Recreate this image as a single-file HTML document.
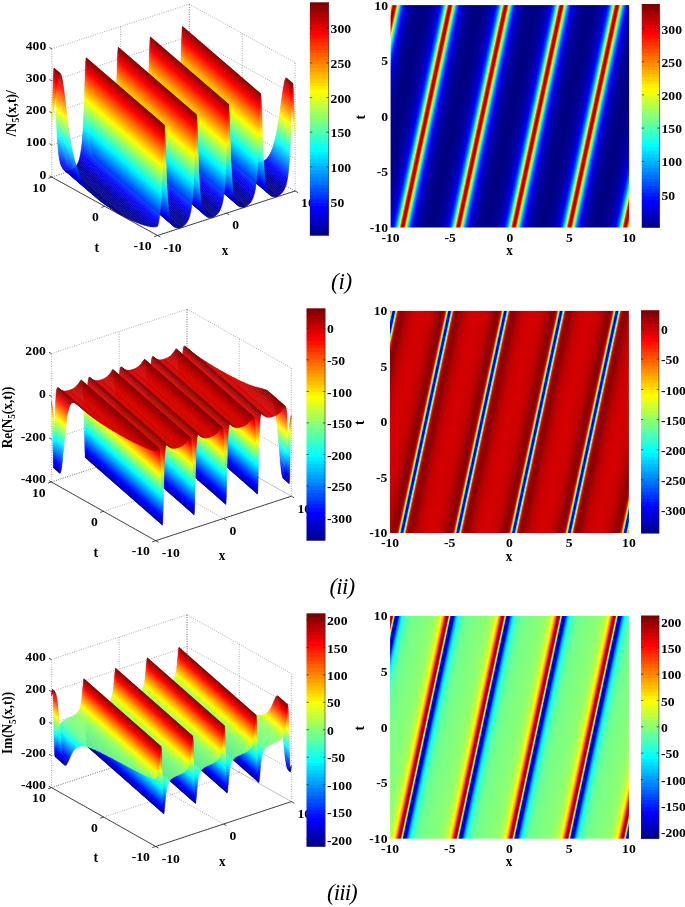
<!DOCTYPE html>
<html><head><meta charset="utf-8"><style>
html,body{margin:0;padding:0;background:#fff;overflow:hidden;width:685px;height:907px;}
svg{display:block;will-change:transform;}
.t{font-family:"Liberation Serif",serif;font-weight:bold;fill:#000;opacity:.999;}
.rn{font-family:"Liberation Serif",serif;font-style:italic;font-size:23px;fill:#000;opacity:.999;}
.sf path{fill:currentColor;stroke:currentColor;stroke-width:.45;stroke-linejoin:round;}
.sf .b{stroke-width:.3;}
.gd{fill:none;stroke:#555;stroke-width:.6;stroke-dasharray:.8 1.6;}
.ax{fill:none;stroke:#222;stroke-width:.8;}
.cbt{fill:none;stroke:#222;stroke-width:.7;}
.cbb{fill:none;stroke:#333;stroke-width:.6;}
</style></head><body>
<svg width="685" height="907" viewBox="0 0 685 907">
<defs><linearGradient id="jet" x1="0" y1="1" x2="0" y2="0"><stop offset="0.0000" stop-color="#00008f"/><stop offset="0.0156" stop-color="#00008f"/><stop offset="0.0156" stop-color="#00009f"/><stop offset="0.0312" stop-color="#00009f"/><stop offset="0.0312" stop-color="#0000af"/><stop offset="0.0469" stop-color="#0000af"/><stop offset="0.0469" stop-color="#0000bf"/><stop offset="0.0625" stop-color="#0000bf"/><stop offset="0.0625" stop-color="#0000cf"/><stop offset="0.0781" stop-color="#0000cf"/><stop offset="0.0781" stop-color="#0000df"/><stop offset="0.0938" stop-color="#0000df"/><stop offset="0.0938" stop-color="#0000ef"/><stop offset="0.1094" stop-color="#0000ef"/><stop offset="0.1094" stop-color="#0000ff"/><stop offset="0.1250" stop-color="#0000ff"/><stop offset="0.1250" stop-color="#0010ff"/><stop offset="0.1406" stop-color="#0010ff"/><stop offset="0.1406" stop-color="#0020ff"/><stop offset="0.1562" stop-color="#0020ff"/><stop offset="0.1562" stop-color="#0030ff"/><stop offset="0.1719" stop-color="#0030ff"/><stop offset="0.1719" stop-color="#0040ff"/><stop offset="0.1875" stop-color="#0040ff"/><stop offset="0.1875" stop-color="#0050ff"/><stop offset="0.2031" stop-color="#0050ff"/><stop offset="0.2031" stop-color="#0060ff"/><stop offset="0.2188" stop-color="#0060ff"/><stop offset="0.2188" stop-color="#0070ff"/><stop offset="0.2344" stop-color="#0070ff"/><stop offset="0.2344" stop-color="#0080ff"/><stop offset="0.2500" stop-color="#0080ff"/><stop offset="0.2500" stop-color="#008fff"/><stop offset="0.2656" stop-color="#008fff"/><stop offset="0.2656" stop-color="#009fff"/><stop offset="0.2812" stop-color="#009fff"/><stop offset="0.2812" stop-color="#00afff"/><stop offset="0.2969" stop-color="#00afff"/><stop offset="0.2969" stop-color="#00bfff"/><stop offset="0.3125" stop-color="#00bfff"/><stop offset="0.3125" stop-color="#00cfff"/><stop offset="0.3281" stop-color="#00cfff"/><stop offset="0.3281" stop-color="#00dfff"/><stop offset="0.3438" stop-color="#00dfff"/><stop offset="0.3438" stop-color="#00efff"/><stop offset="0.3594" stop-color="#00efff"/><stop offset="0.3594" stop-color="#00ffff"/><stop offset="0.3750" stop-color="#00ffff"/><stop offset="0.3750" stop-color="#10ffef"/><stop offset="0.3906" stop-color="#10ffef"/><stop offset="0.3906" stop-color="#20ffdf"/><stop offset="0.4062" stop-color="#20ffdf"/><stop offset="0.4062" stop-color="#30ffcf"/><stop offset="0.4219" stop-color="#30ffcf"/><stop offset="0.4219" stop-color="#40ffbf"/><stop offset="0.4375" stop-color="#40ffbf"/><stop offset="0.4375" stop-color="#50ffaf"/><stop offset="0.4531" stop-color="#50ffaf"/><stop offset="0.4531" stop-color="#60ff9f"/><stop offset="0.4688" stop-color="#60ff9f"/><stop offset="0.4688" stop-color="#70ff8f"/><stop offset="0.4844" stop-color="#70ff8f"/><stop offset="0.4844" stop-color="#80ff80"/><stop offset="0.5000" stop-color="#80ff80"/><stop offset="0.5000" stop-color="#8fff70"/><stop offset="0.5156" stop-color="#8fff70"/><stop offset="0.5156" stop-color="#9fff60"/><stop offset="0.5312" stop-color="#9fff60"/><stop offset="0.5312" stop-color="#afff50"/><stop offset="0.5469" stop-color="#afff50"/><stop offset="0.5469" stop-color="#bfff40"/><stop offset="0.5625" stop-color="#bfff40"/><stop offset="0.5625" stop-color="#cfff30"/><stop offset="0.5781" stop-color="#cfff30"/><stop offset="0.5781" stop-color="#dfff20"/><stop offset="0.5938" stop-color="#dfff20"/><stop offset="0.5938" stop-color="#efff10"/><stop offset="0.6094" stop-color="#efff10"/><stop offset="0.6094" stop-color="#ffff00"/><stop offset="0.6250" stop-color="#ffff00"/><stop offset="0.6250" stop-color="#ffef00"/><stop offset="0.6406" stop-color="#ffef00"/><stop offset="0.6406" stop-color="#ffdf00"/><stop offset="0.6562" stop-color="#ffdf00"/><stop offset="0.6562" stop-color="#ffcf00"/><stop offset="0.6719" stop-color="#ffcf00"/><stop offset="0.6719" stop-color="#ffbf00"/><stop offset="0.6875" stop-color="#ffbf00"/><stop offset="0.6875" stop-color="#ffaf00"/><stop offset="0.7031" stop-color="#ffaf00"/><stop offset="0.7031" stop-color="#ff9f00"/><stop offset="0.7188" stop-color="#ff9f00"/><stop offset="0.7188" stop-color="#ff8f00"/><stop offset="0.7344" stop-color="#ff8f00"/><stop offset="0.7344" stop-color="#ff8000"/><stop offset="0.7500" stop-color="#ff8000"/><stop offset="0.7500" stop-color="#ff7000"/><stop offset="0.7656" stop-color="#ff7000"/><stop offset="0.7656" stop-color="#ff6000"/><stop offset="0.7812" stop-color="#ff6000"/><stop offset="0.7812" stop-color="#ff5000"/><stop offset="0.7969" stop-color="#ff5000"/><stop offset="0.7969" stop-color="#ff4000"/><stop offset="0.8125" stop-color="#ff4000"/><stop offset="0.8125" stop-color="#ff3000"/><stop offset="0.8281" stop-color="#ff3000"/><stop offset="0.8281" stop-color="#ff2000"/><stop offset="0.8438" stop-color="#ff2000"/><stop offset="0.8438" stop-color="#ff1000"/><stop offset="0.8594" stop-color="#ff1000"/><stop offset="0.8594" stop-color="#ff0000"/><stop offset="0.8750" stop-color="#ff0000"/><stop offset="0.8750" stop-color="#ef0000"/><stop offset="0.8906" stop-color="#ef0000"/><stop offset="0.8906" stop-color="#df0000"/><stop offset="0.9062" stop-color="#df0000"/><stop offset="0.9062" stop-color="#cf0000"/><stop offset="0.9219" stop-color="#cf0000"/><stop offset="0.9219" stop-color="#bf0000"/><stop offset="0.9375" stop-color="#bf0000"/><stop offset="0.9375" stop-color="#af0000"/><stop offset="0.9531" stop-color="#af0000"/><stop offset="0.9531" stop-color="#9f0000"/><stop offset="0.9688" stop-color="#9f0000"/><stop offset="0.9688" stop-color="#8f0000"/><stop offset="0.9844" stop-color="#8f0000"/><stop offset="0.9844" stop-color="#800000"/><stop offset="1.0000" stop-color="#800000"/></linearGradient>
<linearGradient id="dg0" gradientUnits="userSpaceOnUse" spreadMethod="repeat" x1="533.70" y1="5.10" x2="586.94" y2="16.52"><stop offset="0.0000" stop-color="#000082"/><stop offset="0.0535" stop-color="#000084"/><stop offset="0.1071" stop-color="#00008b"/><stop offset="0.1606" stop-color="#000095"/><stop offset="0.2028" stop-color="#0000a2"/><stop offset="0.2323" stop-color="#0000ae"/><stop offset="0.2547" stop-color="#0000bb"/><stop offset="0.2726" stop-color="#0000c8"/><stop offset="0.2873" stop-color="#0000d5"/><stop offset="0.2997" stop-color="#0000e1"/><stop offset="0.3105" stop-color="#0000ee"/><stop offset="0.3199" stop-color="#0000fb"/><stop offset="0.3305" stop-color="#000dff"/><stop offset="0.3377" stop-color="#001aff"/><stop offset="0.3443" stop-color="#0026ff"/><stop offset="0.3502" stop-color="#0033ff"/><stop offset="0.3557" stop-color="#0040ff"/><stop offset="0.3608" stop-color="#004dff"/><stop offset="0.3655" stop-color="#0059ff"/><stop offset="0.3699" stop-color="#0066ff"/><stop offset="0.3740" stop-color="#0073ff"/><stop offset="0.3778" stop-color="#0080ff"/><stop offset="0.3815" stop-color="#008dff"/><stop offset="0.3850" stop-color="#009aff"/><stop offset="0.3882" stop-color="#00a7ff"/><stop offset="0.3913" stop-color="#00b3ff"/><stop offset="0.3942" stop-color="#00c0ff"/><stop offset="0.3971" stop-color="#00cdff"/><stop offset="0.3998" stop-color="#00daff"/><stop offset="0.4024" stop-color="#00e7ff"/><stop offset="0.4049" stop-color="#00f4ff"/><stop offset="0.4093" stop-color="#0dfff2"/><stop offset="0.4116" stop-color="#1affe5"/><stop offset="0.4138" stop-color="#27ffd8"/><stop offset="0.4159" stop-color="#33ffcc"/><stop offset="0.4179" stop-color="#40ffbf"/><stop offset="0.4199" stop-color="#4dffb2"/><stop offset="0.4219" stop-color="#5affa5"/><stop offset="0.4238" stop-color="#67ff98"/><stop offset="0.4256" stop-color="#74ff8b"/><stop offset="0.4274" stop-color="#81ff7e"/><stop offset="0.4292" stop-color="#8eff71"/><stop offset="0.4309" stop-color="#9bff64"/><stop offset="0.4326" stop-color="#a8ff57"/><stop offset="0.4343" stop-color="#b4ff4b"/><stop offset="0.4359" stop-color="#c1ff3e"/><stop offset="0.4376" stop-color="#ceff31"/><stop offset="0.4391" stop-color="#dbff24"/><stop offset="0.4407" stop-color="#e8ff17"/><stop offset="0.4422" stop-color="#f5ff0a"/><stop offset="0.4450" stop-color="#fff200"/><stop offset="0.4465" stop-color="#ffe500"/><stop offset="0.4480" stop-color="#ffd800"/><stop offset="0.4495" stop-color="#ffcb00"/><stop offset="0.4510" stop-color="#ffbe00"/><stop offset="0.4524" stop-color="#ffb100"/><stop offset="0.4539" stop-color="#ffa400"/><stop offset="0.4553" stop-color="#ff9700"/><stop offset="0.4568" stop-color="#ff8b00"/><stop offset="0.4582" stop-color="#ff7e00"/><stop offset="0.4597" stop-color="#ff7100"/><stop offset="0.4612" stop-color="#ff6400"/><stop offset="0.4627" stop-color="#ff5700"/><stop offset="0.4642" stop-color="#ff4a00"/><stop offset="0.4658" stop-color="#ff3d00"/><stop offset="0.4673" stop-color="#ff3000"/><stop offset="0.4689" stop-color="#ff2300"/><stop offset="0.4706" stop-color="#ff1600"/><stop offset="0.4723" stop-color="#ff0900"/><stop offset="0.4753" stop-color="#f20000"/><stop offset="0.4772" stop-color="#e50000"/><stop offset="0.4792" stop-color="#d80000"/><stop offset="0.4813" stop-color="#cb0000"/><stop offset="0.4837" stop-color="#be0000"/><stop offset="0.4864" stop-color="#b10000"/><stop offset="0.4897" stop-color="#a40000"/><stop offset="0.4945" stop-color="#980000"/><stop offset="0.5103" stop-color="#a40000"/><stop offset="0.5136" stop-color="#b10000"/><stop offset="0.5163" stop-color="#be0000"/><stop offset="0.5186" stop-color="#cb0000"/><stop offset="0.5208" stop-color="#d80000"/><stop offset="0.5228" stop-color="#e50000"/><stop offset="0.5247" stop-color="#f20000"/><stop offset="0.5265" stop-color="#ff0000"/><stop offset="0.5282" stop-color="#ff0d00"/><stop offset="0.5299" stop-color="#ff1a00"/><stop offset="0.5315" stop-color="#ff2700"/><stop offset="0.5331" stop-color="#ff3400"/><stop offset="0.5346" stop-color="#ff4100"/><stop offset="0.5362" stop-color="#ff4e00"/><stop offset="0.5377" stop-color="#ff5b00"/><stop offset="0.5392" stop-color="#ff6800"/><stop offset="0.5407" stop-color="#ff7500"/><stop offset="0.5422" stop-color="#ff8200"/><stop offset="0.5436" stop-color="#ff8f00"/><stop offset="0.5451" stop-color="#ff9b00"/><stop offset="0.5465" stop-color="#ffa800"/><stop offset="0.5480" stop-color="#ffb500"/><stop offset="0.5495" stop-color="#ffc200"/><stop offset="0.5510" stop-color="#ffcf00"/><stop offset="0.5525" stop-color="#ffdc00"/><stop offset="0.5540" stop-color="#ffe900"/><stop offset="0.5555" stop-color="#fff600"/><stop offset="0.5581" stop-color="#f2ff0d"/><stop offset="0.5596" stop-color="#e5ff1a"/><stop offset="0.5613" stop-color="#d8ff27"/><stop offset="0.5628" stop-color="#cbff34"/><stop offset="0.5645" stop-color="#beff41"/><stop offset="0.5661" stop-color="#b1ff4e"/><stop offset="0.5678" stop-color="#a4ff5b"/><stop offset="0.5695" stop-color="#97ff68"/><stop offset="0.5713" stop-color="#8aff75"/><stop offset="0.5730" stop-color="#7dff82"/><stop offset="0.5748" stop-color="#70ff8f"/><stop offset="0.5767" stop-color="#64ff9b"/><stop offset="0.5786" stop-color="#57ffa8"/><stop offset="0.5806" stop-color="#4affb5"/><stop offset="0.5826" stop-color="#3dffc2"/><stop offset="0.5846" stop-color="#30ffcf"/><stop offset="0.5867" stop-color="#23ffdc"/><stop offset="0.5889" stop-color="#16ffe9"/><stop offset="0.5912" stop-color="#09fff6"/><stop offset="0.5954" stop-color="#00f2ff"/><stop offset="0.5979" stop-color="#00e5ff"/><stop offset="0.6005" stop-color="#00d8ff"/><stop offset="0.6032" stop-color="#00ccff"/><stop offset="0.6060" stop-color="#00bfff"/><stop offset="0.6090" stop-color="#00b2ff"/><stop offset="0.6121" stop-color="#00a5ff"/><stop offset="0.6155" stop-color="#0098ff"/><stop offset="0.6189" stop-color="#008bff"/><stop offset="0.6225" stop-color="#007fff"/><stop offset="0.6264" stop-color="#0072ff"/><stop offset="0.6306" stop-color="#0065ff"/><stop offset="0.6350" stop-color="#0058ff"/><stop offset="0.6397" stop-color="#004bff"/><stop offset="0.6449" stop-color="#003eff"/><stop offset="0.6504" stop-color="#0032ff"/><stop offset="0.6564" stop-color="#0025ff"/><stop offset="0.6631" stop-color="#0018ff"/><stop offset="0.6704" stop-color="#000bff"/><stop offset="0.6865" stop-color="#0000f2"/><stop offset="0.6968" stop-color="#0000e5"/><stop offset="0.7087" stop-color="#0000d9"/><stop offset="0.7226" stop-color="#0000cc"/><stop offset="0.7393" stop-color="#0000bf"/><stop offset="0.7601" stop-color="#0000b2"/><stop offset="0.7869" stop-color="#0000a6"/><stop offset="0.8242" stop-color="#000099"/><stop offset="0.8777" stop-color="#00008d"/><stop offset="0.9313" stop-color="#000086"/><stop offset="0.9849" stop-color="#000082"/><stop offset="1.0000" stop-color="#000082"/></linearGradient>
<linearGradient id="dg1" gradientUnits="userSpaceOnUse" spreadMethod="repeat" x1="533.34" y1="310.90" x2="586.66" y2="322.37"><stop offset="0.0000" stop-color="#d40000"/><stop offset="0.0535" stop-color="#d20000"/><stop offset="0.1071" stop-color="#cf0000"/><stop offset="0.1606" stop-color="#c80000"/><stop offset="0.2142" stop-color="#bd0000"/><stop offset="0.2555" stop-color="#b00000"/><stop offset="0.2869" stop-color="#a40000"/><stop offset="0.3135" stop-color="#970000"/><stop offset="0.3394" stop-color="#8a0000"/><stop offset="0.3930" stop-color="#8f0000"/><stop offset="0.4008" stop-color="#9b0000"/><stop offset="0.4062" stop-color="#a80000"/><stop offset="0.4104" stop-color="#b50000"/><stop offset="0.4140" stop-color="#c20000"/><stop offset="0.4170" stop-color="#cf0000"/><stop offset="0.4197" stop-color="#dc0000"/><stop offset="0.4221" stop-color="#e90000"/><stop offset="0.4243" stop-color="#f60000"/><stop offset="0.4278" stop-color="#ff0d00"/><stop offset="0.4296" stop-color="#ff1a00"/><stop offset="0.4313" stop-color="#ff2700"/><stop offset="0.4329" stop-color="#ff3400"/><stop offset="0.4344" stop-color="#ff4100"/><stop offset="0.4358" stop-color="#ff4e00"/><stop offset="0.4372" stop-color="#ff5b00"/><stop offset="0.4386" stop-color="#ff6800"/><stop offset="0.4399" stop-color="#ff7500"/><stop offset="0.4411" stop-color="#ff8200"/><stop offset="0.4423" stop-color="#ff9000"/><stop offset="0.4435" stop-color="#ff9d00"/><stop offset="0.4446" stop-color="#ffa900"/><stop offset="0.4457" stop-color="#ffb600"/><stop offset="0.4467" stop-color="#ffc300"/><stop offset="0.4478" stop-color="#ffd100"/><stop offset="0.4488" stop-color="#ffdd00"/><stop offset="0.4498" stop-color="#ffeb00"/><stop offset="0.4507" stop-color="#fff700"/><stop offset="0.4522" stop-color="#f2ff0d"/><stop offset="0.4532" stop-color="#e4ff1b"/><stop offset="0.4541" stop-color="#d8ff27"/><stop offset="0.4550" stop-color="#caff35"/><stop offset="0.4559" stop-color="#bdff42"/><stop offset="0.4568" stop-color="#b0ff4f"/><stop offset="0.4577" stop-color="#a3ff5c"/><stop offset="0.4585" stop-color="#96ff69"/><stop offset="0.4593" stop-color="#89ff76"/><stop offset="0.4602" stop-color="#7bff84"/><stop offset="0.4610" stop-color="#6eff91"/><stop offset="0.4619" stop-color="#61ff9e"/><stop offset="0.4627" stop-color="#54ffab"/><stop offset="0.4635" stop-color="#47ffb8"/><stop offset="0.4643" stop-color="#3affc5"/><stop offset="0.4651" stop-color="#2dffd2"/><stop offset="0.4659" stop-color="#20ffdf"/><stop offset="0.4667" stop-color="#13ffec"/><stop offset="0.4675" stop-color="#06fff9"/><stop offset="0.4687" stop-color="#00f2ff"/><stop offset="0.4695" stop-color="#00e5ff"/><stop offset="0.4703" stop-color="#00d8ff"/><stop offset="0.4711" stop-color="#00cbff"/><stop offset="0.4719" stop-color="#00beff"/><stop offset="0.4728" stop-color="#00b0ff"/><stop offset="0.4736" stop-color="#00a3ff"/><stop offset="0.4745" stop-color="#0096ff"/><stop offset="0.4753" stop-color="#0089ff"/><stop offset="0.4762" stop-color="#007cff"/><stop offset="0.4771" stop-color="#006fff"/><stop offset="0.4780" stop-color="#0062ff"/><stop offset="0.4789" stop-color="#0055ff"/><stop offset="0.4799" stop-color="#0048ff"/><stop offset="0.4809" stop-color="#003aff"/><stop offset="0.4819" stop-color="#002dff"/><stop offset="0.4829" stop-color="#0020ff"/><stop offset="0.4840" stop-color="#0013ff"/><stop offset="0.4852" stop-color="#0006ff"/><stop offset="0.4870" stop-color="#0000f2"/><stop offset="0.4884" stop-color="#0000e5"/><stop offset="0.4900" stop-color="#0000d8"/><stop offset="0.4918" stop-color="#0000cb"/><stop offset="0.4940" stop-color="#0000be"/><stop offset="0.4980" stop-color="#0000b1"/><stop offset="0.5060" stop-color="#0000be"/><stop offset="0.5082" stop-color="#0000cb"/><stop offset="0.5100" stop-color="#0000d8"/><stop offset="0.5115" stop-color="#0000e5"/><stop offset="0.5130" stop-color="#0000f2"/><stop offset="0.5142" stop-color="#0000ff"/><stop offset="0.5154" stop-color="#000dff"/><stop offset="0.5165" stop-color="#001aff"/><stop offset="0.5176" stop-color="#0027ff"/><stop offset="0.5186" stop-color="#0034ff"/><stop offset="0.5196" stop-color="#0042ff"/><stop offset="0.5206" stop-color="#004eff"/><stop offset="0.5216" stop-color="#005cff"/><stop offset="0.5224" stop-color="#0069ff"/><stop offset="0.5233" stop-color="#0076ff"/><stop offset="0.5242" stop-color="#0083ff"/><stop offset="0.5251" stop-color="#0090ff"/><stop offset="0.5259" stop-color="#009dff"/><stop offset="0.5268" stop-color="#00aaff"/><stop offset="0.5276" stop-color="#00b8ff"/><stop offset="0.5285" stop-color="#00c5ff"/><stop offset="0.5293" stop-color="#00d3ff"/><stop offset="0.5301" stop-color="#00dfff"/><stop offset="0.5310" stop-color="#00ecff"/><stop offset="0.5318" stop-color="#00f9ff"/><stop offset="0.5329" stop-color="#0dfff2"/><stop offset="0.5337" stop-color="#1affe5"/><stop offset="0.5345" stop-color="#27ffd8"/><stop offset="0.5353" stop-color="#34ffcb"/><stop offset="0.5361" stop-color="#41ffbe"/><stop offset="0.5369" stop-color="#4dffb2"/><stop offset="0.5377" stop-color="#5affa5"/><stop offset="0.5385" stop-color="#68ff97"/><stop offset="0.5394" stop-color="#75ff8a"/><stop offset="0.5403" stop-color="#82ff7d"/><stop offset="0.5411" stop-color="#90ff6f"/><stop offset="0.5420" stop-color="#9dff62"/><stop offset="0.5428" stop-color="#aaff55"/><stop offset="0.5436" stop-color="#b6ff49"/><stop offset="0.5445" stop-color="#c4ff3b"/><stop offset="0.5454" stop-color="#d1ff2e"/><stop offset="0.5464" stop-color="#deff21"/><stop offset="0.5472" stop-color="#ebff14"/><stop offset="0.5482" stop-color="#f8ff07"/><stop offset="0.5496" stop-color="#fff200"/><stop offset="0.5506" stop-color="#ffe500"/><stop offset="0.5516" stop-color="#ffd800"/><stop offset="0.5526" stop-color="#ffcb00"/><stop offset="0.5537" stop-color="#ffbe00"/><stop offset="0.5547" stop-color="#ffb100"/><stop offset="0.5558" stop-color="#ffa400"/><stop offset="0.5570" stop-color="#ff9700"/><stop offset="0.5581" stop-color="#ff8a00"/><stop offset="0.5594" stop-color="#ff7d00"/><stop offset="0.5606" stop-color="#ff7000"/><stop offset="0.5619" stop-color="#ff6300"/><stop offset="0.5632" stop-color="#ff5600"/><stop offset="0.5646" stop-color="#ff4900"/><stop offset="0.5661" stop-color="#ff3c00"/><stop offset="0.5676" stop-color="#ff2f00"/><stop offset="0.5693" stop-color="#ff2200"/><stop offset="0.5710" stop-color="#ff1500"/><stop offset="0.5729" stop-color="#ff0800"/><stop offset="0.5762" stop-color="#f20000"/><stop offset="0.5785" stop-color="#e50000"/><stop offset="0.5809" stop-color="#d80000"/><stop offset="0.5837" stop-color="#cc0000"/><stop offset="0.5868" stop-color="#bf0000"/><stop offset="0.5905" stop-color="#b20000"/><stop offset="0.5949" stop-color="#a50000"/><stop offset="0.6008" stop-color="#980000"/><stop offset="0.6095" stop-color="#8c0000"/><stop offset="0.6631" stop-color="#8b0000"/><stop offset="0.6887" stop-color="#980000"/><stop offset="0.7156" stop-color="#a50000"/><stop offset="0.7476" stop-color="#b20000"/><stop offset="0.7903" stop-color="#be0000"/><stop offset="0.8439" stop-color="#c90000"/><stop offset="0.8974" stop-color="#cf0000"/><stop offset="0.9510" stop-color="#d30000"/><stop offset="1.0000" stop-color="#d40000"/></linearGradient>
<linearGradient id="dg2" gradientUnits="userSpaceOnUse" spreadMethod="repeat" x1="533.38" y1="616.00" x2="586.69" y2="627.43"><stop offset="0.0000" stop-color="#80ff7f"/><stop offset="0.0535" stop-color="#84ff7b"/><stop offset="0.1071" stop-color="#88ff77"/><stop offset="0.1606" stop-color="#8dff72"/><stop offset="0.2142" stop-color="#97ff68"/><stop offset="0.2546" stop-color="#a4ff5b"/><stop offset="0.2806" stop-color="#b1ff4e"/><stop offset="0.2993" stop-color="#bdff42"/><stop offset="0.3137" stop-color="#caff35"/><stop offset="0.3253" stop-color="#d7ff28"/><stop offset="0.3351" stop-color="#e4ff1b"/><stop offset="0.3434" stop-color="#f1ff0e"/><stop offset="0.3507" stop-color="#fdff02"/><stop offset="0.3580" stop-color="#fff200"/><stop offset="0.3637" stop-color="#ffe500"/><stop offset="0.3689" stop-color="#ffd900"/><stop offset="0.3737" stop-color="#ffcc00"/><stop offset="0.3781" stop-color="#ffbf00"/><stop offset="0.3822" stop-color="#ffb200"/><stop offset="0.3861" stop-color="#ffa500"/><stop offset="0.3897" stop-color="#ff9800"/><stop offset="0.3932" stop-color="#ff8c00"/><stop offset="0.3965" stop-color="#ff7f00"/><stop offset="0.3997" stop-color="#ff7200"/><stop offset="0.4027" stop-color="#ff6500"/><stop offset="0.4055" stop-color="#ff5800"/><stop offset="0.4083" stop-color="#ff4b00"/><stop offset="0.4111" stop-color="#ff3e00"/><stop offset="0.4138" stop-color="#ff3100"/><stop offset="0.4164" stop-color="#ff2400"/><stop offset="0.4190" stop-color="#ff1800"/><stop offset="0.4216" stop-color="#ff0b00"/><stop offset="0.4264" stop-color="#f20000"/><stop offset="0.4289" stop-color="#e50000"/><stop offset="0.4316" stop-color="#d90000"/><stop offset="0.4343" stop-color="#cc0000"/><stop offset="0.4373" stop-color="#bf0000"/><stop offset="0.4405" stop-color="#b20000"/><stop offset="0.4442" stop-color="#a50000"/><stop offset="0.4495" stop-color="#980000"/><stop offset="0.4639" stop-color="#a50000"/><stop offset="0.4666" stop-color="#b20000"/><stop offset="0.4688" stop-color="#bf0000"/><stop offset="0.4705" stop-color="#cc0000"/><stop offset="0.4721" stop-color="#d90000"/><stop offset="0.4736" stop-color="#e60000"/><stop offset="0.4750" stop-color="#f30000"/><stop offset="0.4773" stop-color="#ff0d00"/><stop offset="0.4784" stop-color="#ff1a00"/><stop offset="0.4794" stop-color="#ff2700"/><stop offset="0.4804" stop-color="#ff3300"/><stop offset="0.4814" stop-color="#ff4100"/><stop offset="0.4824" stop-color="#ff4e00"/><stop offset="0.4833" stop-color="#ff5b00"/><stop offset="0.4842" stop-color="#ff6800"/><stop offset="0.4851" stop-color="#ff7500"/><stop offset="0.4859" stop-color="#ff8200"/><stop offset="0.4868" stop-color="#ff9000"/><stop offset="0.4875" stop-color="#ff9d00"/><stop offset="0.4883" stop-color="#ffaa00"/><stop offset="0.4891" stop-color="#ffb700"/><stop offset="0.4899" stop-color="#ffc400"/><stop offset="0.4906" stop-color="#ffd100"/><stop offset="0.4914" stop-color="#ffde00"/><stop offset="0.4921" stop-color="#ffec00"/><stop offset="0.4929" stop-color="#fff900"/><stop offset="0.4940" stop-color="#f2ff0d"/><stop offset="0.4947" stop-color="#e5ff1a"/><stop offset="0.4954" stop-color="#d8ff27"/><stop offset="0.4960" stop-color="#cbff34"/><stop offset="0.4967" stop-color="#beff41"/><stop offset="0.4975" stop-color="#b1ff4e"/><stop offset="0.4981" stop-color="#a3ff5c"/><stop offset="0.4988" stop-color="#96ff69"/><stop offset="0.4995" stop-color="#89ff76"/><stop offset="0.5002" stop-color="#7cff83"/><stop offset="0.5009" stop-color="#6eff91"/><stop offset="0.5016" stop-color="#61ff9e"/><stop offset="0.5023" stop-color="#54ffab"/><stop offset="0.5030" stop-color="#47ffb8"/><stop offset="0.5038" stop-color="#3affc5"/><stop offset="0.5044" stop-color="#2dffd2"/><stop offset="0.5051" stop-color="#20ffdf"/><stop offset="0.5059" stop-color="#13ffec"/><stop offset="0.5065" stop-color="#06fff9"/><stop offset="0.5076" stop-color="#00f2ff"/><stop offset="0.5083" stop-color="#00e5ff"/><stop offset="0.5091" stop-color="#00d7ff"/><stop offset="0.5098" stop-color="#00caff"/><stop offset="0.5106" stop-color="#00bdff"/><stop offset="0.5114" stop-color="#00b0ff"/><stop offset="0.5122" stop-color="#00a3ff"/><stop offset="0.5130" stop-color="#0095ff"/><stop offset="0.5138" stop-color="#0089ff"/><stop offset="0.5146" stop-color="#007bff"/><stop offset="0.5155" stop-color="#006eff"/><stop offset="0.5164" stop-color="#0061ff"/><stop offset="0.5173" stop-color="#0054ff"/><stop offset="0.5182" stop-color="#0047ff"/><stop offset="0.5192" stop-color="#003aff"/><stop offset="0.5202" stop-color="#002dff"/><stop offset="0.5212" stop-color="#0020ff"/><stop offset="0.5223" stop-color="#0013ff"/><stop offset="0.5235" stop-color="#0006ff"/><stop offset="0.5253" stop-color="#0000f2"/><stop offset="0.5266" stop-color="#0000e5"/><stop offset="0.5281" stop-color="#0000d8"/><stop offset="0.5298" stop-color="#0000cb"/><stop offset="0.5317" stop-color="#0000be"/><stop offset="0.5340" stop-color="#0000b1"/><stop offset="0.5368" stop-color="#0000a4"/><stop offset="0.5422" stop-color="#000097"/><stop offset="0.5548" stop-color="#0000a4"/><stop offset="0.5587" stop-color="#0000b1"/><stop offset="0.5620" stop-color="#0000be"/><stop offset="0.5650" stop-color="#0000cb"/><stop offset="0.5678" stop-color="#0000d8"/><stop offset="0.5706" stop-color="#0000e5"/><stop offset="0.5731" stop-color="#0000f2"/><stop offset="0.5757" stop-color="#0000fe"/><stop offset="0.5784" stop-color="#000dff"/><stop offset="0.5809" stop-color="#001aff"/><stop offset="0.5835" stop-color="#0026ff"/><stop offset="0.5862" stop-color="#0033ff"/><stop offset="0.5889" stop-color="#0040ff"/><stop offset="0.5917" stop-color="#004dff"/><stop offset="0.5944" stop-color="#005aff"/><stop offset="0.5974" stop-color="#0067ff"/><stop offset="0.6003" stop-color="#0074ff"/><stop offset="0.6035" stop-color="#0081ff"/><stop offset="0.6068" stop-color="#008eff"/><stop offset="0.6102" stop-color="#009aff"/><stop offset="0.6139" stop-color="#00a7ff"/><stop offset="0.6178" stop-color="#00b4ff"/><stop offset="0.6218" stop-color="#00c1ff"/><stop offset="0.6262" stop-color="#00ceff"/><stop offset="0.6310" stop-color="#00dbff"/><stop offset="0.6362" stop-color="#00e7ff"/><stop offset="0.6420" stop-color="#00f4ff"/><stop offset="0.6544" stop-color="#0dfff2"/><stop offset="0.6624" stop-color="#1affe5"/><stop offset="0.6717" stop-color="#26ffd9"/><stop offset="0.6827" stop-color="#33ffcc"/><stop offset="0.6962" stop-color="#40ffbf"/><stop offset="0.7135" stop-color="#4dffb2"/><stop offset="0.7369" stop-color="#59ffa6"/><stop offset="0.7719" stop-color="#66ff99"/><stop offset="0.8255" stop-color="#71ff8e"/><stop offset="0.8790" stop-color="#78ff87"/><stop offset="0.9326" stop-color="#7cff83"/><stop offset="0.9861" stop-color="#80ff7f"/><stop offset="1.0000" stop-color="#80ff7f"/></linearGradient></defs>
<path class="gd" d="M51.8 177.1L189.4 132.6M189.4 132.6L295.1 191.0M51.8 145.0L189.4 100.5M189.4 100.5L295.1 158.9M51.8 112.9L189.4 68.4M189.4 68.4L295.1 126.8M51.8 80.9L189.4 36.3M189.4 36.3L295.1 94.7M51.8 48.8L189.3 4.2M189.3 4.2L295.1 62.6M51.8 177.1L51.8 48.8M157.5 235.5L51.8 177.1M120.6 154.8L120.6 26.5M226.3 213.2L120.6 154.8M189.4 132.6L189.3 4.2M295.1 191.0L189.4 132.6M295.1 191.0L295.1 62.6M157.5 235.5L295.1 191.0M242.2 161.8L242.2 33.4M104.7 206.3L242.2 161.8M189.4 132.6L189.3 4.2M51.8 177.1L189.4 132.6"/>
<g class="sf">
<path class="b" color="#98ff67" d="M295.0 134.0L295.1 134.9L294.9 133.9Z"/>
<path class="b" color="#a3ff5c" d="M295.0 132.8L295.0 134.0L294.9 133.9L294.8 132.6Z"/>
<path class="b" color="#aeff51" d="M294.9 131.7L295.0 132.8L294.8 132.6L294.6 131.3Z"/>
<path class="b" color="#baff45" d="M294.9 130.5L294.9 131.7L294.6 131.3L294.4 130.0Z"/>
<path class="b" color="#c5ff3a" d="M294.9 129.3L294.9 130.5L294.4 130.0L294.2 128.7Z"/>
<path class="b" color="#d0ff2f" d="M294.8 128.1L294.9 129.3L294.2 128.7L294.1 127.5Z"/>
<path class="b" color="#dbff24" d="M294.8 126.9L294.8 128.1L294.1 127.5L293.9 126.2Z"/>
<path class="b" color="#e6ff19" d="M294.7 125.7L294.8 126.9L293.9 126.2L293.7 124.9Z"/>
<path class="b" color="#f2ff0d" d="M294.7 124.6L294.7 125.7L293.7 124.9L293.6 123.6Z"/>
<path class="b" color="#fdff02" d="M294.6 123.4L294.7 124.6L293.6 123.6L293.4 122.3Z"/>
<path class="b" color="#fff600" d="M294.6 122.2L294.6 123.4L293.4 122.3L293.2 121.0Z"/>
<path class="b" color="#ffeb00" d="M294.6 121.0L294.6 122.2L293.2 121.0L293.1 119.8Z"/>
<path class="b" color="#ffe000" d="M294.5 119.9L294.6 121.0L293.1 119.8L292.9 118.5Z"/>
<path class="b" color="#ffd500" d="M294.5 118.7L294.5 119.9L292.9 118.5L292.8 117.2Z"/>
<path class="b" color="#ffca00" d="M294.4 117.5L294.5 118.7L292.8 117.2L292.6 115.9Z"/>
<path class="b" color="#ffbf00" d="M294.4 116.3L294.4 117.5L292.6 115.9L292.5 114.7Z"/>
<path class="b" color="#ffb400" d="M294.4 115.2L294.4 116.3L292.5 114.7L292.3 113.4Z"/>
<path class="b" color="#ffa900" d="M294.3 114.0L294.4 115.2L292.3 113.4L292.2 112.1Z"/>
<path class="b" color="#ff9e00" d="M294.3 112.8L294.3 114.0L292.2 112.1L292.0 110.8Z"/>
<path class="b" color="#ff9300" d="M294.2 111.6L294.3 112.8L292.0 110.8L291.9 109.6Z"/>
<path class="b" color="#ff8800" d="M294.2 110.4L294.2 111.6L291.9 109.6L291.7 108.3Z"/>
<path class="b" color="#ff7d00" d="M294.2 109.2L294.2 110.4L291.7 108.3L291.6 107.0Z"/>
<path class="b" color="#ff7200" d="M294.1 108.1L294.2 109.2L291.6 107.0L291.4 105.7Z"/>
<path class="b" color="#ff6800" d="M294.1 106.9L294.1 108.1L291.4 105.7L291.3 104.5Z"/>
<path class="b" color="#ff5d00" d="M294.0 105.7L294.1 106.9L291.3 104.5L291.1 103.2Z"/>
<path class="b" color="#ff5200" d="M294.0 104.5L294.0 105.7L291.1 103.2L290.9 101.9Z"/>
<path class="b" color="#ff4700" d="M294.0 103.4L294.0 104.5L290.9 101.9L290.8 100.6Z"/>
<path class="b" color="#ff3c00" d="M293.9 102.2L294.0 103.4L290.8 100.6L290.6 99.3Z"/>
<path class="b" color="#ff3200" d="M293.9 101.0L293.9 102.2L290.6 99.3L290.5 98.1Z"/>
<path class="b" color="#ff2700" d="M293.8 99.8L293.9 101.0L290.5 98.1L290.3 96.8Z"/>
<path class="b" color="#ff1c00" d="M293.8 98.7L293.8 99.8L290.3 96.8L290.2 95.5Z"/>
<path class="b" color="#ff1200" d="M293.7 97.5L293.8 98.7L290.2 95.5L290.0 94.3Z"/>
<path class="b" color="#ff0700" d="M293.7 96.3L293.7 97.5L290.0 94.3L289.8 93.0Z"/>
<path class="b" color="#fb0000" d="M293.7 95.1L293.7 96.3L289.8 93.0L289.6 91.7Z"/>
<path class="b" color="#f10000" d="M293.6 93.9L293.7 95.1L289.6 91.7L289.5 90.4Z"/>
<path class="b" color="#e60000" d="M293.6 92.8L293.6 93.9L289.5 90.4L289.3 89.1Z"/>
<path class="b" color="#db0000" d="M293.5 91.6L293.6 92.8L289.3 89.1L289.1 87.8Z"/>
<path class="b" color="#d10000" d="M293.4 90.4L293.5 91.6L289.1 87.8L288.9 86.5Z"/>
<path class="b" color="#c60000" d="M293.4 89.2L293.4 90.4L288.9 86.5L288.6 85.2Z"/>
<path class="b" color="#bc0000" d="M293.3 88.1L293.4 89.2L288.6 85.2L288.4 83.8Z"/>
<path class="b" color="#b10000" d="M293.3 86.9L293.3 88.1L288.4 83.8L288.1 82.5Z"/>
<path class="b" color="#a70000" d="M293.2 85.7L293.3 86.9L288.1 82.5L287.8 81.1Z"/>
<path class="b" color="#9c0000" d="M293.1 84.6L293.2 85.7L287.8 81.1L287.4 79.7Z"/>
<path class="b" color="#920000" d="M292.8 83.4L293.1 84.6L287.4 79.7L286.5 78.0Z"/>
<path color="#8f0000" d="M285.8 78.1L286.5 78.0L292.8 83.4L292.7 84.0Z"/>
<path color="#960000" d="M285.3 79.1L285.8 78.1L292.7 84.0L292.5 85.3Z"/>
<path color="#a10000" d="M285.0 80.1L285.3 79.1L292.5 85.3L292.4 86.5Z"/>
<path color="#ab0000" d="M284.7 81.1L285.0 80.1L292.4 86.5L292.4 87.7Z"/>
<path color="#b60000" d="M284.4 82.2L284.7 81.1L292.4 87.7L292.3 88.9Z"/>
<path color="#c00000" d="M284.2 83.2L284.4 82.2L292.3 88.9L292.2 90.1Z"/>
<path color="#cb0000" d="M284.0 84.3L284.2 83.2L292.2 90.1L292.2 91.3Z"/>
<path color="#d60000" d="M283.8 85.4L284.0 84.3L292.2 91.3L292.1 92.6Z"/>
<path color="#e00000" d="M283.6 86.5L283.8 85.4L292.1 92.6L292.1 93.8Z"/>
<path color="#eb0000" d="M283.4 87.5L283.6 86.5L292.1 93.8L292.0 95.0Z"/>
<path color="#f50000" d="M283.2 88.6L283.4 87.5L292.0 95.0L292.0 96.2Z"/>
<path color="#ff0100" d="M283.1 89.7L283.2 88.6L292.0 96.2L291.9 97.4Z"/>
<path color="#ff0c00" d="M282.9 90.8L283.1 89.7L291.9 97.4L291.9 98.6Z"/>
<path color="#ff1600" d="M282.7 91.9L282.9 90.8L291.9 98.6L291.9 99.8Z"/>
<path color="#ff2100" d="M282.6 93.0L282.7 91.9L291.9 99.8L291.8 101.0Z"/>
<path color="#ff2c00" d="M282.4 94.1L282.6 93.0L291.8 101.0L291.8 102.2Z"/>
<path color="#ff3600" d="M282.3 95.2L282.4 94.1L291.8 102.2L291.7 103.4Z"/>
<path color="#ff4100" d="M282.1 96.3L282.3 95.2L291.7 103.4L291.7 104.6Z"/>
<path color="#ff4c00" d="M281.9 97.5L282.1 96.3L291.7 104.6L291.7 105.8Z"/>
<path color="#ff5700" d="M281.8 98.5L281.9 97.5L291.7 105.8L291.6 107.0Z"/>
<path color="#ff6100" d="M281.6 99.7L281.8 98.5L291.6 107.0L291.6 108.2Z"/>
<path color="#ff6c00" d="M281.5 100.8L281.6 99.7L291.6 108.2L291.5 109.4Z"/>
<path color="#ff7700" d="M281.3 101.9L281.5 100.8L291.5 109.4L291.5 110.6Z"/>
<path color="#ff8200" d="M281.2 103.0L281.3 101.9L291.5 110.6L291.5 111.8Z"/>
<path color="#ff8d00" d="M281.0 104.1L281.2 103.0L291.5 111.8L291.4 113.0Z"/>
<path color="#ff9800" d="M280.9 105.2L281.0 104.1L291.4 113.0L291.4 114.2Z"/>
<path color="#ffa300" d="M280.7 106.3L280.9 105.2L291.4 114.2L291.3 115.4Z"/>
<path color="#ffae00" d="M280.6 107.4L280.7 106.3L291.3 115.4L291.3 116.6Z"/>
<path color="#ffb900" d="M280.4 108.5L280.6 107.4L291.3 116.6L291.3 117.8Z"/>
<path color="#ffc400" d="M280.3 109.6L280.4 108.5L291.3 117.8L291.2 119.0Z"/>
<path color="#ffcf00" d="M280.1 110.7L280.3 109.6L291.2 119.0L291.2 120.2Z"/>
<path color="#ffda00" d="M280.0 111.8L280.1 110.7L291.2 120.2L291.1 121.5Z"/>
<path color="#ffe500" d="M279.8 113.0L280.0 111.8L291.1 121.5L291.1 122.7Z"/>
<path color="#fff000" d="M279.7 114.1L279.8 113.0L291.1 122.7L291.1 123.9Z"/>
<path color="#fffb00" d="M279.5 115.2L279.7 114.1L291.1 123.9L291.0 125.1Z"/>
<path color="#f8ff07" d="M279.3 116.3L279.5 115.2L291.0 125.1L291.0 126.3Z"/>
<path color="#edff12" d="M279.2 117.4L279.3 116.3L291.0 126.3L290.9 127.5Z"/>
<path color="#e2ff1d" d="M279.0 118.5L279.2 117.4L290.9 127.5L290.9 128.7Z"/>
<path color="#d7ff28" d="M278.8 119.6L279.0 118.5L290.9 128.7L290.9 129.9Z"/>
<path color="#cbff34" d="M278.7 120.7L278.8 119.6L290.9 129.9L290.8 131.1Z"/>
<path color="#c0ff3f" d="M278.5 121.8L278.7 120.7L290.8 131.1L290.8 132.3Z"/>
<path color="#b5ff4a" d="M278.3 122.8L278.5 121.8L290.8 132.3L290.7 133.5Z"/>
<path color="#aaff55" d="M278.2 123.9L278.3 122.8L290.7 133.5L290.7 134.7Z"/>
<path color="#9fff60" d="M278.0 125.0L278.2 123.9L290.7 134.7L290.6 135.9Z"/>
<path color="#93ff6c" d="M277.8 126.1L278.0 125.0L290.6 135.9L290.6 137.1Z"/>
<path color="#88ff77" d="M277.6 127.2L277.8 126.1L290.6 137.1L290.5 138.3Z"/>
<path color="#7dff82" d="M277.4 128.3L277.6 127.2L290.5 138.3L290.5 139.6Z"/>
<path color="#72ff8d" d="M277.2 129.4L277.4 128.3L290.5 139.6L290.4 140.8Z"/>
<path color="#66ff99" d="M277.0 130.5L277.2 129.4L290.4 140.8L290.4 142.0Z"/>
<path color="#5bffa4" d="M276.8 131.5L277.0 130.5L290.4 142.0L290.3 143.2Z"/>
<path color="#50ffaf" d="M276.6 132.6L276.8 131.5L290.3 143.2L290.3 144.4Z"/>
<path color="#44ffbb" d="M276.4 133.7L276.6 132.6L290.3 144.4L290.2 145.6Z"/>
<path color="#39ffc6" d="M276.1 134.8L276.4 133.7L290.2 145.6L290.2 146.8Z"/>
<path color="#2effd1" d="M275.9 135.8L276.1 134.8L290.2 146.8L290.1 148.0Z"/>
<path color="#22ffdd" d="M275.7 136.9L275.9 135.8L290.1 148.0L290.0 149.3Z"/>
<path color="#17ffe8" d="M275.4 138.0L275.7 136.9L290.0 149.3L290.0 150.5Z"/>
<path color="#0cfff3" d="M275.2 139.0L275.4 138.0L290.0 150.5L289.9 151.7Z"/>
<path color="#00ffff" d="M274.9 140.1L275.2 139.0L289.9 151.7L289.8 152.9Z"/>
<path color="#00f4ff" d="M274.7 141.1L274.9 140.1L289.8 152.9L289.8 154.1Z"/>
<path color="#00e9ff" d="M274.4 142.2L274.7 141.1L289.8 154.1L289.7 155.3Z"/>
<path color="#00ddff" d="M274.1 143.2L274.4 142.2L289.7 155.3L289.6 156.6Z"/>
<path color="#00d2ff" d="M273.8 144.2L274.1 143.2L289.6 156.6L289.5 157.8Z"/>
<path color="#00c7ff" d="M273.5 145.3L273.8 144.2L289.5 157.8L289.5 159.0Z"/>
<path color="#00bbff" d="M273.2 146.3L273.5 145.3L289.5 159.0L289.4 160.2Z"/>
<path color="#00b0ff" d="M272.8 147.3L273.2 146.3L289.4 160.2L289.3 161.4Z"/>
<path color="#00a4ff" d="M272.5 148.3L272.8 147.3L289.3 161.4L289.2 162.7Z"/>
<path color="#0099ff" d="M272.1 149.3L272.5 148.3L289.2 162.7L289.1 163.9Z"/>
<path color="#008dff" d="M271.7 150.3L272.1 149.3L289.1 163.9L289.0 165.1Z"/>
<path color="#0082ff" d="M271.3 151.2L271.7 150.3L289.0 165.1L288.9 166.4Z"/>
<path color="#0077ff" d="M270.9 152.2L271.3 151.2L288.9 166.4L288.8 167.6Z"/>
<path color="#006bff" d="M270.4 153.1L270.9 152.2L288.8 167.6L288.7 168.8Z"/>
<path color="#0060ff" d="M270.0 154.1L270.4 153.1L288.7 168.8L288.6 170.1Z"/>
<path color="#0054ff" d="M269.4 155.0L270.0 154.1L288.6 170.1L288.4 171.3Z"/>
<path color="#0049ff" d="M268.9 155.9L269.4 155.0L288.4 171.3L288.3 172.6Z"/>
<path color="#003dff" d="M268.3 156.7L268.9 155.9L288.3 172.6L288.1 173.8Z"/>
<path color="#0032ff" d="M267.7 157.6L268.3 156.7L288.1 173.8L288.0 175.1Z"/>
<path color="#0027ff" d="M267.0 158.4L267.7 157.6L288.0 175.1L287.8 176.3Z"/>
<path color="#001bff" d="M266.2 159.2L267.0 158.4L287.8 176.3L287.6 177.6Z"/>
<path color="#0010ff" d="M265.4 159.9L266.2 159.2L287.6 177.6L287.4 178.8Z"/>
<path color="#0004ff" d="M264.5 160.6L265.4 159.9L287.4 178.8L287.1 180.1Z"/>
<path color="#0000f8" d="M263.5 161.3L264.5 160.6L287.1 180.1L286.9 181.4Z"/>
<path color="#0000ec" d="M262.4 161.9L263.5 161.3L286.9 181.4L286.6 182.7Z"/>
<path color="#0000e1" d="M261.1 162.4L262.4 161.9L286.6 182.7L286.3 184.0Z"/>
<path color="#0000d6" d="M259.6 162.7L261.1 162.4L286.3 184.0L285.9 185.3Z"/>
<path color="#0000ca" d="M257.9 163.0L259.6 162.7L285.9 185.3L285.4 186.7Z"/>
<path color="#0000bf" d="M255.9 163.1L257.9 163.0L285.4 186.7L284.9 188.0Z"/>
<path color="#0000b3" d="M253.3 162.9L255.9 163.1L284.9 188.0L284.2 189.5Z"/>
<path color="#0000a8" d="M250.2 162.3L253.3 162.9L284.2 189.5L283.4 190.9Z"/>
<path color="#00009e" d="M247.0 161.4L250.2 162.3L283.4 190.9L282.6 192.1Z"/>
<path color="#000097" d="M243.8 160.4L247.0 161.4L282.6 192.1L281.8 193.0Z"/>
<path color="#000091" d="M240.7 159.2L243.8 160.4L281.8 193.0L280.9 193.9Z"/>
<path color="#00008c" d="M237.5 157.9L240.7 159.2L280.9 193.9L280.1 194.6Z"/>
<path color="#000088" d="M234.3 156.5L237.5 157.9L280.1 194.6L279.3 195.2Z"/>
<path color="#000085" d="M231.1 155.0L234.3 156.5L279.3 195.2L278.5 195.7Z"/>
<path color="#000083" d="M228.0 153.4L231.1 155.0L278.5 195.7L277.6 196.2Z"/>
<path color="#000082" d="M224.8 151.8L228.0 153.4L277.6 196.2L276.8 196.5ZM223.4 151.0L224.8 151.8L276.8 196.5L276.4 196.6ZM220.2 149.1L223.4 151.0L276.4 196.6L275.6 196.8Z"/>
<path color="#000084" d="M217.0 147.1L220.2 149.1L275.6 196.8L274.8 196.8Z"/>
<path color="#000087" d="M213.9 145.0L217.0 147.1L274.8 196.8L274.0 196.8Z"/>
<path color="#00008a" d="M210.7 142.9L213.9 145.0L274.0 196.8L273.1 196.6Z"/>
<path color="#00008e" d="M207.5 140.7L210.7 142.9L273.1 196.6L272.3 196.4Z"/>
<path color="#000093" d="M204.4 138.3L207.5 140.7L272.3 196.4L271.5 196.1Z"/>
<path color="#00009a" d="M201.2 135.7L204.4 138.3L271.5 196.1L270.7 195.6Z"/>
<path class="b" color="#0000a2" d="M269.8 194.8L270.7 195.6L201.2 135.7L198.0 133.0Z"/>
<path class="b" color="#0000ad" d="M269.1 193.8L269.8 194.8L198.0 133.0L195.1 130.2Z"/>
<path class="b" color="#0000b8" d="M268.5 192.8L269.1 193.8L195.1 130.2L192.8 127.7Z"/>
<path class="b" color="#0000c4" d="M268.0 191.8L268.5 192.8L192.8 127.7L190.9 125.5Z"/>
<path class="b" color="#0000cf" d="M267.6 190.7L268.0 191.8L190.9 125.5L189.4 123.5L189.4 123.4Z"/>
<path class="b" color="#0000db" d="M267.2 189.7L267.6 190.7L189.4 123.4L189.0 122.3Z"/>
<path class="b" color="#0000e6" d="M266.9 188.6L267.2 189.7L189.0 122.3L188.7 121.2Z"/>
<path class="b" color="#0000f1" d="M266.6 187.4L266.9 188.6L188.7 121.2L188.4 120.1Z"/>
<path class="b" color="#0000fd" d="M266.4 186.3L266.6 187.4L188.4 120.1L188.2 119.0Z"/>
<path class="b" color="#0009ff" d="M266.1 185.2L266.4 186.3L188.2 119.0L187.9 117.9Z"/>
<path class="b" color="#0015ff" d="M265.9 184.1L266.1 185.2L187.9 117.9L187.7 116.8Z"/>
<path class="b" color="#0020ff" d="M265.7 182.9L265.9 184.1L187.7 116.8L187.6 115.6Z"/>
<path class="b" color="#002cff" d="M265.6 181.8L265.7 182.9L187.6 115.6L187.4 114.5Z"/>
<path class="b" color="#0037ff" d="M265.4 180.6L265.6 181.8L187.4 114.5L187.2 113.3Z"/>
<path class="b" color="#0042ff" d="M265.3 179.5L265.4 180.6L187.2 113.3L187.1 112.2Z"/>
<path class="b" color="#004eff" d="M265.1 178.3L265.3 179.5L187.1 112.2L186.9 111.0Z"/>
<path class="b" color="#0059ff" d="M265.0 177.2L265.1 178.3L186.9 111.0L186.8 109.9Z"/>
<path class="b" color="#0065ff" d="M264.9 176.0L265.0 177.2L186.8 109.9L186.7 108.7Z"/>
<path class="b" color="#0070ff" d="M264.7 174.9L264.9 176.0L186.7 108.7L186.6 107.6Z"/>
<path class="b" color="#007cff" d="M264.6 173.7L264.7 174.9L186.6 107.6L186.4 106.4Z"/>
<path class="b" color="#0087ff" d="M264.5 172.6L264.6 173.7L186.4 106.4L186.3 105.2Z"/>
<path class="b" color="#0092ff" d="M264.4 171.4L264.5 172.6L186.3 105.2L186.2 104.1Z"/>
<path class="b" color="#009eff" d="M264.3 170.2L264.4 171.4L186.2 104.1L186.2 102.9Z"/>
<path class="b" color="#00a9ff" d="M264.3 169.1L264.3 170.2L186.2 102.9L186.1 101.7Z"/>
<path class="b" color="#00b5ff" d="M264.2 167.9L264.3 169.1L186.1 101.7L186.0 100.6Z"/>
<path class="b" color="#00c0ff" d="M264.1 166.7L264.2 167.9L186.0 100.6L185.9 99.4Z"/>
<path class="b" color="#00cbff" d="M264.0 165.5L264.1 166.7L185.9 99.4L185.8 98.2Z"/>
<path class="b" color="#00d7ff" d="M263.9 164.4L264.0 165.5L185.8 98.2L185.7 97.1Z"/>
<path class="b" color="#00e2ff" d="M263.9 163.2L263.9 164.4L185.7 97.1L185.7 95.9Z"/>
<path class="b" color="#00edff" d="M263.8 162.0L263.9 163.2L185.7 95.9L185.6 94.7Z"/>
<path class="b" color="#00f9ff" d="M263.7 160.9L263.8 162.0L185.6 94.7L185.5 93.6Z"/>
<path class="b" color="#05fffa" d="M263.6 159.7L263.7 160.9L185.5 93.6L185.5 92.4Z"/>
<path class="b" color="#11ffee" d="M263.6 158.5L263.6 159.7L185.5 92.4L185.4 91.2Z"/>
<path class="b" color="#1cffe3" d="M263.5 157.3L263.6 158.5L185.4 91.2L185.3 90.0Z"/>
<path class="b" color="#27ffd8" d="M263.5 156.2L263.5 157.3L185.3 90.0L185.3 88.9Z"/>
<path class="b" color="#33ffcc" d="M263.4 155.0L263.5 156.2L185.3 88.9L185.2 87.7Z"/>
<path class="b" color="#3effc1" d="M263.3 153.8L263.4 155.0L185.2 87.7L185.1 86.5Z"/>
<path class="b" color="#49ffb6" d="M263.3 152.6L263.3 153.8L185.1 86.5L185.1 85.3Z"/>
<path class="b" color="#55ffaa" d="M263.2 151.5L263.3 152.6L185.1 85.3L185.0 84.2Z"/>
<path class="b" color="#60ff9f" d="M263.2 150.3L263.2 151.5L185.0 84.2L185.0 83.0Z"/>
<path class="b" color="#6bff94" d="M263.1 149.1L263.2 150.3L185.0 83.0L184.9 81.8Z"/>
<path class="b" color="#76ff89" d="M263.1 147.9L263.1 149.1L184.9 81.8L184.9 80.6Z"/>
<path class="b" color="#82ff7d" d="M263.0 146.8L263.1 147.9L184.9 80.6L184.8 79.4Z"/>
<path class="b" color="#8dff72" d="M263.0 145.6L263.0 146.8L184.8 79.4L184.8 78.3Z"/>
<path class="b" color="#98ff67" d="M262.9 144.4L263.0 145.6L184.8 78.3L184.7 77.1Z"/>
<path class="b" color="#a3ff5c" d="M262.9 143.2L262.9 144.4L184.7 77.1L184.7 75.9Z"/>
<path class="b" color="#afff50" d="M262.8 142.0L262.9 143.2L184.7 75.9L184.6 74.7Z"/>
<path class="b" color="#baff45" d="M262.8 140.9L262.8 142.0L184.6 74.7L184.6 73.5Z"/>
<path class="b" color="#c5ff3a" d="M262.7 139.7L262.8 140.9L184.6 73.5L184.5 72.4Z"/>
<path class="b" color="#d0ff2f" d="M262.7 138.5L262.7 139.7L184.5 72.4L184.5 71.2Z"/>
<path class="b" color="#dbff24" d="M262.6 137.3L262.7 138.5L184.5 71.2L184.5 70.0Z"/>
<path class="b" color="#e7ff18" d="M262.6 136.1L262.6 137.3L184.5 70.0L184.4 68.8Z"/>
<path class="b" color="#f2ff0d" d="M262.6 135.0L262.6 136.1L184.4 68.8L184.4 67.7Z"/>
<path class="b" color="#fdff02" d="M262.5 133.8L262.6 135.0L184.4 67.7L184.3 66.5Z"/>
<path class="b" color="#fff600" d="M262.5 132.6L262.5 133.8L184.3 66.5L184.3 65.3Z"/>
<path class="b" color="#ffeb00" d="M262.4 131.4L262.5 132.6L184.3 65.3L184.2 64.1Z"/>
<path class="b" color="#ffe000" d="M262.4 130.2L262.4 131.4L184.2 64.1L184.2 62.9Z"/>
<path class="b" color="#ffd500" d="M262.4 129.1L262.4 130.2L184.2 62.9L184.2 61.8Z"/>
<path class="b" color="#ffca00" d="M262.3 127.9L262.4 129.1L184.2 61.8L184.1 60.6Z"/>
<path class="b" color="#ffbf00" d="M262.3 126.7L262.3 127.9L184.1 60.6L184.1 59.4Z"/>
<path class="b" color="#ffb400" d="M262.2 125.5L262.3 126.7L184.1 59.4L184.0 58.2Z"/>
<path class="b" color="#ffa900" d="M262.2 124.4L262.2 125.5L184.0 58.2L184.0 57.1Z"/>
<path class="b" color="#ff9e00" d="M262.2 123.2L262.2 124.4L184.0 57.1L184.0 55.9Z"/>
<path class="b" color="#ff9300" d="M262.1 122.0L262.2 123.2L184.0 55.9L183.9 54.7Z"/>
<path class="b" color="#ff8800" d="M262.1 120.8L262.1 122.0L183.9 54.7L183.9 53.5Z"/>
<path class="b" color="#ff7d00" d="M262.0 119.6L262.1 120.8L183.9 53.5L183.8 52.3Z"/>
<path class="b" color="#ff7200" d="M262.0 118.5L262.0 119.6L183.8 52.3L183.8 51.1Z"/>
<path class="b" color="#ff6700" d="M262.0 117.3L262.0 118.5L183.8 51.1L183.8 50.0Z"/>
<path class="b" color="#ff5d00" d="M261.9 116.1L262.0 117.3L183.8 50.0L183.7 48.8Z"/>
<path class="b" color="#ff5200" d="M261.9 114.9L261.9 116.1L183.7 48.8L183.7 47.6Z"/>
<path class="b" color="#ff4700" d="M261.8 113.7L261.9 114.9L183.7 47.6L183.6 46.4Z"/>
<path class="b" color="#ff3c00" d="M261.8 112.6L261.8 113.7L183.6 46.4L183.6 45.2Z"/>
<path class="b" color="#ff3200" d="M261.8 111.4L261.8 112.6L183.6 45.2L183.6 44.1Z"/>
<path class="b" color="#ff2700" d="M261.7 110.2L261.8 111.4L183.6 44.1L183.5 42.9Z"/>
<path class="b" color="#ff1c00" d="M261.7 109.0L261.7 110.2L183.5 42.9L183.5 41.7Z"/>
<path class="b" color="#ff1200" d="M261.6 107.9L261.7 109.0L183.5 41.7L183.4 40.6Z"/>
<path class="b" color="#ff0700" d="M261.6 106.7L261.6 107.9L183.4 40.6L183.4 39.4Z"/>
<path class="b" color="#fb0000" d="M261.5 105.5L261.6 106.7L183.4 39.4L183.3 38.2Z"/>
<path class="b" color="#f10000" d="M261.5 104.3L261.5 105.5L183.3 38.2L183.3 37.0Z"/>
<path class="b" color="#e60000" d="M261.4 103.2L261.5 104.3L183.3 37.0L183.2 35.9Z"/>
<path class="b" color="#db0000" d="M261.4 102.0L261.4 103.2L183.2 35.9L183.2 34.7Z"/>
<path class="b" color="#d10000" d="M261.3 100.8L261.4 102.0L183.2 34.7L183.1 33.5Z"/>
<path class="b" color="#c60000" d="M261.3 99.6L261.3 100.8L183.1 33.5L183.1 32.3Z"/>
<path class="b" color="#bc0000" d="M261.2 98.5L261.3 99.6L183.1 32.3L183.0 31.2Z"/>
<path class="b" color="#b10000" d="M261.1 97.3L261.2 98.5L183.0 31.2L183.0 30.0Z"/>
<path class="b" color="#a70000" d="M261.1 96.1L261.1 97.3L183.0 30.0L182.9 28.8Z"/>
<path class="b" color="#9c0000" d="M261.0 95.0L261.1 96.1L182.9 28.8L182.8 27.6Z"/>
<path class="b" color="#920000" d="M260.7 93.8L261.0 95.0L182.8 27.6L182.5 26.5Z"/>
<path color="#8f0000" d="M182.3 27.1L182.5 26.5L260.7 93.8L260.5 94.4Z"/>
<path color="#970000" d="M182.2 28.4L182.3 27.1L260.5 94.4L260.4 95.7Z"/>
<path color="#a10000" d="M182.1 29.6L182.2 28.4L260.4 95.7L260.3 96.9Z"/>
<path color="#ab0000" d="M182.0 30.8L182.1 29.6L260.3 96.9L260.2 98.1Z"/>
<path color="#b60000" d="M182.0 32.0L182.0 30.8L260.2 98.1L260.2 99.3Z"/>
<path color="#c00000" d="M181.9 33.2L182.0 32.0L260.2 99.3L260.1 100.5Z"/>
<path color="#cb0000" d="M181.9 34.5L181.9 33.2L260.1 100.5L260.1 101.8Z"/>
<path color="#d60000" d="M181.8 35.7L181.9 34.5L260.1 101.8L260.0 103.0Z"/>
<path color="#e00000" d="M181.8 36.9L181.8 35.7L260.0 103.0L260.0 104.2Z"/>
<path color="#eb0000" d="M181.7 38.1L181.8 36.9L260.0 104.2L259.9 105.4Z"/>
<path color="#f50000" d="M181.7 39.3L181.7 38.1L259.9 105.4L259.9 106.6Z"/>
<path color="#ff0100" d="M181.6 40.5L181.7 39.3L259.9 106.6L259.8 107.8Z"/>
<path color="#ff0c00" d="M181.6 41.7L181.6 40.5L259.8 107.8L259.8 109.0Z"/>
<path color="#ff1600" d="M181.5 42.9L181.6 41.7L259.8 109.0L259.7 110.2Z"/>
<path color="#ff2100" d="M181.5 44.1L181.5 42.9L259.7 110.2L259.7 111.4Z"/>
<path color="#ff2c00" d="M181.5 45.3L181.5 44.1L259.7 111.4L259.7 112.6Z"/>
<path color="#ff3700" d="M181.4 46.5L181.5 45.3L259.7 112.6L259.6 113.8Z"/>
<path color="#ff4100" d="M181.4 47.7L181.4 46.5L259.6 113.8L259.6 115.0Z"/>
<path color="#ff4c00" d="M181.3 48.9L181.4 47.7L259.6 115.0L259.5 116.2Z"/>
<path color="#ff5700" d="M181.3 50.1L181.3 48.9L259.5 116.2L259.5 117.4Z"/>
<path color="#ff6200" d="M181.3 51.3L181.3 50.1L259.5 117.4L259.5 118.6Z"/>
<path color="#ff6c00" d="M181.2 52.5L181.3 51.3L259.5 118.6L259.4 119.8Z"/>
<path color="#ff7700" d="M181.2 53.7L181.2 52.5L259.4 119.8L259.4 121.0Z"/>
<path color="#ff8200" d="M181.1 54.9L181.2 53.7L259.4 121.0L259.3 122.2Z"/>
<path color="#ff8d00" d="M181.1 56.1L181.1 54.9L259.3 122.2L259.3 123.5Z"/>
<path color="#ff9800" d="M181.1 57.3L181.1 56.1L259.3 123.5L259.3 124.7Z"/>
<path color="#ffa300" d="M181.0 58.6L181.1 57.3L259.3 124.7L259.2 125.9Z"/>
<path color="#ffae00" d="M181.0 59.8L181.0 58.6L259.2 125.9L259.2 127.1Z"/>
<path color="#ffb900" d="M181.0 60.9L181.0 59.8L259.2 127.1L259.1 128.3Z"/>
<path color="#ffc400" d="M180.9 62.2L181.0 60.9L259.1 128.3L259.1 129.5Z"/>
<path color="#ffcf00" d="M180.9 63.4L180.9 62.2L259.1 129.5L259.1 130.7Z"/>
<path color="#ffda00" d="M180.8 64.6L180.9 63.4L259.1 130.7L259.0 131.9Z"/>
<path color="#ffe500" d="M180.8 65.8L180.8 64.6L259.0 131.9L259.0 133.1Z"/>
<path color="#fff000" d="M180.8 67.0L180.8 65.8L259.0 133.1L258.9 134.3Z"/>
<path color="#fffb00" d="M180.7 68.2L180.8 67.0L258.9 134.3L258.9 135.5Z"/>
<path color="#f8ff07" d="M180.7 69.4L180.7 68.2L258.9 135.5L258.9 136.7Z"/>
<path color="#edff12" d="M180.6 70.6L180.7 69.4L258.9 136.7L258.8 137.9Z"/>
<path color="#e1ff1e" d="M180.6 71.8L180.6 70.6L258.8 137.9L258.8 139.1Z"/>
<path color="#d6ff29" d="M180.5 73.0L180.6 71.8L258.8 139.1L258.7 140.3Z"/>
<path color="#cbff34" d="M180.5 74.2L180.5 73.0L258.7 140.3L258.7 141.5Z"/>
<path color="#c0ff3f" d="M180.5 75.4L180.5 74.2L258.7 141.5L258.6 142.7Z"/>
<path color="#b5ff4a" d="M180.4 76.6L180.5 75.4L258.6 142.7L258.6 143.9Z"/>
<path color="#aaff55" d="M180.4 77.8L180.4 76.6L258.6 143.9L258.6 145.1Z"/>
<path color="#9fff60" d="M180.3 79.0L180.4 77.8L258.6 145.1L258.5 146.3Z"/>
<path color="#94ff6b" d="M180.3 80.2L180.3 79.0L258.5 146.3L258.5 147.5Z"/>
<path color="#88ff77" d="M180.2 81.4L180.3 80.2L258.5 147.5L258.4 148.7Z"/>
<path color="#7dff82" d="M180.2 82.6L180.2 81.4L258.4 148.7L258.4 150.0Z"/>
<path color="#72ff8d" d="M180.1 83.9L180.2 82.6L258.4 150.0L258.3 151.2Z"/>
<path color="#66ff99" d="M180.1 85.1L180.1 83.9L258.3 151.2L258.3 152.4Z"/>
<path color="#5bffa4" d="M180.0 86.3L180.1 85.1L258.3 152.4L258.2 153.6Z"/>
<path color="#50ffaf" d="M180.0 87.5L180.0 86.3L258.2 153.6L258.1 154.8Z"/>
<path color="#44ffbb" d="M179.9 88.7L180.0 87.5L258.1 154.8L258.1 156.0Z"/>
<path color="#39ffc6" d="M179.8 89.9L179.9 88.7L258.1 156.0L258.0 157.2Z"/>
<path color="#2effd1" d="M179.8 91.1L179.8 89.9L258.0 157.2L258.0 158.4Z"/>
<path color="#22ffdd" d="M179.7 92.4L179.8 91.1L258.0 158.4L257.9 159.7Z"/>
<path color="#17ffe8" d="M179.7 93.6L179.7 92.4L257.9 159.7L257.9 160.9Z"/>
<path color="#0cfff3" d="M179.6 94.8L179.7 93.6L257.9 160.9L257.8 162.1Z"/>
<path color="#00ffff" d="M179.5 96.0L179.6 94.8L257.8 162.1L257.7 163.3Z"/>
<path color="#00f4ff" d="M179.5 97.2L179.5 96.0L257.7 163.3L257.7 164.5Z"/>
<path color="#00e9ff" d="M179.4 98.4L179.5 97.2L257.7 164.5L257.6 165.7Z"/>
<path color="#00ddff" d="M179.3 99.6L179.4 98.4L257.6 165.7L257.5 167.0Z"/>
<path color="#00d2ff" d="M179.2 100.9L179.3 99.6L257.5 167.0L257.4 168.2Z"/>
<path color="#00c7ff" d="M179.2 102.1L179.2 100.9L257.4 168.2L257.4 169.4Z"/>
<path color="#00bbff" d="M179.1 103.3L179.2 102.1L257.4 169.4L257.3 170.6Z"/>
<path color="#00b0ff" d="M179.0 104.5L179.1 103.3L257.3 170.6L257.2 171.8Z"/>
<path color="#00a4ff" d="M178.9 105.8L179.0 104.5L257.2 171.8L257.1 173.1Z"/>
<path color="#0099ff" d="M178.8 107.0L178.9 105.8L257.1 173.1L257.0 174.3Z"/>
<path color="#008dff" d="M178.7 108.2L178.8 107.0L257.0 174.3L256.9 175.5Z"/>
<path color="#0082ff" d="M178.6 109.5L178.7 108.2L256.9 175.5L256.8 176.8Z"/>
<path color="#0077ff" d="M178.5 110.7L178.6 109.5L256.8 176.8L256.7 178.0Z"/>
<path color="#006bff" d="M178.4 111.9L178.5 110.7L256.7 178.0L256.6 179.2Z"/>
<path color="#0060ff" d="M178.2 113.2L178.4 111.9L256.6 179.2L256.4 180.5Z"/>
<path color="#0054ff" d="M178.1 114.4L178.2 113.2L256.4 180.5L256.3 181.7Z"/>
<path color="#0049ff" d="M178.0 115.7L178.1 114.4L256.3 181.7L256.2 183.0Z"/>
<path color="#003dff" d="M177.8 116.9L178.0 115.7L256.2 183.0L256.0 184.2Z"/>
<path color="#0032ff" d="M177.6 118.1L177.8 116.9L256.0 184.2L255.8 185.5Z"/>
<path color="#0027ff" d="M177.5 119.4L177.6 118.1L255.8 185.5L255.7 186.7Z"/>
<path color="#001bff" d="M177.3 120.7L177.5 119.4L255.7 186.7L255.5 188.0Z"/>
<path color="#0010ff" d="M177.1 121.9L177.3 120.7L255.5 188.0L255.3 189.2Z"/>
<path color="#0004ff" d="M176.8 123.2L177.1 121.9L255.3 189.2L255.0 190.5Z"/>
<path color="#0000f8" d="M176.6 124.5L176.8 123.2L255.0 190.5L254.8 191.8Z"/>
<path color="#0000ec" d="M176.3 125.8L176.6 124.5L254.8 191.8L254.5 193.1Z"/>
<path color="#0000e1" d="M175.9 127.1L176.3 125.8L254.5 193.1L254.1 194.4Z"/>
<path color="#0000d6" d="M175.6 128.4L175.9 127.1L254.1 194.4L253.8 195.7Z"/>
<path color="#0000ca" d="M175.1 129.8L175.6 128.4L253.8 195.7L253.3 197.1Z"/>
<path color="#0000bf" d="M174.6 131.1L175.1 129.8L253.3 197.1L252.8 198.4Z"/>
<path color="#0000b3" d="M173.9 132.5L174.6 131.1L252.8 198.4L252.1 199.9Z"/>
<path color="#0000a8" d="M173.1 134.0L173.9 132.5L252.1 199.9L251.3 201.3Z"/>
<path color="#00009e" d="M172.3 135.2L173.1 134.0L251.3 201.3L250.5 202.5Z"/>
<path color="#000097" d="M171.4 136.1L172.3 135.2L250.5 202.5L249.6 203.4Z"/>
<path color="#000091" d="M170.6 137.0L171.4 136.1L249.6 203.4L248.8 204.3Z"/>
<path color="#00008c" d="M169.8 137.7L170.6 137.0L248.8 204.3L248.0 205.0Z"/>
<path color="#000088" d="M169.0 138.3L169.8 137.7L248.0 205.0L247.2 205.6Z"/>
<path color="#000085" d="M168.1 138.8L169.0 138.3L247.2 205.6L246.3 206.1Z"/>
<path color="#000083" d="M167.3 139.3L168.1 138.8L246.3 206.1L245.5 206.6Z"/>
<path color="#000082" d="M166.5 139.6L167.3 139.3L245.5 206.6L244.7 206.9ZM166.1 139.7L166.5 139.6L244.7 206.9L244.3 207.0ZM165.3 139.9L166.1 139.7L244.3 207.0L243.5 207.2Z"/>
<path color="#000084" d="M164.5 139.9L165.3 139.9L243.5 207.2L242.7 207.2Z"/>
<path color="#000087" d="M163.7 139.9L164.5 139.9L242.7 207.2L241.8 207.2Z"/>
<path color="#00008a" d="M162.8 139.7L163.7 139.9L241.8 207.2L241.0 207.0Z"/>
<path color="#00008e" d="M162.0 139.5L162.8 139.7L241.0 207.0L240.2 206.8Z"/>
<path color="#000093" d="M161.2 139.2L162.0 139.5L240.2 206.8L239.4 206.5Z"/>
<path color="#00009a" d="M160.4 138.6L161.2 139.2L239.4 206.5L238.5 206.0Z"/>
<path class="b" color="#0000a2" d="M237.7 205.2L238.5 206.0L160.4 138.6L159.5 137.9Z"/>
<path class="b" color="#0000ad" d="M237.0 204.3L237.7 205.2L159.5 137.9L158.8 136.9Z"/>
<path class="b" color="#0000b8" d="M236.4 203.2L237.0 204.3L158.8 136.9L158.2 135.9Z"/>
<path class="b" color="#0000c4" d="M235.9 202.2L236.4 203.2L158.2 135.9L157.7 134.9Z"/>
<path class="b" color="#0000cf" d="M235.4 201.1L235.9 202.2L157.7 134.9L157.3 133.8Z"/>
<path class="b" color="#0000db" d="M235.1 200.1L235.4 201.1L157.3 133.8L156.9 132.7Z"/>
<path class="b" color="#0000e6" d="M234.8 199.0L235.1 200.1L156.9 132.7L156.6 131.6Z"/>
<path class="b" color="#0000f1" d="M234.5 197.9L234.8 199.0L156.6 131.6L156.3 130.5Z"/>
<path class="b" color="#0000fd" d="M234.2 196.7L234.5 197.9L156.3 130.5L156.1 129.4Z"/>
<path class="b" color="#0009ff" d="M234.0 195.6L234.2 196.7L156.1 129.4L155.8 128.3Z"/>
<path class="b" color="#0015ff" d="M233.8 194.5L234.0 195.6L155.8 128.3L155.6 127.2Z"/>
<path class="b" color="#0020ff" d="M233.6 193.3L233.8 194.5L155.6 127.2L155.4 126.0Z"/>
<path class="b" color="#002cff" d="M233.4 192.2L233.6 193.3L155.4 126.0L155.3 124.9Z"/>
<path class="b" color="#0037ff" d="M233.3 191.0L233.4 192.2L155.3 124.9L155.1 123.7Z"/>
<path class="b" color="#0042ff" d="M233.1 189.9L233.3 191.0L155.1 123.7L155.0 122.6Z"/>
<path class="b" color="#004eff" d="M233.0 188.7L233.1 189.9L155.0 122.6L154.8 121.4Z"/>
<path class="b" color="#0059ff" d="M232.9 187.6L233.0 188.7L154.8 121.4L154.7 120.3Z"/>
<path class="b" color="#0065ff" d="M232.7 186.4L232.9 187.6L154.7 120.3L154.6 119.1Z"/>
<path class="b" color="#0070ff" d="M232.6 185.3L232.7 186.4L154.6 119.1L154.4 118.0Z"/>
<path class="b" color="#007bff" d="M232.5 184.1L232.6 185.3L154.4 118.0L154.3 116.8Z"/>
<path class="b" color="#0087ff" d="M232.4 183.0L232.5 184.1L154.3 116.8L154.2 115.6Z"/>
<path class="b" color="#0092ff" d="M232.3 181.8L232.4 183.0L154.2 115.6L154.1 114.5Z"/>
<path class="b" color="#009eff" d="M232.2 180.6L232.3 181.8L154.1 114.5L154.0 113.3Z"/>
<path class="b" color="#00a9ff" d="M232.1 179.5L232.2 180.6L154.0 113.3L153.9 112.2Z"/>
<path class="b" color="#00b5ff" d="M232.0 178.3L232.1 179.5L153.9 112.2L153.9 111.0Z"/>
<path class="b" color="#00c0ff" d="M232.0 177.1L232.0 178.3L153.9 111.0L153.8 109.8Z"/>
<path class="b" color="#00cbff" d="M231.9 176.0L232.0 177.1L153.8 109.8L153.7 108.6Z"/>
<path class="b" color="#00d7ff" d="M231.8 174.8L231.9 176.0L153.7 108.6L153.6 107.5Z"/>
<path class="b" color="#00e2ff" d="M231.7 173.6L231.8 174.8L153.6 107.5L153.5 106.3Z"/>
<path class="b" color="#00edff" d="M231.7 172.4L231.7 173.6L153.5 106.3L153.5 105.1Z"/>
<path class="b" color="#00f9ff" d="M231.6 171.3L231.7 172.4L153.5 105.1L153.4 104.0Z"/>
<path class="b" color="#05fffa" d="M231.5 170.1L231.6 171.3L153.4 104.0L153.3 102.8Z"/>
<path class="b" color="#11ffee" d="M231.5 168.9L231.5 170.1L153.3 102.8L153.3 101.6Z"/>
<path class="b" color="#1cffe3" d="M231.4 167.8L231.5 168.9L153.3 101.6L153.2 100.4Z"/>
<path class="b" color="#27ffd8" d="M231.3 166.6L231.4 167.8L153.2 100.4L153.1 99.3Z"/>
<path class="b" color="#33ffcc" d="M231.3 165.4L231.3 166.6L153.1 99.3L153.1 98.1Z"/>
<path class="b" color="#3effc1" d="M231.2 164.2L231.3 165.4L153.1 98.1L153.0 96.9Z"/>
<path class="b" color="#49ffb6" d="M231.2 163.0L231.2 164.2L153.0 96.9L153.0 95.7Z"/>
<path class="b" color="#55ffaa" d="M231.1 161.9L231.2 163.0L153.0 95.7L152.9 94.6Z"/>
<path class="b" color="#60ff9f" d="M231.1 160.7L231.1 161.9L152.9 94.6L152.9 93.4Z"/>
<path class="b" color="#6bff94" d="M231.0 159.5L231.1 160.7L152.9 93.4L152.8 92.2Z"/>
<path class="b" color="#76ff89" d="M231.0 158.3L231.0 159.5L152.8 92.2L152.8 91.0Z"/>
<path class="b" color="#82ff7d" d="M230.9 157.2L231.0 158.3L152.8 91.0L152.7 89.8Z"/>
<path class="b" color="#8dff72" d="M230.9 156.0L230.9 157.2L152.7 89.8L152.7 88.7Z"/>
<path class="b" color="#98ff67" d="M230.8 154.8L230.9 156.0L152.7 88.7L152.6 87.5Z"/>
<path class="b" color="#a3ff5c" d="M230.8 153.6L230.8 154.8L152.6 87.5L152.6 86.3Z"/>
<path class="b" color="#afff50" d="M230.7 152.4L230.8 153.6L152.6 86.3L152.5 85.1Z"/>
<path class="b" color="#baff45" d="M230.7 151.3L230.7 152.4L152.5 85.1L152.5 84.0Z"/>
<path class="b" color="#c5ff3a" d="M230.6 150.1L230.7 151.3L152.5 84.0L152.4 82.8Z"/>
<path class="b" color="#d0ff2f" d="M230.6 148.9L230.6 150.1L152.4 82.8L152.4 81.6Z"/>
<path class="b" color="#dbff24" d="M230.5 147.7L230.6 148.9L152.4 81.6L152.3 80.4Z"/>
<path class="b" color="#e7ff18" d="M230.5 146.5L230.5 147.7L152.3 80.4L152.3 79.2Z"/>
<path class="b" color="#f2ff0d" d="M230.4 145.4L230.5 146.5L152.3 79.2L152.3 78.1Z"/>
<path class="b" color="#fdff02" d="M230.4 144.2L230.4 145.4L152.3 78.1L152.2 76.9Z"/>
<path class="b" color="#fff600" d="M230.4 143.0L230.4 144.2L152.2 76.9L152.2 75.7Z"/>
<path class="b" color="#ffeb00" d="M230.3 141.8L230.4 143.0L152.2 75.7L152.1 74.5Z"/>
<path class="b" color="#ffe000" d="M230.3 140.7L230.3 141.8L152.1 74.5L152.1 73.3Z"/>
<path class="b" color="#ffd500" d="M230.2 139.5L230.3 140.7L152.1 73.3L152.0 72.2Z"/>
<path class="b" color="#ffca00" d="M230.2 138.3L230.2 139.5L152.0 72.2L152.0 71.0Z"/>
<path class="b" color="#ffbf00" d="M230.2 137.1L230.2 138.3L152.0 71.0L152.0 69.8Z"/>
<path class="b" color="#ffb400" d="M230.1 135.9L230.2 137.1L152.0 69.8L151.9 68.6Z"/>
<path class="b" color="#ffa900" d="M230.1 134.8L230.1 135.9L151.9 68.6L151.9 67.5Z"/>
<path class="b" color="#ff9e00" d="M230.0 133.6L230.1 134.8L151.9 67.5L151.8 66.3Z"/>
<path class="b" color="#ff9300" d="M230.0 132.4L230.0 133.6L151.8 66.3L151.8 65.1Z"/>
<path class="b" color="#ff8800" d="M230.0 131.2L230.0 132.4L151.8 65.1L151.8 63.9Z"/>
<path class="b" color="#ff7d00" d="M229.9 130.0L230.0 131.2L151.8 63.9L151.7 62.7Z"/>
<path class="b" color="#ff7200" d="M229.9 128.9L229.9 130.0L151.7 62.7L151.7 61.5Z"/>
<path class="b" color="#ff6800" d="M229.8 127.7L229.9 128.9L151.7 61.5L151.6 60.4Z"/>
<path class="b" color="#ff5d00" d="M229.8 126.5L229.8 127.7L151.6 60.4L151.6 59.2Z"/>
<path class="b" color="#ff5200" d="M229.8 125.3L229.8 126.5L151.6 59.2L151.6 58.0Z"/>
<path class="b" color="#ff4700" d="M229.7 124.1L229.8 125.3L151.6 58.0L151.5 56.8Z"/>
<path class="b" color="#ff3c00" d="M229.7 123.0L229.7 124.1L151.5 56.8L151.5 55.7Z"/>
<path class="b" color="#ff3200" d="M229.6 121.8L229.7 123.0L151.5 55.7L151.4 54.5Z"/>
<path class="b" color="#ff2700" d="M229.6 120.6L229.6 121.8L151.4 54.5L151.4 53.3Z"/>
<path class="b" color="#ff1c00" d="M229.5 119.4L229.6 120.6L151.4 53.3L151.4 52.1Z"/>
<path class="b" color="#ff1200" d="M229.5 118.3L229.5 119.4L151.4 52.1L151.3 51.0Z"/>
<path class="b" color="#ff0700" d="M229.5 117.1L229.5 118.3L151.3 51.0L151.3 49.8Z"/>
<path class="b" color="#fb0000" d="M229.4 115.9L229.5 117.1L151.3 49.8L151.2 48.6Z"/>
<path class="b" color="#f10000" d="M229.4 114.7L229.4 115.9L151.2 48.6L151.2 47.4Z"/>
<path class="b" color="#e60000" d="M229.3 113.6L229.4 114.7L151.2 47.4L151.1 46.2Z"/>
<path class="b" color="#db0000" d="M229.3 112.4L229.3 113.6L151.1 46.2L151.1 45.1Z"/>
<path class="b" color="#d10000" d="M229.2 111.2L229.3 112.4L151.1 45.1L151.0 43.9Z"/>
<path class="b" color="#c60000" d="M229.2 110.0L229.2 111.2L151.0 43.9L151.0 42.7Z"/>
<path class="b" color="#bc0000" d="M229.1 108.9L229.2 110.0L151.0 42.7L150.9 41.5Z"/>
<path class="b" color="#b10000" d="M229.0 107.7L229.1 108.9L150.9 41.5L150.8 40.4Z"/>
<path class="b" color="#a70000" d="M228.9 106.5L229.0 107.7L150.8 40.4L150.7 39.2Z"/>
<path class="b" color="#9c0000" d="M228.8 105.4L228.9 106.5L150.7 39.2L150.6 38.1Z"/>
<path class="b" color="#920000" d="M228.6 104.2L228.8 105.4L150.6 38.1L150.4 36.9Z"/>
<path color="#8f0000" d="M150.2 37.5L150.4 36.9L228.6 104.2L228.4 104.8Z"/>
<path color="#970000" d="M150.1 38.8L150.2 37.5L228.4 104.8L228.3 106.1Z"/>
<path color="#a10000" d="M150.0 40.0L150.1 38.8L228.3 106.1L228.2 107.3Z"/>
<path color="#ab0000" d="M149.9 41.2L150.0 40.0L228.2 107.3L228.1 108.5Z"/>
<path color="#b60000" d="M149.9 42.4L149.9 41.2L228.1 108.5L228.1 109.7Z"/>
<path color="#c00000" d="M149.8 43.6L149.9 42.4L228.1 109.7L228.0 110.9Z"/>
<path color="#cb0000" d="M149.8 44.9L149.8 43.6L228.0 110.9L227.9 112.2Z"/>
<path color="#d60000" d="M149.7 46.1L149.8 44.9L227.9 112.2L227.9 113.4Z"/>
<path color="#e00000" d="M149.6 47.3L149.7 46.1L227.9 113.4L227.8 114.6Z"/>
<path color="#eb0000" d="M149.6 48.5L149.6 47.3L227.8 114.6L227.8 115.8Z"/>
<path color="#f50000" d="M149.6 49.7L149.6 48.5L227.8 115.8L227.7 117.0Z"/>
<path color="#ff0100" d="M149.5 50.9L149.6 49.7L227.7 117.0L227.7 118.2Z"/>
<path color="#ff0c00" d="M149.5 52.1L149.5 50.9L227.7 118.2L227.7 119.4Z"/>
<path color="#ff1600" d="M149.4 53.3L149.5 52.1L227.7 119.4L227.6 120.6Z"/>
<path color="#ff2100" d="M149.4 54.5L149.4 53.3L227.6 120.6L227.6 121.8Z"/>
<path color="#ff2c00" d="M149.3 55.7L149.4 54.5L227.6 121.8L227.5 123.0Z"/>
<path color="#ff3600" d="M149.3 56.9L149.3 55.7L227.5 123.0L227.5 124.2Z"/>
<path color="#ff4100" d="M149.3 58.1L149.3 56.9L227.5 124.2L227.5 125.4Z"/>
<path color="#ff4c00" d="M149.2 59.3L149.3 58.1L227.5 125.4L227.4 126.6Z"/>
<path color="#ff5700" d="M149.2 60.5L149.2 59.3L227.4 126.6L227.4 127.8Z"/>
<path color="#ff6100" d="M149.1 61.7L149.2 60.5L227.4 127.8L227.3 129.0Z"/>
<path color="#ff6c00" d="M149.1 62.9L149.1 61.7L227.3 129.0L227.3 130.2Z"/>
<path color="#ff7700" d="M149.1 64.1L149.1 62.9L227.3 130.2L227.3 131.4Z"/>
<path color="#ff8200" d="M149.0 65.3L149.1 64.1L227.3 131.4L227.2 132.6Z"/>
<path color="#ff8d00" d="M149.0 66.5L149.0 65.3L227.2 132.6L227.2 133.8Z"/>
<path color="#ff9800" d="M149.0 67.7L149.0 66.5L227.2 133.8L227.1 135.1Z"/>
<path color="#ffa300" d="M148.9 68.9L149.0 67.7L227.1 135.1L227.1 136.3Z"/>
<path color="#ffae00" d="M148.9 70.1L148.9 68.9L227.1 136.3L227.1 137.5Z"/>
<path color="#ffb900" d="M148.8 71.3L148.9 70.1L227.1 137.5L227.0 138.7Z"/>
<path color="#ffc400" d="M148.8 72.6L148.8 71.3L227.0 138.7L227.0 139.9Z"/>
<path color="#ffcf00" d="M148.8 73.8L148.8 72.6L227.0 139.9L226.9 141.1Z"/>
<path color="#ffda00" d="M148.7 75.0L148.8 73.8L226.9 141.1L226.9 142.3Z"/>
<path color="#ffe500" d="M148.7 76.2L148.7 75.0L226.9 142.3L226.9 143.5Z"/>
<path color="#fff000" d="M148.6 77.4L148.7 76.2L226.9 143.5L226.8 144.7Z"/>
<path color="#fffb00" d="M148.6 78.6L148.6 77.4L226.8 144.7L226.8 145.9Z"/>
<path color="#f8ff07" d="M148.6 79.8L148.6 78.6L226.8 145.9L226.7 147.1Z"/>
<path color="#edff12" d="M148.5 81.0L148.6 79.8L226.7 147.1L226.7 148.3Z"/>
<path color="#e2ff1d" d="M148.5 82.2L148.5 81.0L226.7 148.3L226.7 149.5Z"/>
<path color="#d6ff29" d="M148.4 83.4L148.5 82.2L226.7 149.5L226.6 150.7Z"/>
<path color="#cbff34" d="M148.4 84.6L148.4 83.4L226.6 150.7L226.6 151.9Z"/>
<path color="#c0ff3f" d="M148.3 85.8L148.4 84.6L226.6 151.9L226.5 153.1Z"/>
<path color="#b5ff4a" d="M148.3 87.0L148.3 85.8L226.5 153.1L226.5 154.3Z"/>
<path color="#aaff55" d="M148.2 88.2L148.3 87.0L226.5 154.3L226.4 155.5Z"/>
<path color="#9fff60" d="M148.2 89.4L148.2 88.2L226.4 155.5L226.4 156.7Z"/>
<path color="#94ff6b" d="M148.2 90.6L148.2 89.4L226.4 156.7L226.3 157.9Z"/>
<path color="#88ff77" d="M148.1 91.8L148.2 90.6L226.3 157.9L226.3 159.1Z"/>
<path color="#7dff82" d="M148.1 93.0L148.1 91.8L226.3 159.1L226.2 160.4Z"/>
<path color="#72ff8d" d="M148.0 94.2L148.1 93.0L226.2 160.4L226.2 161.6Z"/>
<path color="#67ff98" d="M148.0 95.5L148.0 94.2L226.2 161.6L226.1 162.8Z"/>
<path color="#5bffa4" d="M147.9 96.7L148.0 95.5L226.1 162.8L226.1 164.0Z"/>
<path color="#50ffaf" d="M147.8 97.9L147.9 96.7L226.1 164.0L226.0 165.2Z"/>
<path color="#45ffba" d="M147.8 99.1L147.8 97.9L226.0 165.2L226.0 166.4Z"/>
<path color="#39ffc6" d="M147.7 100.3L147.8 99.1L226.0 166.4L225.9 167.6Z"/>
<path color="#2effd1" d="M147.7 101.5L147.7 100.3L225.9 167.6L225.9 168.8Z"/>
<path color="#23ffdc" d="M147.6 102.8L147.7 101.5L225.9 168.8L225.8 170.1Z"/>
<path color="#17ffe8" d="M147.5 104.0L147.6 102.8L225.8 170.1L225.7 171.3Z"/>
<path color="#0cfff3" d="M147.5 105.2L147.5 104.0L225.7 171.3L225.7 172.5Z"/>
<path color="#01fffe" d="M147.4 106.4L147.5 105.2L225.7 172.5L225.6 173.7Z"/>
<path color="#00f4ff" d="M147.3 107.6L147.4 106.4L225.6 173.7L225.5 174.9Z"/>
<path color="#00e9ff" d="M147.3 108.8L147.3 107.6L225.5 174.9L225.5 176.1Z"/>
<path color="#00ddff" d="M147.2 110.0L147.3 108.8L225.5 176.1L225.4 177.4Z"/>
<path color="#00d2ff" d="M147.1 111.3L147.2 110.0L225.4 177.4L225.3 178.6Z"/>
<path color="#00c7ff" d="M147.0 112.5L147.1 111.3L225.3 178.6L225.2 179.8Z"/>
<path color="#00bbff" d="M147.0 113.7L147.0 112.5L225.2 179.8L225.1 181.0Z"/>
<path color="#00b0ff" d="M146.9 114.9L147.0 113.7L225.1 181.0L225.1 182.2Z"/>
<path color="#00a4ff" d="M146.8 116.2L146.9 114.9L225.1 182.2L225.0 183.5Z"/>
<path color="#0099ff" d="M146.7 117.4L146.8 116.2L225.0 183.5L224.9 184.7Z"/>
<path color="#008eff" d="M146.6 118.6L146.7 117.4L224.9 184.7L224.8 185.9Z"/>
<path color="#0082ff" d="M146.5 119.9L146.6 118.6L224.8 185.9L224.7 187.2Z"/>
<path color="#0077ff" d="M146.4 121.1L146.5 119.9L224.7 187.2L224.6 188.4Z"/>
<path color="#006bff" d="M146.2 122.3L146.4 121.1L224.6 188.4L224.4 189.6Z"/>
<path color="#0060ff" d="M146.1 123.6L146.2 122.3L224.4 189.6L224.3 190.9Z"/>
<path color="#0054ff" d="M146.0 124.8L146.1 123.6L224.3 190.9L224.2 192.1Z"/>
<path color="#0049ff" d="M145.8 126.1L146.0 124.8L224.2 192.1L224.0 193.4Z"/>
<path color="#003dff" d="M145.7 127.3L145.8 126.1L224.0 193.4L223.9 194.6Z"/>
<path color="#0032ff" d="M145.5 128.6L145.7 127.3L223.9 194.6L223.7 195.9Z"/>
<path color="#0027ff" d="M145.4 129.8L145.5 128.6L223.7 195.9L223.5 197.1Z"/>
<path color="#001bff" d="M145.2 131.1L145.4 129.8L223.5 197.1L223.3 198.4Z"/>
<path color="#0010ff" d="M144.9 132.3L145.2 131.1L223.3 198.4L223.1 199.6Z"/>
<path color="#0004ff" d="M144.7 133.6L144.9 132.3L223.1 199.6L222.9 200.9Z"/>
<path color="#0000f8" d="M144.5 134.9L144.7 133.6L222.9 200.9L222.6 202.2Z"/>
<path color="#0000ec" d="M144.2 136.2L144.5 134.9L222.6 202.2L222.3 203.5Z"/>
<path color="#0000e1" d="M143.8 137.5L144.2 136.2L222.3 203.5L222.0 204.8Z"/>
<path color="#0000d6" d="M143.4 138.8L143.8 137.5L222.0 204.8L221.6 206.1Z"/>
<path color="#0000ca" d="M143.0 140.2L143.4 138.8L221.6 206.1L221.2 207.5Z"/>
<path color="#0000bf" d="M142.5 141.5L143.0 140.2L221.2 207.5L220.7 208.8Z"/>
<path color="#0000b3" d="M141.8 142.9L142.5 141.5L220.7 208.8L220.0 210.3Z"/>
<path color="#0000a8" d="M141.0 144.4L141.8 142.9L220.0 210.3L219.2 211.7Z"/>
<path color="#00009e" d="M140.2 145.6L141.0 144.4L219.2 211.7L218.3 212.9Z"/>
<path color="#000097" d="M139.3 146.5L140.2 145.6L218.3 212.9L217.5 213.8Z"/>
<path color="#000091" d="M138.5 147.4L139.3 146.5L217.5 213.8L216.7 214.7Z"/>
<path color="#00008c" d="M137.7 148.1L138.5 147.4L216.7 214.7L215.9 215.4Z"/>
<path color="#000088" d="M136.9 148.7L137.7 148.1L215.9 215.4L215.0 216.0Z"/>
<path color="#000085" d="M136.0 149.2L136.9 148.7L215.0 216.0L214.2 216.5Z"/>
<path color="#000083" d="M135.2 149.7L136.0 149.2L214.2 216.5L213.4 217.0Z"/>
<path color="#000082" d="M134.4 150.0L135.2 149.7L213.4 217.0L212.6 217.3ZM134.0 150.1L134.4 150.0L212.6 217.3L212.2 217.4ZM133.2 150.3L134.0 150.1L212.2 217.4L211.4 217.6Z"/>
<path color="#000084" d="M132.4 150.3L133.2 150.3L211.4 217.6L210.6 217.6Z"/>
<path color="#000087" d="M131.5 150.3L132.4 150.3L210.6 217.6L209.7 217.6Z"/>
<path color="#00008a" d="M130.7 150.1L131.5 150.3L209.7 217.6L208.9 217.5Z"/>
<path color="#00008e" d="M129.9 149.9L130.7 150.1L208.9 217.5L208.1 217.2Z"/>
<path color="#000093" d="M129.1 149.6L129.9 149.9L208.1 217.2L207.2 216.9Z"/>
<path color="#00009a" d="M128.2 149.1L129.1 149.6L207.2 216.9L206.4 216.4Z"/>
<path class="b" color="#0000a2" d="M205.6 215.6L206.4 216.4L128.2 149.1L127.4 148.3Z"/>
<path class="b" color="#0000ad" d="M204.8 214.7L205.6 215.6L127.4 148.3L126.7 147.3Z"/>
<path class="b" color="#0000b8" d="M204.2 213.6L204.8 214.7L126.7 147.3L126.1 146.3Z"/>
<path class="b" color="#0000c4" d="M203.7 212.6L204.2 213.6L126.1 146.3L125.6 145.3Z"/>
<path class="b" color="#0000cf" d="M203.3 211.5L203.7 212.6L125.6 145.3L125.1 144.2Z"/>
<path class="b" color="#0000db" d="M203.0 210.5L203.3 211.5L125.1 144.2L124.8 143.2Z"/>
<path class="b" color="#0000e6" d="M202.7 209.4L203.0 210.5L124.8 143.2L124.5 142.1Z"/>
<path class="b" color="#0000f1" d="M202.4 208.3L202.7 209.4L124.5 142.1L124.2 140.9Z"/>
<path class="b" color="#0000fd" d="M202.1 207.1L202.4 208.3L124.2 140.9L123.9 139.8Z"/>
<path class="b" color="#0009ff" d="M201.9 206.0L202.1 207.1L123.9 139.8L123.7 138.7Z"/>
<path class="b" color="#0015ff" d="M201.7 204.9L201.9 206.0L123.7 138.7L123.5 137.6Z"/>
<path class="b" color="#0020ff" d="M201.5 203.7L201.7 204.9L123.5 137.6L123.3 136.4Z"/>
<path class="b" color="#002cff" d="M201.3 202.6L201.5 203.7L123.3 136.4L123.1 135.3Z"/>
<path class="b" color="#0037ff" d="M201.2 201.4L201.3 202.6L123.1 135.3L123.0 134.1Z"/>
<path class="b" color="#0042ff" d="M201.0 200.3L201.2 201.4L123.0 134.1L122.8 133.0Z"/>
<path class="b" color="#004eff" d="M200.9 199.2L201.0 200.3L122.8 133.0L122.7 131.8Z"/>
<path class="b" color="#0059ff" d="M200.8 198.0L200.9 199.2L122.7 131.8L122.6 130.7Z"/>
<path class="b" color="#0065ff" d="M200.6 196.8L200.8 198.0L122.6 130.7L122.4 129.5Z"/>
<path class="b" color="#0070ff" d="M200.5 195.7L200.6 196.8L122.4 129.5L122.3 128.4Z"/>
<path class="b" color="#007bff" d="M200.4 194.5L200.5 195.7L122.3 128.4L122.2 127.2Z"/>
<path class="b" color="#0087ff" d="M200.3 193.4L200.4 194.5L122.2 127.2L122.1 126.1Z"/>
<path class="b" color="#0092ff" d="M200.2 192.2L200.3 193.4L122.1 126.1L122.0 124.9Z"/>
<path class="b" color="#009eff" d="M200.1 191.0L200.2 192.2L122.0 124.9L121.9 123.7Z"/>
<path class="b" color="#00a9ff" d="M200.0 189.9L200.1 191.0L121.9 123.7L121.8 122.6Z"/>
<path class="b" color="#00b5ff" d="M199.9 188.7L200.0 189.9L121.8 122.6L121.7 121.4Z"/>
<path class="b" color="#00c0ff" d="M199.8 187.5L199.9 188.7L121.7 121.4L121.7 120.2Z"/>
<path class="b" color="#00cbff" d="M199.8 186.4L199.8 187.5L121.7 120.2L121.6 119.0Z"/>
<path class="b" color="#00d7ff" d="M199.7 185.2L199.8 186.4L121.6 119.0L121.5 117.9Z"/>
<path class="b" color="#00e2ff" d="M199.6 184.0L199.7 185.2L121.5 117.9L121.4 116.7Z"/>
<path class="b" color="#00edff" d="M199.5 182.8L199.6 184.0L121.4 116.7L121.4 115.5Z"/>
<path class="b" color="#00f9ff" d="M199.5 181.7L199.5 182.8L121.4 115.5L121.3 114.4Z"/>
<path class="b" color="#05fffa" d="M199.4 180.5L199.5 181.7L121.3 114.4L121.2 113.2Z"/>
<path class="b" color="#11ffee" d="M199.3 179.3L199.4 180.5L121.2 113.2L121.2 112.0Z"/>
<path class="b" color="#1cffe3" d="M199.3 178.2L199.3 179.3L121.2 112.0L121.1 110.8Z"/>
<path class="b" color="#27ffd8" d="M199.2 177.0L199.3 178.2L121.1 110.8L121.0 109.7Z"/>
<path class="b" color="#33ffcc" d="M199.2 175.8L199.2 177.0L121.0 109.7L121.0 108.5Z"/>
<path class="b" color="#3effc1" d="M199.1 174.6L199.2 175.8L121.0 108.5L120.9 107.3Z"/>
<path class="b" color="#49ffb6" d="M199.0 173.5L199.1 174.6L120.9 107.3L120.9 106.1Z"/>
<path class="b" color="#55ffaa" d="M199.0 172.3L199.0 173.5L120.9 106.1L120.8 105.0Z"/>
<path class="b" color="#60ff9f" d="M198.9 171.1L199.0 172.3L120.8 105.0L120.7 103.8Z"/>
<path class="b" color="#6bff94" d="M198.9 169.9L198.9 171.1L120.7 103.8L120.7 102.6Z"/>
<path class="b" color="#76ff89" d="M198.8 168.7L198.9 169.9L120.7 102.6L120.6 101.4Z"/>
<path class="b" color="#82ff7d" d="M198.8 167.6L198.8 168.7L120.6 101.4L120.6 100.3Z"/>
<path class="b" color="#8dff72" d="M198.7 166.4L198.8 167.6L120.6 100.3L120.5 99.1Z"/>
<path class="b" color="#98ff67" d="M198.7 165.2L198.7 166.4L120.5 99.1L120.5 97.9Z"/>
<path class="b" color="#a3ff5c" d="M198.6 164.0L198.7 165.2L120.5 97.9L120.4 96.7Z"/>
<path class="b" color="#afff50" d="M198.6 162.9L198.6 164.0L120.4 96.7L120.4 95.5Z"/>
<path class="b" color="#baff45" d="M198.5 161.7L198.6 162.9L120.4 95.5L120.4 94.4Z"/>
<path class="b" color="#c5ff3a" d="M198.5 160.5L198.5 161.7L120.4 94.4L120.3 93.2Z"/>
<path class="b" color="#d0ff2f" d="M198.5 159.3L198.5 160.5L120.3 93.2L120.3 92.0Z"/>
<path class="b" color="#dbff24" d="M198.4 158.1L198.5 159.3L120.3 92.0L120.2 90.8Z"/>
<path class="b" color="#e7ff18" d="M198.4 157.0L198.4 158.1L120.2 90.8L120.2 89.6Z"/>
<path class="b" color="#f2ff0d" d="M198.3 155.8L198.4 157.0L120.2 89.6L120.1 88.5Z"/>
<path class="b" color="#fdff02" d="M198.3 154.6L198.3 155.8L120.1 88.5L120.1 87.3Z"/>
<path class="b" color="#fff600" d="M198.2 153.4L198.3 154.6L120.1 87.3L120.1 86.1Z"/>
<path class="b" color="#ffeb00" d="M198.2 152.2L198.2 153.4L120.1 86.1L120.0 84.9Z"/>
<path class="b" color="#ffe000" d="M198.2 151.1L198.2 152.2L120.0 84.9L120.0 83.8Z"/>
<path class="b" color="#ffd500" d="M198.1 149.9L198.2 151.1L120.0 83.8L119.9 82.6Z"/>
<path class="b" color="#ffca00" d="M198.1 148.7L198.1 149.9L119.9 82.6L119.9 81.4Z"/>
<path class="b" color="#ffbf00" d="M198.0 147.5L198.1 148.7L119.9 81.4L119.8 80.2Z"/>
<path class="b" color="#ffb400" d="M198.0 146.4L198.0 147.5L119.8 80.2L119.8 79.0Z"/>
<path class="b" color="#ffa900" d="M198.0 145.2L198.0 146.4L119.8 79.0L119.8 77.9Z"/>
<path class="b" color="#ff9e00" d="M197.9 144.0L198.0 145.2L119.8 77.9L119.7 76.7Z"/>
<path class="b" color="#ff9300" d="M197.9 142.8L197.9 144.0L119.7 76.7L119.7 75.5Z"/>
<path class="b" color="#ff8800" d="M197.8 141.6L197.9 142.8L119.7 75.5L119.6 74.3Z"/>
<path class="b" color="#ff7d00" d="M197.8 140.4L197.8 141.6L119.6 74.3L119.6 73.1Z"/>
<path class="b" color="#ff7200" d="M197.8 139.3L197.8 140.4L119.6 73.1L119.6 72.0Z"/>
<path class="b" color="#ff6800" d="M197.7 138.1L197.8 139.3L119.6 72.0L119.5 70.8Z"/>
<path class="b" color="#ff5d00" d="M197.7 136.9L197.7 138.1L119.5 70.8L119.5 69.6Z"/>
<path class="b" color="#ff5200" d="M197.6 135.7L197.7 136.9L119.5 69.6L119.4 68.4Z"/>
<path class="b" color="#ff4700" d="M197.6 134.6L197.6 135.7L119.4 68.4L119.4 67.2Z"/>
<path class="b" color="#ff3c00" d="M197.6 133.4L197.6 134.6L119.4 67.2L119.4 66.1Z"/>
<path class="b" color="#ff3200" d="M197.5 132.2L197.6 133.4L119.4 66.1L119.3 64.9Z"/>
<path class="b" color="#ff2700" d="M197.5 131.0L197.5 132.2L119.3 64.9L119.3 63.7Z"/>
<path class="b" color="#ff1c00" d="M197.4 129.9L197.5 131.0L119.3 63.7L119.2 62.5Z"/>
<path class="b" color="#ff1200" d="M197.4 128.7L197.4 129.9L119.2 62.5L119.2 61.4Z"/>
<path class="b" color="#ff0700" d="M197.3 127.5L197.4 128.7L119.2 61.4L119.2 60.2Z"/>
<path class="b" color="#fb0000" d="M197.3 126.3L197.3 127.5L119.2 60.2L119.1 59.0Z"/>
<path class="b" color="#f10000" d="M197.3 125.1L197.3 126.3L119.1 59.0L119.1 57.8Z"/>
<path class="b" color="#e60000" d="M197.2 124.0L197.3 125.1L119.1 57.8L119.0 56.7Z"/>
<path class="b" color="#db0000" d="M197.1 122.8L197.2 124.0L119.0 56.7L119.0 55.5Z"/>
<path class="b" color="#d10000" d="M197.1 121.6L197.1 122.8L119.0 55.5L118.9 54.3Z"/>
<path class="b" color="#c60000" d="M197.0 120.4L197.1 121.6L118.9 54.3L118.8 53.1Z"/>
<path class="b" color="#bc0000" d="M197.0 119.3L197.0 120.4L118.8 53.1L118.8 52.0Z"/>
<path class="b" color="#b10000" d="M196.9 118.1L197.0 119.3L118.8 52.0L118.7 50.8Z"/>
<path class="b" color="#a70000" d="M196.8 116.9L196.9 118.1L118.7 50.8L118.6 49.6Z"/>
<path class="b" color="#9c0000" d="M196.7 115.8L196.8 116.9L118.6 49.6L118.5 48.5Z"/>
<path class="b" color="#920000" d="M196.5 114.7L196.7 115.8L118.5 48.5L118.3 47.3Z"/>
<path color="#8f0000" d="M118.1 47.9L118.3 47.3L196.5 114.7L196.3 115.2Z"/>
<path color="#960000" d="M118.0 49.2L118.1 47.9L196.3 115.2L196.2 116.5Z"/>
<path color="#a10000" d="M117.9 50.4L118.0 49.2L196.2 116.5L196.1 117.7Z"/>
<path color="#ab0000" d="M117.8 51.6L117.9 50.4L196.1 117.7L196.0 118.9Z"/>
<path color="#b60000" d="M117.7 52.8L117.8 51.6L196.0 118.9L195.9 120.1Z"/>
<path color="#c00000" d="M117.7 54.0L117.7 52.8L195.9 120.1L195.9 121.3Z"/>
<path color="#cb0000" d="M117.6 55.3L117.7 54.0L195.9 121.3L195.8 122.6Z"/>
<path color="#d60000" d="M117.6 56.5L117.6 55.3L195.8 122.6L195.8 123.8Z"/>
<path color="#e00000" d="M117.5 57.7L117.6 56.5L195.8 123.8L195.7 125.0Z"/>
<path color="#eb0000" d="M117.5 58.9L117.5 57.7L195.7 125.0L195.7 126.2Z"/>
<path color="#f50000" d="M117.4 60.1L117.5 58.9L195.7 126.2L195.6 127.4Z"/>
<path color="#ff0100" d="M117.4 61.3L117.4 60.1L195.6 127.4L195.6 128.6Z"/>
<path color="#ff0c00" d="M117.4 62.5L117.4 61.3L195.6 128.6L195.5 129.8Z"/>
<path color="#ff1600" d="M117.3 63.7L117.4 62.5L195.5 129.8L195.5 131.0Z"/>
<path color="#ff2100" d="M117.3 64.9L117.3 63.7L195.5 131.0L195.5 132.2Z"/>
<path color="#ff2c00" d="M117.2 66.1L117.3 64.9L195.5 132.2L195.4 133.4Z"/>
<path color="#ff3600" d="M117.2 67.3L117.2 66.1L195.4 133.4L195.4 134.6Z"/>
<path color="#ff4100" d="M117.1 68.5L117.2 67.3L195.4 134.6L195.3 135.8Z"/>
<path color="#ff4c00" d="M117.1 69.7L117.1 68.5L195.3 135.8L195.3 137.0Z"/>
<path color="#ff5700" d="M117.1 70.9L117.1 69.7L195.3 137.0L195.3 138.2Z"/>
<path color="#ff6100" d="M117.0 72.1L117.1 70.9L195.3 138.2L195.2 139.4Z"/>
<path color="#ff6c00" d="M117.0 73.3L117.0 72.1L195.2 139.4L195.2 140.6Z"/>
<path color="#ff7700" d="M117.0 74.5L117.0 73.3L195.2 140.6L195.1 141.8Z"/>
<path color="#ff8200" d="M116.9 75.7L117.0 74.5L195.1 141.8L195.1 143.0Z"/>
<path color="#ff8d00" d="M116.9 76.9L116.9 75.7L195.1 143.0L195.1 144.2Z"/>
<path color="#ff9800" d="M116.8 78.1L116.9 76.9L195.1 144.2L195.0 145.5Z"/>
<path color="#ffa300" d="M116.8 79.3L116.8 78.1L195.0 145.5L195.0 146.7Z"/>
<path color="#ffae00" d="M116.8 80.5L116.8 79.3L195.0 146.7L194.9 147.9Z"/>
<path color="#ffb900" d="M116.7 81.7L116.8 80.5L194.9 147.9L194.9 149.1Z"/>
<path color="#ffc400" d="M116.7 83.0L116.7 81.7L194.9 149.1L194.9 150.3Z"/>
<path color="#ffcf00" d="M116.6 84.2L116.7 83.0L194.9 150.3L194.8 151.5Z"/>
<path color="#ffda00" d="M116.6 85.4L116.6 84.2L194.8 151.5L194.8 152.7Z"/>
<path color="#ffe500" d="M116.6 86.6L116.6 85.4L194.8 152.7L194.7 153.9Z"/>
<path color="#fff000" d="M116.5 87.8L116.6 86.6L194.7 153.9L194.7 155.1Z"/>
<path color="#fffb00" d="M116.5 89.0L116.5 87.8L194.7 155.1L194.7 156.3Z"/>
<path color="#f8ff07" d="M116.4 90.2L116.5 89.0L194.7 156.3L194.6 157.5Z"/>
<path color="#edff12" d="M116.4 91.4L116.4 90.2L194.6 157.5L194.6 158.7Z"/>
<path color="#e2ff1d" d="M116.4 92.6L116.4 91.4L194.6 158.7L194.5 159.9Z"/>
<path color="#d6ff29" d="M116.3 93.8L116.4 92.6L194.5 159.9L194.5 161.1Z"/>
<path color="#cbff34" d="M116.3 95.0L116.3 93.8L194.5 161.1L194.5 162.3Z"/>
<path color="#c0ff3f" d="M116.2 96.2L116.3 95.0L194.5 162.3L194.4 163.5Z"/>
<path color="#b5ff4a" d="M116.2 97.4L116.2 96.2L194.4 163.5L194.4 164.7Z"/>
<path color="#aaff55" d="M116.1 98.6L116.2 97.4L194.4 164.7L194.3 165.9Z"/>
<path color="#9fff60" d="M116.1 99.8L116.1 98.6L194.3 165.9L194.3 167.1Z"/>
<path color="#94ff6b" d="M116.0 101.0L116.1 99.8L194.3 167.1L194.2 168.3Z"/>
<path color="#88ff77" d="M116.0 102.2L116.0 101.0L194.2 168.3L194.2 169.5Z"/>
<path color="#7dff82" d="M115.9 103.4L116.0 102.2L194.2 169.5L194.1 170.8Z"/>
<path color="#72ff8d" d="M115.9 104.6L115.9 103.4L194.1 170.8L194.1 172.0Z"/>
<path color="#67ff98" d="M115.8 105.9L115.9 104.6L194.1 172.0L194.0 173.2Z"/>
<path color="#5bffa4" d="M115.8 107.1L115.8 105.9L194.0 173.2L194.0 174.4Z"/>
<path color="#50ffaf" d="M115.7 108.3L115.8 107.1L194.0 174.4L193.9 175.6Z"/>
<path color="#45ffba" d="M115.7 109.5L115.7 108.3L193.9 175.6L193.9 176.8Z"/>
<path color="#39ffc6" d="M115.6 110.7L115.7 109.5L193.9 176.8L193.8 178.0Z"/>
<path color="#2effd1" d="M115.6 111.9L115.6 110.7L193.8 178.0L193.7 179.2Z"/>
<path color="#23ffdc" d="M115.5 113.2L115.6 111.9L193.7 179.2L193.7 180.5Z"/>
<path color="#17ffe8" d="M115.4 114.4L115.5 113.2L193.7 180.5L193.6 181.7Z"/>
<path color="#0cfff3" d="M115.4 115.6L115.4 114.4L193.6 181.7L193.6 182.9Z"/>
<path color="#01fffe" d="M115.3 116.8L115.4 115.6L193.6 182.9L193.5 184.1Z"/>
<path color="#00f4ff" d="M115.2 118.0L115.3 116.8L193.5 184.1L193.4 185.3Z"/>
<path color="#00e9ff" d="M115.2 119.2L115.2 118.0L193.4 185.3L193.3 186.5Z"/>
<path color="#00ddff" d="M115.1 120.4L115.2 119.2L193.3 186.5L193.3 187.8Z"/>
<path color="#00d2ff" d="M115.0 121.7L115.1 120.4L193.3 187.8L193.2 189.0Z"/>
<path color="#00c7ff" d="M114.9 122.9L115.0 121.7L193.2 189.0L193.1 190.2Z"/>
<path color="#00bbff" d="M114.8 124.1L114.9 122.9L193.1 190.2L193.0 191.4Z"/>
<path color="#00b0ff" d="M114.8 125.3L114.8 124.1L193.0 191.4L192.9 192.6Z"/>
<path color="#00a4ff" d="M114.7 126.6L114.8 125.3L192.9 192.6L192.9 193.9Z"/>
<path color="#0099ff" d="M114.6 127.8L114.7 126.6L192.9 193.9L192.8 195.1Z"/>
<path color="#008eff" d="M114.5 129.0L114.6 127.8L192.8 195.1L192.7 196.3Z"/>
<path color="#0082ff" d="M114.4 130.3L114.5 129.0L192.7 196.3L192.6 197.6Z"/>
<path color="#0077ff" d="M114.3 131.5L114.4 130.3L192.6 197.6L192.4 198.8Z"/>
<path color="#006bff" d="M114.1 132.7L114.3 131.5L192.4 198.8L192.3 200.0Z"/>
<path color="#0060ff" d="M114.0 134.0L114.1 132.7L192.3 200.0L192.2 201.3Z"/>
<path color="#0054ff" d="M113.9 135.2L114.0 134.0L192.2 201.3L192.1 202.5Z"/>
<path color="#0049ff" d="M113.7 136.5L113.9 135.2L192.1 202.5L191.9 203.8Z"/>
<path color="#003dff" d="M113.6 137.7L113.7 136.5L191.9 203.8L191.8 205.0Z"/>
<path color="#0032ff" d="M113.4 139.0L113.6 137.7L191.8 205.0L191.6 206.3Z"/>
<path color="#0027ff" d="M113.2 140.2L113.4 139.0L191.6 206.3L191.4 207.5Z"/>
<path color="#001bff" d="M113.0 141.5L113.2 140.2L191.4 207.5L191.2 208.8Z"/>
<path color="#0010ff" d="M112.8 142.7L113.0 141.5L191.2 208.8L191.0 210.0Z"/>
<path color="#0004ff" d="M112.6 144.0L112.8 142.7L191.0 210.0L190.8 211.3Z"/>
<path color="#0000f8" d="M112.3 145.3L112.6 144.0L190.8 211.3L190.5 212.6Z"/>
<path color="#0000ec" d="M112.0 146.6L112.3 145.3L190.5 212.6L190.2 213.9Z"/>
<path color="#0000e1" d="M111.7 147.9L112.0 146.6L190.2 213.9L189.9 215.2Z"/>
<path color="#0000d6" d="M111.3 149.2L111.7 147.9L189.9 215.2L189.5 216.5Z"/>
<path color="#0000ca" d="M110.9 150.6L111.3 149.2L189.5 216.5L189.1 217.9Z"/>
<path color="#0000bf" d="M110.3 151.9L110.9 150.6L189.1 217.9L188.5 219.2Z"/>
<path color="#0000b3" d="M109.7 153.3L110.3 151.9L188.5 219.2L187.9 220.7Z"/>
<path color="#0000a8" d="M108.9 154.8L109.7 153.3L187.9 220.7L187.1 222.1Z"/>
<path color="#00009e" d="M108.0 156.0L108.9 154.8L187.1 222.1L186.2 223.3Z"/>
<path color="#000097" d="M107.2 156.9L108.0 156.0L186.2 223.3L185.4 224.3Z"/>
<path color="#000091" d="M106.4 157.8L107.2 156.9L185.4 224.3L184.6 225.1Z"/>
<path color="#00008c" d="M105.6 158.5L106.4 157.8L184.6 225.1L183.8 225.8Z"/>
<path color="#000088" d="M104.7 159.1L105.6 158.5L183.8 225.8L182.9 226.4Z"/>
<path color="#000085" d="M103.9 159.6L104.7 159.1L182.9 226.4L182.1 226.9Z"/>
<path color="#000083" d="M103.1 160.1L103.9 159.6L182.1 226.9L181.3 227.4Z"/>
<path color="#000082" d="M102.3 160.4L103.1 160.1L181.3 227.4L180.5 227.7ZM101.9 160.5L102.3 160.4L180.5 227.7L180.1 227.8ZM101.1 160.7L101.9 160.5L180.1 227.8L179.3 228.0Z"/>
<path color="#000084" d="M100.2 160.7L101.1 160.7L179.3 228.0L178.4 228.0Z"/>
<path color="#000087" d="M99.4 160.7L100.2 160.7L178.4 228.0L177.6 228.0Z"/>
<path color="#00008a" d="M98.6 160.5L99.4 160.7L177.6 228.0L176.8 227.9Z"/>
<path color="#00008e" d="M97.8 160.3L98.6 160.5L176.8 227.9L176.0 227.6Z"/>
<path color="#000093" d="M96.9 160.0L97.8 160.3L176.0 227.6L175.1 227.3Z"/>
<path color="#00009a" d="M96.1 159.5L96.9 160.0L175.1 227.3L174.3 226.8Z"/>
<path class="b" color="#0000a2" d="M173.5 226.0L174.3 226.8L96.1 159.5L95.3 158.7Z"/>
<path class="b" color="#0000ad" d="M172.7 225.1L173.5 226.0L95.3 158.7L94.5 157.7Z"/>
<path class="b" color="#0000b8" d="M172.1 224.1L172.7 225.1L94.5 157.7L93.9 156.7Z"/>
<path class="b" color="#0000c4" d="M171.6 223.0L172.1 224.1L93.9 156.7L93.4 155.7Z"/>
<path class="b" color="#0000cf" d="M171.2 221.9L171.6 223.0L93.4 155.7L93.0 154.6Z"/>
<path class="b" color="#0000db" d="M170.9 220.9L171.2 221.9L93.0 154.6L92.7 153.6Z"/>
<path class="b" color="#0000e6" d="M170.5 219.8L170.9 220.9L92.7 153.6L92.3 152.5Z"/>
<path class="b" color="#0000f1" d="M170.3 218.7L170.5 219.8L92.3 152.5L92.1 151.3Z"/>
<path class="b" color="#0000fd" d="M170.0 217.5L170.3 218.7L92.1 151.3L91.8 150.2Z"/>
<path class="b" color="#0009ff" d="M169.8 216.4L170.0 217.5L91.8 150.2L91.6 149.1Z"/>
<path class="b" color="#0015ff" d="M169.6 215.3L169.8 216.4L91.6 149.1L91.4 148.0Z"/>
<path class="b" color="#0020ff" d="M169.4 214.1L169.6 215.3L91.4 148.0L91.2 146.8Z"/>
<path class="b" color="#002cff" d="M169.2 213.0L169.4 214.1L91.2 146.8L91.0 145.7Z"/>
<path class="b" color="#0037ff" d="M169.1 211.9L169.2 213.0L91.0 145.7L90.9 144.5Z"/>
<path class="b" color="#0042ff" d="M168.9 210.7L169.1 211.9L90.9 144.5L90.7 143.4Z"/>
<path class="b" color="#004eff" d="M168.8 209.6L168.9 210.7L90.7 143.4L90.6 142.2Z"/>
<path class="b" color="#0059ff" d="M168.6 208.4L168.8 209.6L90.6 142.2L90.4 141.1Z"/>
<path class="b" color="#0065ff" d="M168.5 207.2L168.6 208.4L90.4 141.1L90.3 139.9Z"/>
<path class="b" color="#0070ff" d="M168.4 206.1L168.5 207.2L90.3 139.9L90.2 138.8Z"/>
<path class="b" color="#007bff" d="M168.3 204.9L168.4 206.1L90.2 138.8L90.1 137.6Z"/>
<path class="b" color="#0087ff" d="M168.2 203.8L168.3 204.9L90.1 137.6L90.0 136.5Z"/>
<path class="b" color="#0092ff" d="M168.1 202.6L168.2 203.8L90.0 136.5L89.9 135.3Z"/>
<path class="b" color="#009eff" d="M168.0 201.4L168.1 202.6L89.9 135.3L89.8 134.1Z"/>
<path class="b" color="#00a9ff" d="M167.9 200.3L168.0 201.4L89.8 134.1L89.7 133.0Z"/>
<path class="b" color="#00b4ff" d="M167.8 199.1L167.9 200.3L89.7 133.0L89.6 131.8Z"/>
<path class="b" color="#00c0ff" d="M167.7 197.9L167.8 199.1L89.6 131.8L89.5 130.6Z"/>
<path class="b" color="#00cbff" d="M167.6 196.8L167.7 197.9L89.5 130.6L89.5 129.5Z"/>
<path class="b" color="#00d7ff" d="M167.6 195.6L167.6 196.8L89.5 129.5L89.4 128.3Z"/>
<path class="b" color="#00e2ff" d="M167.5 194.4L167.6 195.6L89.4 128.3L89.3 127.1Z"/>
<path class="b" color="#00edff" d="M167.4 193.3L167.5 194.4L89.3 127.1L89.2 125.9Z"/>
<path class="b" color="#00f9ff" d="M167.4 192.1L167.4 193.3L89.2 125.9L89.2 124.8Z"/>
<path class="b" color="#05fffa" d="M167.3 190.9L167.4 192.1L89.2 124.8L89.1 123.6Z"/>
<path class="b" color="#10ffef" d="M167.2 189.7L167.3 190.9L89.1 123.6L89.0 122.4Z"/>
<path class="b" color="#1cffe3" d="M167.2 188.6L167.2 189.7L89.0 122.4L89.0 121.3Z"/>
<path class="b" color="#27ffd8" d="M167.1 187.4L167.2 188.6L89.0 121.3L88.9 120.1Z"/>
<path class="b" color="#33ffcc" d="M167.0 186.2L167.1 187.4L88.9 120.1L88.9 118.9Z"/>
<path class="b" color="#3effc1" d="M167.0 185.0L167.0 186.2L88.9 118.9L88.8 117.7Z"/>
<path class="b" color="#49ffb6" d="M166.9 183.9L167.0 185.0L88.8 117.7L88.7 116.5Z"/>
<path class="b" color="#54ffab" d="M166.9 182.7L166.9 183.9L88.7 116.5L88.7 115.4Z"/>
<path class="b" color="#60ff9f" d="M166.8 181.5L166.9 182.7L88.7 115.4L88.6 114.2Z"/>
<path class="b" color="#6bff94" d="M166.8 180.3L166.8 181.5L88.6 114.2L88.6 113.0Z"/>
<path class="b" color="#76ff89" d="M166.7 179.1L166.8 180.3L88.6 113.0L88.5 111.8Z"/>
<path class="b" color="#82ff7d" d="M166.7 178.0L166.7 179.1L88.5 111.8L88.5 110.7Z"/>
<path class="b" color="#8dff72" d="M166.6 176.8L166.7 178.0L88.5 110.7L88.4 109.5Z"/>
<path class="b" color="#98ff67" d="M166.6 175.6L166.6 176.8L88.4 109.5L88.4 108.3Z"/>
<path class="b" color="#a3ff5c" d="M166.5 174.4L166.6 175.6L88.4 108.3L88.3 107.1Z"/>
<path class="b" color="#afff50" d="M166.5 173.3L166.5 174.4L88.3 107.1L88.3 106.0Z"/>
<path class="b" color="#baff45" d="M166.4 172.1L166.5 173.3L88.3 106.0L88.2 104.8Z"/>
<path class="b" color="#c5ff3a" d="M166.4 170.9L166.4 172.1L88.2 104.8L88.2 103.6Z"/>
<path class="b" color="#d0ff2f" d="M166.3 169.7L166.4 170.9L88.2 103.6L88.1 102.4Z"/>
<path class="b" color="#dbff24" d="M166.3 168.5L166.3 169.7L88.1 102.4L88.1 101.2Z"/>
<path class="b" color="#e6ff19" d="M166.3 167.4L166.3 168.5L88.1 101.2L88.1 100.0Z"/>
<path class="b" color="#f2ff0d" d="M166.2 166.2L166.3 167.4L88.1 100.0L88.0 98.9Z"/>
<path class="b" color="#fdff02" d="M166.2 165.0L166.2 166.2L88.0 98.9L88.0 97.7Z"/>
<path class="b" color="#fff600" d="M166.1 163.8L166.2 165.0L88.0 97.7L87.9 96.5Z"/>
<path class="b" color="#ffeb00" d="M166.1 162.6L166.1 163.8L87.9 96.5L87.9 95.3Z"/>
<path class="b" color="#ffe000" d="M166.0 161.5L166.1 162.6L87.9 95.3L87.9 94.2Z"/>
<path class="b" color="#ffd500" d="M166.0 160.3L166.0 161.5L87.9 94.2L87.8 93.0Z"/>
<path class="b" color="#ffca00" d="M166.0 159.1L166.0 160.3L87.8 93.0L87.8 91.8Z"/>
<path class="b" color="#ffbf00" d="M165.9 157.9L166.0 159.1L87.8 91.8L87.7 90.6Z"/>
<path class="b" color="#ffb400" d="M165.9 156.8L165.9 157.9L87.7 90.6L87.7 89.5Z"/>
<path class="b" color="#ffa900" d="M165.8 155.6L165.9 156.8L87.7 89.5L87.7 88.3Z"/>
<path class="b" color="#ff9e00" d="M165.8 154.4L165.8 155.6L87.7 88.3L87.6 87.1Z"/>
<path class="b" color="#ff9300" d="M165.8 153.2L165.8 154.4L87.6 87.1L87.6 85.9Z"/>
<path class="b" color="#ff8800" d="M165.7 152.0L165.8 153.2L87.6 85.9L87.5 84.7Z"/>
<path class="b" color="#ff7d00" d="M165.7 150.9L165.7 152.0L87.5 84.7L87.5 83.5Z"/>
<path class="b" color="#ff7200" d="M165.6 149.7L165.7 150.9L87.5 83.5L87.5 82.4Z"/>
<path class="b" color="#ff6800" d="M165.6 148.5L165.6 149.7L87.5 82.4L87.4 81.2Z"/>
<path class="b" color="#ff5d00" d="M165.6 147.3L165.6 148.5L87.4 81.2L87.4 80.0Z"/>
<path class="b" color="#ff5200" d="M165.5 146.1L165.6 147.3L87.4 80.0L87.3 78.8Z"/>
<path class="b" color="#ff4700" d="M165.5 145.0L165.5 146.1L87.3 78.8L87.3 77.7Z"/>
<path class="b" color="#ff3c00" d="M165.4 143.8L165.5 145.0L87.3 77.7L87.3 76.5Z"/>
<path class="b" color="#ff3200" d="M165.4 142.6L165.4 143.8L87.3 76.5L87.2 75.3Z"/>
<path class="b" color="#ff2700" d="M165.4 141.4L165.4 142.6L87.2 75.3L87.2 74.1Z"/>
<path class="b" color="#ff1c00" d="M165.3 140.3L165.4 141.4L87.2 74.1L87.1 73.0Z"/>
<path class="b" color="#ff1200" d="M165.3 139.1L165.3 140.3L87.1 73.0L87.1 71.8Z"/>
<path class="b" color="#ff0700" d="M165.2 137.9L165.3 139.1L87.1 71.8L87.0 70.6Z"/>
<path class="b" color="#fb0000" d="M165.2 136.7L165.2 137.9L87.0 70.6L87.0 69.4Z"/>
<path class="b" color="#f10000" d="M165.1 135.6L165.2 136.7L87.0 69.4L86.9 68.2Z"/>
<path class="b" color="#e60000" d="M165.1 134.4L165.1 135.6L86.9 68.2L86.9 67.1Z"/>
<path class="b" color="#db0000" d="M165.0 133.2L165.1 134.4L86.9 67.1L86.8 65.9Z"/>
<path class="b" color="#d10000" d="M165.0 132.0L165.0 133.2L86.8 65.9L86.8 64.7Z"/>
<path class="b" color="#c60000" d="M164.9 130.8L165.0 132.0L86.8 64.7L86.7 63.5Z"/>
<path class="b" color="#bc0000" d="M164.9 129.7L164.9 130.8L86.7 63.5L86.7 62.4Z"/>
<path class="b" color="#b10000" d="M164.8 128.5L164.9 129.7L86.7 62.4L86.6 61.2Z"/>
<path class="b" color="#a70000" d="M164.7 127.3L164.8 128.5L86.6 61.2L86.5 60.0Z"/>
<path class="b" color="#9c0000" d="M164.6 126.2L164.7 127.3L86.5 60.0L86.4 58.9Z"/>
<path class="b" color="#920000" d="M164.4 125.1L164.6 126.2L86.4 58.9L86.2 57.7Z"/>
<path color="#8f0000" d="M86.0 58.3L86.2 57.7L164.4 125.1L164.2 125.6Z"/>
<path color="#960000" d="M85.9 59.6L86.0 58.3L164.2 125.6L164.1 126.9Z"/>
<path color="#a10000" d="M85.8 60.8L85.9 59.6L164.1 126.9L164.0 128.1Z"/>
<path color="#ab0000" d="M85.7 62.0L85.8 60.8L164.0 128.1L163.9 129.3Z"/>
<path color="#b60000" d="M85.6 63.2L85.7 62.0L163.9 129.3L163.8 130.5Z"/>
<path color="#c00000" d="M85.6 64.4L85.6 63.2L163.8 130.5L163.8 131.7Z"/>
<path color="#cb0000" d="M85.5 65.6L85.6 64.4L163.8 131.7L163.7 133.0Z"/>
<path color="#d60000" d="M85.5 66.9L85.5 65.6L163.7 133.0L163.7 134.2Z"/>
<path color="#e00000" d="M85.4 68.1L85.5 66.9L163.7 134.2L163.6 135.4Z"/>
<path color="#eb0000" d="M85.4 69.3L85.4 68.1L163.6 135.4L163.6 136.6Z"/>
<path color="#f50000" d="M85.3 70.5L85.4 69.3L163.6 136.6L163.5 137.8Z"/>
<path color="#ff0100" d="M85.3 71.7L85.3 70.5L163.5 137.8L163.5 139.0Z"/>
<path color="#ff0c00" d="M85.2 72.9L85.3 71.7L163.5 139.0L163.4 140.2Z"/>
<path color="#ff1600" d="M85.2 74.1L85.2 72.9L163.4 140.2L163.4 141.4Z"/>
<path color="#ff2100" d="M85.1 75.3L85.2 74.1L163.4 141.4L163.3 142.6Z"/>
<path color="#ff2c00" d="M85.1 76.5L85.1 75.3L163.3 142.6L163.3 143.8Z"/>
<path color="#ff3600" d="M85.1 77.7L85.1 76.5L163.3 143.8L163.3 145.0Z"/>
<path color="#ff4100" d="M85.0 78.9L85.1 77.7L163.3 145.0L163.2 146.2Z"/>
<path color="#ff4c00" d="M85.0 80.1L85.0 78.9L163.2 146.2L163.2 147.4Z"/>
<path color="#ff5700" d="M85.0 81.3L85.0 80.1L163.2 147.4L163.1 148.6Z"/>
<path color="#ff6100" d="M84.9 82.5L85.0 81.3L163.1 148.6L163.1 149.8Z"/>
<path color="#ff6c00" d="M84.9 83.7L84.9 82.5L163.1 149.8L163.1 151.0Z"/>
<path color="#ff7700" d="M84.8 84.9L84.9 83.7L163.1 151.0L163.0 152.2Z"/>
<path color="#ff8200" d="M84.8 86.1L84.8 84.9L163.0 152.2L163.0 153.4Z"/>
<path color="#ff8d00" d="M84.8 87.3L84.8 86.1L163.0 153.4L162.9 154.6Z"/>
<path color="#ff9800" d="M84.7 88.5L84.8 87.3L162.9 154.6L162.9 155.9Z"/>
<path color="#ffa300" d="M84.7 89.7L84.7 88.5L162.9 155.9L162.9 157.1Z"/>
<path color="#ffae00" d="M84.6 90.9L84.7 89.7L162.9 157.1L162.8 158.3Z"/>
<path color="#ffb900" d="M84.6 92.1L84.6 90.9L162.8 158.3L162.8 159.5Z"/>
<path color="#ffc400" d="M84.6 93.3L84.6 92.1L162.8 159.5L162.8 160.7Z"/>
<path color="#ffcf00" d="M84.5 94.6L84.6 93.3L162.8 160.7L162.7 161.9Z"/>
<path color="#ffda00" d="M84.5 95.8L84.5 94.6L162.7 161.9L162.7 163.1Z"/>
<path color="#ffe500" d="M84.4 97.0L84.5 95.8L162.7 163.1L162.6 164.3Z"/>
<path color="#fff000" d="M84.4 98.2L84.4 97.0L162.6 164.3L162.6 165.5Z"/>
<path color="#fffb00" d="M84.4 99.4L84.4 98.2L162.6 165.5L162.5 166.7Z"/>
<path color="#f8ff07" d="M84.3 100.6L84.4 99.4L162.5 166.7L162.5 167.9Z"/>
<path color="#edff12" d="M84.3 101.8L84.3 100.6L162.5 167.9L162.5 169.1Z"/>
<path color="#e2ff1d" d="M84.2 103.0L84.3 101.8L162.5 169.1L162.4 170.3Z"/>
<path color="#d7ff28" d="M84.2 104.2L84.2 103.0L162.4 170.3L162.4 171.5Z"/>
<path color="#cbff34" d="M84.1 105.4L84.2 104.2L162.4 171.5L162.3 172.7Z"/>
<path color="#c0ff3f" d="M84.1 106.6L84.1 105.4L162.3 172.7L162.3 173.9Z"/>
<path color="#b5ff4a" d="M84.1 107.8L84.1 106.6L162.3 173.9L162.2 175.1Z"/>
<path color="#aaff55" d="M84.0 109.0L84.1 107.8L162.2 175.1L162.2 176.3Z"/>
<path color="#9fff60" d="M84.0 110.2L84.0 109.0L162.2 176.3L162.2 177.5Z"/>
<path color="#93ff6c" d="M83.9 111.4L84.0 110.2L162.2 177.5L162.1 178.7Z"/>
<path color="#88ff77" d="M83.9 112.6L83.9 111.4L162.1 178.7L162.1 180.0Z"/>
<path color="#7dff82" d="M83.8 113.9L83.9 112.6L162.1 180.0L162.0 181.2Z"/>
<path color="#72ff8d" d="M83.8 115.1L83.8 113.9L162.0 181.2L162.0 182.4Z"/>
<path color="#66ff99" d="M83.7 116.3L83.8 115.1L162.0 182.4L161.9 183.6Z"/>
<path color="#5bffa4" d="M83.7 117.5L83.7 116.3L161.9 183.6L161.9 184.8Z"/>
<path color="#50ffaf" d="M83.6 118.7L83.7 117.5L161.9 184.8L161.8 186.0Z"/>
<path color="#44ffbb" d="M83.5 119.9L83.6 118.7L161.8 186.0L161.7 187.2Z"/>
<path color="#39ffc6" d="M83.5 121.1L83.5 119.9L161.7 187.2L161.7 188.4Z"/>
<path color="#2effd1" d="M83.4 122.3L83.5 121.1L161.7 188.4L161.6 189.7Z"/>
<path color="#22ffdd" d="M83.4 123.6L83.4 122.3L161.6 189.7L161.6 190.9Z"/>
<path color="#17ffe8" d="M83.3 124.8L83.4 123.6L161.6 190.9L161.5 192.1Z"/>
<path color="#0cfff3" d="M83.2 126.0L83.3 124.8L161.5 192.1L161.4 193.3Z"/>
<path color="#00ffff" d="M83.2 127.2L83.2 126.0L161.4 193.3L161.4 194.5Z"/>
<path color="#00f4ff" d="M83.1 128.4L83.2 127.2L161.4 194.5L161.3 195.7Z"/>
<path color="#00e9ff" d="M83.0 129.6L83.1 128.4L161.3 195.7L161.2 197.0Z"/>
<path color="#00ddff" d="M83.0 130.9L83.0 129.6L161.2 197.0L161.2 198.2Z"/>
<path color="#00d2ff" d="M82.9 132.1L83.0 130.9L161.2 198.2L161.1 199.4Z"/>
<path color="#00c7ff" d="M82.8 133.3L82.9 132.1L161.1 199.4L161.0 200.6Z"/>
<path color="#00bbff" d="M82.7 134.5L82.8 133.3L161.0 200.6L160.9 201.8Z"/>
<path color="#00b0ff" d="M82.6 135.7L82.7 134.5L160.9 201.8L160.8 203.1Z"/>
<path color="#00a4ff" d="M82.5 137.0L82.6 135.7L160.8 203.1L160.7 204.3Z"/>
<path color="#0099ff" d="M82.4 138.2L82.5 137.0L160.7 204.3L160.6 205.5Z"/>
<path color="#008dff" d="M82.3 139.4L82.4 138.2L160.6 205.5L160.5 206.7Z"/>
<path color="#0082ff" d="M82.2 140.7L82.3 139.4L160.5 206.7L160.4 208.0Z"/>
<path color="#0077ff" d="M82.1 141.9L82.2 140.7L160.4 208.0L160.3 209.2Z"/>
<path color="#006bff" d="M82.0 143.1L82.1 141.9L160.3 209.2L160.2 210.4Z"/>
<path color="#0060ff" d="M81.9 144.4L82.0 143.1L160.2 210.4L160.1 211.7Z"/>
<path color="#0054ff" d="M81.8 145.6L81.9 144.4L160.1 211.7L159.9 212.9Z"/>
<path color="#0049ff" d="M81.6 146.9L81.8 145.6L159.9 212.9L159.8 214.2Z"/>
<path color="#003dff" d="M81.5 148.1L81.6 146.9L159.8 214.2L159.7 215.4Z"/>
<path color="#0032ff" d="M81.3 149.4L81.5 148.1L159.7 215.4L159.5 216.7Z"/>
<path color="#0027ff" d="M81.1 150.6L81.3 149.4L159.5 216.7L159.3 217.9Z"/>
<path color="#001bff" d="M80.9 151.9L81.1 150.6L159.3 217.9L159.1 219.2Z"/>
<path color="#0010ff" d="M80.7 153.1L80.9 151.9L159.1 219.2L158.9 220.5Z"/>
<path color="#0004ff" d="M80.5 154.4L80.7 153.1L158.9 220.5L158.7 221.7Z"/>
<path color="#0000f8" d="M80.2 155.7L80.5 154.4L158.7 221.7L158.4 223.0Z"/>
<path color="#0000ec" d="M79.9 157.0L80.2 155.7L158.4 223.0L158.1 224.3Z"/>
<path color="#0000e1" d="M79.6 158.3L79.9 157.0L158.1 224.3L157.8 225.6Z"/>
<path color="#0000d6" d="M157.0 226.6L79.2 159.6L79.6 158.3L157.8 225.6L157.5 226.4Z"/>
<path color="#0000ca" d="M157.0 226.6L155.3 226.8L78.8 161.0L79.2 159.6Z"/>
<path color="#0000bf" d="M155.3 226.8L153.2 226.9L78.2 162.3L78.8 161.0Z"/>
<path color="#0000b3" d="M153.2 226.9L150.7 226.7L77.6 163.8L78.2 162.3Z"/>
<path color="#0000a8" d="M150.7 226.7L147.5 226.1L76.7 165.2L77.6 163.8Z"/>
<path color="#00009e" d="M147.5 226.1L144.3 225.3L75.9 166.4L76.7 165.2Z"/>
<path color="#000097" d="M144.3 225.3L141.2 224.2L75.1 167.3L75.9 166.4Z"/>
<path color="#000091" d="M141.2 224.2L138.0 223.0L74.3 168.2L75.1 167.3Z"/>
<path color="#00008c" d="M138.0 223.0L134.8 221.7L73.4 168.9L74.3 168.2Z"/>
<path color="#000088" d="M134.8 221.7L131.7 220.3L72.6 169.5L73.4 168.9Z"/>
<path color="#000085" d="M131.7 220.3L128.5 218.8L71.8 170.0L72.6 169.5Z"/>
<path color="#000083" d="M128.5 218.8L125.3 217.3L71.0 170.5L71.8 170.0Z"/>
<path color="#000082" d="M125.3 217.3L122.1 215.6L70.1 170.8L71.0 170.5ZM122.1 215.6L120.7 214.8L69.8 170.9L70.1 170.8ZM120.7 214.8L117.5 212.9L68.9 171.1L69.8 170.9Z"/>
<path color="#000084" d="M117.5 212.9L114.3 210.9L68.1 171.1L68.9 171.1Z"/>
<path color="#000087" d="M114.3 210.9L111.2 208.8L67.3 171.1L68.1 171.1Z"/>
<path color="#00008a" d="M111.2 208.8L108.0 206.7L66.5 170.9L67.3 171.1Z"/>
<path color="#00008e" d="M108.0 206.7L104.8 204.4L65.6 170.7L66.5 170.9Z"/>
<path color="#000093" d="M104.8 204.4L101.6 202.1L64.8 170.4L65.6 170.7Z"/>
<path color="#00009a" d="M101.6 202.1L98.5 199.5L64.0 169.8L64.8 170.4Z"/>
<path class="b" color="#0000a3" d="M64.0 169.8L63.2 169.1L95.3 196.8L98.5 199.5Z"/>
<path class="b" color="#0000ad" d="M63.2 169.1L62.4 168.1L92.4 194.0L95.3 196.8Z"/>
<path class="b" color="#0000b8" d="M62.4 168.1L61.8 167.1L90.1 191.5L92.4 194.0Z"/>
<path class="b" color="#0000c4" d="M61.8 167.1L61.3 166.1L88.2 189.2L90.1 191.5Z"/>
<path class="b" color="#0000cf" d="M61.3 166.1L60.9 165.0L86.6 187.2L88.2 189.2Z"/>
<path class="b" color="#0000db" d="M60.9 165.0L60.5 163.9L85.2 185.2L86.6 187.2Z"/>
<path class="b" color="#0000e6" d="M60.5 163.9L60.2 162.8L84.0 183.3L85.2 185.2Z"/>
<path class="b" color="#0000f2" d="M60.2 162.8L59.9 161.7L83.0 181.5L84.0 183.3Z"/>
<path class="b" color="#0000fd" d="M59.9 161.7L59.7 160.6L82.0 179.8L83.0 181.5Z"/>
<path class="b" color="#0009ff" d="M59.7 160.6L59.5 159.5L81.1 178.1L82.0 179.8Z"/>
<path class="b" color="#0015ff" d="M59.5 159.5L59.3 158.4L80.4 176.5L81.1 178.1Z"/>
<path class="b" color="#0020ff" d="M59.3 158.4L59.1 157.2L79.6 174.9L80.4 176.5Z"/>
<path class="b" color="#002cff" d="M59.1 157.2L58.9 156.1L79.0 173.4L79.6 174.9Z"/>
<path class="b" color="#0037ff" d="M58.9 156.1L58.7 154.9L78.4 171.8L79.0 173.4Z"/>
<path class="b" color="#0043ff" d="M58.7 154.9L58.6 153.8L77.8 170.3L78.4 171.8Z"/>
<path class="b" color="#004eff" d="M58.6 153.8L58.5 152.6L77.3 168.8L77.8 170.3Z"/>
<path class="b" color="#0059ff" d="M58.5 152.6L58.3 151.5L76.8 167.3L77.3 168.8Z"/>
<path class="b" color="#0065ff" d="M58.3 151.5L58.2 150.3L76.3 165.9L76.8 167.3Z"/>
<path class="b" color="#0070ff" d="M58.2 150.3L58.1 149.2L75.8 164.4L76.3 165.9Z"/>
<path class="b" color="#007cff" d="M58.1 149.2L58.0 148.0L75.4 163.0L75.8 164.4Z"/>
<path class="b" color="#0087ff" d="M58.0 148.0L57.9 146.8L75.0 161.6L75.4 163.0Z"/>
<path class="b" color="#0092ff" d="M57.9 146.8L57.8 145.7L74.6 160.2L75.0 161.6Z"/>
<path class="b" color="#009eff" d="M57.8 145.7L57.7 144.5L74.3 158.8L74.6 160.2Z"/>
<path class="b" color="#00a9ff" d="M57.7 144.5L57.6 143.3L73.9 157.4L74.3 158.8Z"/>
<path class="b" color="#00b5ff" d="M57.6 143.3L57.5 142.2L73.6 156.0L73.9 157.4Z"/>
<path class="b" color="#00c0ff" d="M57.5 142.2L57.4 141.0L73.3 154.7L73.6 156.0Z"/>
<path class="b" color="#00cbff" d="M57.4 141.0L57.3 139.8L73.0 153.3L73.3 154.7Z"/>
<path class="b" color="#00d7ff" d="M57.3 139.8L57.3 138.7L72.7 152.0L73.0 153.3Z"/>
<path class="b" color="#00e2ff" d="M57.3 138.7L57.2 137.5L72.4 150.6L72.7 152.0Z"/>
<path class="b" color="#00edff" d="M57.2 137.5L57.1 136.3L72.1 149.3L72.4 150.6Z"/>
<path class="b" color="#00f9ff" d="M57.1 136.3L57.0 135.2L71.9 147.9L72.1 149.3Z"/>
<path class="b" color="#05fffa" d="M57.0 135.2L57.0 134.0L71.6 146.6L71.9 147.9Z"/>
<path class="b" color="#11ffee" d="M57.0 134.0L56.9 132.8L71.4 145.3L71.6 146.6Z"/>
<path class="b" color="#1cffe3" d="M56.9 132.8L56.9 131.6L71.1 143.9L71.4 145.3Z"/>
<path class="b" color="#27ffd8" d="M56.9 131.6L56.8 130.5L70.9 142.6L71.1 143.9Z"/>
<path class="b" color="#33ffcc" d="M56.8 130.5L56.7 129.3L70.7 141.3L70.9 142.6Z"/>
<path class="b" color="#3effc1" d="M56.7 129.3L56.7 128.1L70.5 140.0L70.7 141.3Z"/>
<path class="b" color="#49ffb6" d="M56.7 128.1L56.6 126.9L70.2 138.7L70.5 140.0Z"/>
<path class="b" color="#55ffaa" d="M56.6 126.9L56.6 125.8L70.0 137.3L70.2 138.7Z"/>
<path class="b" color="#60ff9f" d="M56.6 125.8L56.5 124.6L69.8 136.0L70.0 137.3Z"/>
<path class="b" color="#6bff94" d="M56.5 124.6L56.5 123.4L69.6 134.7L69.8 136.0Z"/>
<path class="b" color="#76ff89" d="M56.5 123.4L56.4 122.2L69.4 133.4L69.6 134.7Z"/>
<path class="b" color="#82ff7d" d="M56.4 122.2L56.4 121.1L69.2 132.1L69.4 133.4Z"/>
<path class="b" color="#8dff72" d="M56.4 121.1L56.3 119.9L69.0 130.8L69.2 132.1Z"/>
<path class="b" color="#98ff67" d="M56.3 119.9L56.3 118.7L68.9 129.5L69.0 130.8Z"/>
<path class="b" color="#a3ff5c" d="M56.3 118.7L56.2 117.5L68.7 128.3L68.9 129.5Z"/>
<path class="b" color="#afff50" d="M56.2 117.5L56.2 116.3L68.5 127.0L68.7 128.3Z"/>
<path class="b" color="#baff45" d="M56.2 116.3L56.1 115.2L68.3 125.7L68.5 127.0Z"/>
<path class="b" color="#c5ff3a" d="M56.1 115.2L56.1 114.0L68.2 124.4L68.3 125.7Z"/>
<path class="b" color="#d0ff2f" d="M56.1 114.0L56.0 112.8L68.0 123.1L68.2 124.4Z"/>
<path class="b" color="#dbff24" d="M56.0 112.8L56.0 111.6L67.8 121.8L68.0 123.1Z"/>
<path class="b" color="#e7ff18" d="M56.0 111.6L55.9 110.4L67.7 120.5L67.8 121.8Z"/>
<path class="b" color="#f2ff0d" d="M55.9 110.4L55.9 109.3L67.5 119.2L67.7 120.5Z"/>
<path class="b" color="#fdff02" d="M55.9 109.3L55.9 108.1L67.3 117.9L67.5 119.2Z"/>
<path class="b" color="#fff600" d="M55.9 108.1L55.8 106.9L67.2 116.7L67.3 117.9Z"/>
<path class="b" color="#ffeb00" d="M55.8 106.9L55.8 105.7L67.0 115.4L67.2 116.7Z"/>
<path class="b" color="#ffe000" d="M55.8 105.7L55.7 104.5L66.9 114.1L67.0 115.4Z"/>
<path class="b" color="#ffd500" d="M55.7 104.5L55.7 103.4L66.7 112.8L66.9 114.1Z"/>
<path class="b" color="#ffca00" d="M55.7 103.4L55.7 102.2L66.5 111.6L66.7 112.8Z"/>
<path class="b" color="#ffbf00" d="M55.7 102.2L55.6 101.0L66.4 110.3L66.5 111.6Z"/>
<path class="b" color="#ffb400" d="M55.6 101.0L55.6 99.8L66.2 109.0L66.4 110.3Z"/>
<path class="b" color="#ffa900" d="M55.6 99.8L55.5 98.7L66.1 107.7L66.2 109.0Z"/>
<path class="b" color="#ff9e00" d="M55.5 98.7L55.5 97.5L65.9 106.5L66.1 107.7Z"/>
<path class="b" color="#ff9300" d="M55.5 97.5L55.5 96.3L65.8 105.2L65.9 106.5Z"/>
<path class="b" color="#ff8800" d="M55.5 96.3L55.4 95.1L65.6 103.9L65.8 105.2Z"/>
<path class="b" color="#ff7d00" d="M55.4 95.1L55.4 93.9L65.5 102.6L65.6 103.9Z"/>
<path class="b" color="#ff7200" d="M55.4 93.9L55.3 92.7L65.3 101.4L65.5 102.6Z"/>
<path class="b" color="#ff6700" d="M55.3 92.7L55.3 91.6L65.2 100.1L65.3 101.4Z"/>
<path class="b" color="#ff5d00" d="M55.3 91.6L55.3 90.4L65.0 98.8L65.2 100.1Z"/>
<path class="b" color="#ff5200" d="M55.3 90.4L55.2 89.2L64.9 97.5L65.0 98.8Z"/>
<path class="b" color="#ff4700" d="M55.2 89.2L55.2 88.0L64.7 96.3L64.9 97.5Z"/>
<path class="b" color="#ff3c00" d="M55.2 88.0L55.1 86.9L64.6 95.0L64.7 96.3Z"/>
<path class="b" color="#ff3100" d="M55.1 86.9L55.1 85.7L64.4 93.7L64.6 95.0Z"/>
<path class="b" color="#ff2700" d="M55.1 85.7L55.0 84.5L64.2 92.4L64.4 93.7Z"/>
<path class="b" color="#ff1c00" d="M55.0 84.5L55.0 83.3L64.1 91.2L64.2 92.4Z"/>
<path class="b" color="#ff1200" d="M55.0 83.3L55.0 82.2L63.9 89.9L64.1 91.2Z"/>
<path class="b" color="#ff0700" d="M55.0 82.2L54.9 81.0L63.7 88.6L63.9 89.9Z"/>
<path class="b" color="#fb0000" d="M54.9 81.0L54.9 79.8L63.6 87.3L63.7 88.6Z"/>
<path class="b" color="#f10000" d="M54.9 79.8L54.8 78.6L63.4 86.0L63.6 87.3Z"/>
<path class="b" color="#e60000" d="M54.8 78.6L54.8 77.5L63.2 84.7L63.4 86.0Z"/>
<path class="b" color="#db0000" d="M54.8 77.5L54.7 76.3L63.0 83.4L63.2 84.7Z"/>
<path class="b" color="#d10000" d="M54.7 76.3L54.7 75.1L62.8 82.1L63.0 83.4Z"/>
<path class="b" color="#c60000" d="M54.7 75.1L54.6 73.9L62.6 80.8L62.8 82.1Z"/>
<path class="b" color="#bc0000" d="M54.6 73.9L54.5 72.8L62.3 79.5L62.6 80.8Z"/>
<path class="b" color="#b10000" d="M54.5 72.8L54.5 71.6L62.1 78.1L62.3 79.5Z"/>
<path class="b" color="#a70000" d="M54.5 71.6L54.4 70.4L61.8 76.8L62.1 78.1Z"/>
<path class="b" color="#9c0000" d="M54.4 70.4L54.3 69.3L61.4 75.3L61.8 76.8Z"/>
<path class="b" color="#920000" d="M54.3 69.3L54.0 68.1L60.4 73.6L61.4 75.3Z"/>
<path color="#8f0000" d="M60.4 73.6L59.8 73.8L53.9 68.7L54.0 68.1Z"/>
<path color="#970000" d="M59.8 73.8L59.2 74.7L53.7 70.0L53.9 68.7Z"/>
<path color="#a10000" d="M59.2 74.7L58.9 75.7L53.7 71.2L53.7 70.0Z"/>
<path color="#ac0000" d="M58.9 75.7L58.6 76.7L53.6 72.4L53.7 71.2Z"/>
<path color="#b60000" d="M58.6 76.7L58.4 77.8L53.5 73.6L53.6 72.4Z"/>
<path color="#c10000" d="M58.4 77.8L58.1 78.9L53.5 74.8L53.5 73.6Z"/>
<path color="#cb0000" d="M58.1 78.9L57.9 79.9L53.4 76.1L53.5 74.8Z"/>
<path color="#d60000" d="M57.9 79.9L57.7 81.0L53.3 77.3L53.4 76.1Z"/>
<path color="#e00000" d="M57.7 81.0L57.5 82.1L53.3 78.5L53.3 77.3Z"/>
<path color="#eb0000" d="M57.5 82.1L57.3 83.2L53.2 79.7L53.3 78.5Z"/>
<path color="#f50000" d="M57.3 83.2L57.2 84.3L53.2 80.9L53.2 79.7Z"/>
<path color="#ff0100" d="M57.2 84.3L57.0 85.4L53.2 82.1L53.2 80.9Z"/>
<path color="#ff0c00" d="M57.0 85.4L56.8 86.5L53.1 83.3L53.2 82.1Z"/>
<path color="#ff1600" d="M56.8 86.5L56.7 87.6L53.1 84.5L53.1 83.3Z"/>
<path color="#ff2100" d="M56.7 87.6L56.5 88.7L53.0 85.7L53.1 84.5Z"/>
<path color="#ff2c00" d="M56.5 88.7L56.3 89.8L53.0 86.9L53.0 85.7Z"/>
<path color="#ff3700" d="M56.3 89.8L56.2 90.9L53.0 88.1L53.0 86.9Z"/>
<path color="#ff4100" d="M56.2 90.9L56.0 92.0L52.9 89.3L53.0 88.1Z"/>
<path color="#ff4c00" d="M56.0 92.0L55.9 93.1L52.9 90.5L52.9 89.3Z"/>
<path color="#ff5700" d="M55.9 93.1L55.7 94.2L52.8 91.7L52.9 90.5Z"/>
<path color="#ff6200" d="M55.7 94.2L55.6 95.3L52.8 92.9L52.8 91.7Z"/>
<path color="#ff6c00" d="M55.6 95.3L55.4 96.4L52.8 94.1L52.8 92.9Z"/>
<path color="#ff7700" d="M55.4 96.4L55.3 97.5L52.7 95.3L52.8 94.1Z"/>
<path color="#ff8200" d="M55.3 97.5L55.1 98.6L52.7 96.5L52.7 95.3Z"/>
<path color="#ff8d00" d="M55.1 98.6L55.0 99.8L52.6 97.8L52.7 96.5Z"/>
<path color="#ff9800" d="M55.0 99.8L54.8 100.9L52.6 99.0L52.6 97.8Z"/>
<path color="#ffa300" d="M54.8 100.9L54.7 102.0L52.6 100.2L52.6 99.0Z"/>
<path color="#ffae00" d="M54.7 102.0L54.5 103.1L52.5 101.4L52.6 100.2Z"/>
<path color="#ffb900" d="M54.5 103.1L54.4 104.2L52.5 102.6L52.5 101.4Z"/>
<path color="#ffc400" d="M54.4 104.2L54.2 105.3L52.4 103.8L52.5 102.6Z"/>
<path color="#ffcf00" d="M54.2 105.3L54.1 106.4L52.4 105.0L52.4 103.8Z"/>
<path color="#ffda00" d="M54.1 106.4L53.9 107.5L52.4 106.2L52.4 105.0Z"/>
<path color="#ffe500" d="M53.9 107.5L53.7 108.6L52.3 107.4L52.4 106.2Z"/>
<path color="#fff000" d="M53.7 108.6L53.6 109.7L52.3 108.6L52.3 107.4Z"/>
<path color="#fffb00" d="M53.6 109.7L53.4 110.8L52.2 109.8L52.3 108.6Z"/>
<path color="#f8ff07" d="M53.4 110.8L53.3 111.9L52.2 111.0L52.2 109.8Z"/>
<path color="#edff12" d="M53.3 111.9L53.1 113.0L52.2 112.2L52.2 111.0Z"/>
<path color="#e1ff1e" d="M53.1 113.0L52.9 114.1L52.1 113.4L52.2 112.2Z"/>
<path color="#d6ff29" d="M52.9 114.1L52.8 115.2L52.1 114.6L52.1 113.4Z"/>
<path color="#cbff34" d="M52.8 115.2L52.6 116.3L52.0 115.8L52.1 114.6Z"/>
<path color="#c0ff3f" d="M52.6 116.3L52.4 117.4L52.0 117.0L52.0 115.8Z"/>
<path color="#b5ff4a" d="M52.4 117.4L52.3 118.5L51.9 118.2L52.0 117.0Z"/>
<path color="#aaff55" d="M52.3 118.5L52.1 119.6L51.9 119.4L51.9 118.2Z"/>
<path color="#9fff60" d="M52.1 119.6L51.9 120.7L51.8 120.6L51.9 119.4Z"/>
<path color="#93ff6c" d="M51.9 120.7L51.8 121.1L51.8 120.6Z"/>
</g>
<path class="ax" d="M51.8 177.1L157.5 235.5L295.1 191.0M157.5 235.5L154.1 236.6M104.7 206.3L101.3 207.4M51.8 177.1L48.4 178.2M157.5 235.5L160.5 237.1M226.3 213.2L229.2 214.8M295.1 191.0L298.0 192.6M51.8 177.1L49.5 175.8M51.8 145.0L49.5 143.7M51.8 112.9L49.4 111.6M51.8 80.9L49.4 79.5M51.8 48.8L49.4 47.5"/>
<text class="t" transform="translate(46.2 178.5) scale(1.12 1)" text-anchor="end" font-size="12.2">0</text>
<text class="t" transform="translate(46.2 146.4) scale(1.12 1)" text-anchor="end" font-size="12.2">100</text>
<text class="t" transform="translate(46.2 114.3) scale(1.12 1)" text-anchor="end" font-size="12.2">200</text>
<text class="t" transform="translate(46.2 82.3) scale(1.12 1)" text-anchor="end" font-size="12.2">300</text>
<text class="t" transform="translate(46.2 50.2) scale(1.12 1)" text-anchor="end" font-size="12.2">400</text>
<text class="t" transform="translate(46.0 191.8) scale(1.12 1)" text-anchor="end" font-size="12.2">10</text>
<text class="t" transform="translate(98.9 221.0) scale(1.12 1)" text-anchor="end" font-size="12.2">0</text>
<text class="t" transform="translate(151.7 250.2) scale(1.12 1)" text-anchor="end" font-size="12.2">-10</text>
<text class="t" transform="translate(96.8 251.5) scale(0.95 1)" text-anchor="middle" font-size="14.5">t</text>
<text class="t" transform="translate(163.5 251.7) scale(1.12 1)" text-anchor="start" font-size="12.2">-10</text>
<text class="t" transform="translate(232.3 229.4) scale(1.12 1)" text-anchor="start" font-size="12.2">0</text>
<text class="t" transform="translate(301.1 207.2) scale(1.12 1)" text-anchor="start" font-size="12.2">10</text>
<text class="t" transform="translate(224.9 254.6) scale(0.90 1)" text-anchor="middle" font-size="14.5">x</text>
<text class="t" font-size="13.6" text-anchor="middle" transform="translate(15.8 113.2) rotate(-90) scale(1.000 1)">/N<tspan font-size="9.5" dy="3.4">5</tspan><tspan dy="-3.4">(x,t)/</tspan></text>
<rect x="309.90" y="2.30" width="19.00" height="233.30" fill="url(#jet)"/>
<text class="t" transform="translate(330.6 206.6) scale(1.12 1)" text-anchor="start" font-size="12.2">50</text>
<text class="t" transform="translate(330.6 172.0) scale(1.12 1)" text-anchor="start" font-size="12.2">100</text>
<text class="t" transform="translate(330.6 137.3) scale(1.12 1)" text-anchor="start" font-size="12.2">150</text>
<text class="t" transform="translate(330.6 102.7) scale(1.12 1)" text-anchor="start" font-size="12.2">200</text>
<text class="t" transform="translate(330.6 68.0) scale(1.12 1)" text-anchor="start" font-size="12.2">250</text>
<text class="t" transform="translate(330.6 33.4) scale(1.12 1)" text-anchor="start" font-size="12.2">300</text>
<path class="cbt" d="M309.9 201.5h2.3M328.9 201.5h-2.5M309.9 166.9h2.3M328.9 166.9h-2.5M309.9 132.2h2.3M328.9 132.2h-2.5M309.9 97.6h2.3M328.9 97.6h-2.5M309.9 62.9h2.3M328.9 62.9h-2.5M309.9 28.3h2.3M328.9 28.3h-2.5"/>
<path class="cbb" d="M328.6 2.3V235.3H309.9"/>
<rect x="390.60" y="5.10" width="238.50" height="222.40" fill="url(#dg0)"/>
<text class="t" transform="translate(390.6 241.8) scale(1.12 1)" text-anchor="middle" font-size="12.2">-10</text>
<text class="t" transform="translate(388.0 231.9) scale(1.12 1)" text-anchor="end" font-size="12.2">-10</text>
<text class="t" transform="translate(450.2 241.8) scale(1.12 1)" text-anchor="middle" font-size="12.2">-5</text>
<text class="t" transform="translate(388.0 176.3) scale(1.12 1)" text-anchor="end" font-size="12.2">-5</text>
<text class="t" transform="translate(509.9 241.8) scale(1.12 1)" text-anchor="middle" font-size="12.2">0</text>
<text class="t" transform="translate(388.0 120.7) scale(1.12 1)" text-anchor="end" font-size="12.2">0</text>
<text class="t" transform="translate(569.5 241.8) scale(1.12 1)" text-anchor="middle" font-size="12.2">5</text>
<text class="t" transform="translate(388.0 65.1) scale(1.12 1)" text-anchor="end" font-size="12.2">5</text>
<text class="t" transform="translate(629.1 241.8) scale(1.12 1)" text-anchor="middle" font-size="12.2">10</text>
<text class="t" transform="translate(388.0 9.5) scale(1.12 1)" text-anchor="end" font-size="12.2">10</text>
<text class="t" transform="translate(509.4 255.1) scale(0.90 1)" text-anchor="middle" font-size="14.5">x</text>
<text class="t" font-size="14.5" text-anchor="middle" transform="translate(364.6 117.1) rotate(-90) scale(0.95 1)">t</text>
<rect x="641.75" y="4.00" width="18.05" height="223.70" fill="url(#jet)"/>
<text class="t" transform="translate(661.5 199.5) scale(1.12 1)" text-anchor="start" font-size="12.2">50</text>
<text class="t" transform="translate(661.5 166.4) scale(1.12 1)" text-anchor="start" font-size="12.2">100</text>
<text class="t" transform="translate(661.5 133.2) scale(1.12 1)" text-anchor="start" font-size="12.2">150</text>
<text class="t" transform="translate(661.5 100.0) scale(1.12 1)" text-anchor="start" font-size="12.2">200</text>
<text class="t" transform="translate(661.5 66.9) scale(1.12 1)" text-anchor="start" font-size="12.2">250</text>
<text class="t" transform="translate(661.5 33.7) scale(1.12 1)" text-anchor="start" font-size="12.2">300</text>
<path class="cbt" d="M641.8 194.4h2.3M659.8 194.4h-2.5M641.8 161.3h2.3M659.8 161.3h-2.5M641.8 128.1h2.3M659.8 128.1h-2.5M641.8 94.9h2.3M659.8 94.9h-2.5M641.8 61.8h2.3M659.8 61.8h-2.5M641.8 28.6h2.3M659.8 28.6h-2.5"/>
<path class="cbb" d="M659.5 4.0V227.4H641.8"/>
<text class="rn" x="341.5" y="289.3" text-anchor="middle" letter-spacing="-0.30">(i)</text>
<path class="gd" d="M51.4 482.0L187.1 437.5M187.1 437.5L291.4 496.2M51.4 439.2L187.1 394.7M187.1 394.7L291.4 453.5M51.4 396.4L187.0 352.0M187.0 352.0L291.3 410.7M51.4 353.6L187.0 309.2M187.0 309.2L291.3 368.0M51.4 482.0L51.4 353.6M155.7 540.7L51.4 482.0M119.2 459.7L119.2 331.4M223.5 518.5L119.2 459.7M187.1 437.5L187.0 309.2M291.4 496.2L187.1 437.5M291.4 496.2L291.3 368.0M155.7 540.7L291.4 496.2M239.2 466.9L239.2 338.6M103.6 511.3L239.2 466.9M187.1 437.5L187.0 309.2M51.4 482.0L187.1 437.5"/>
<g class="sf">
<path color="#ff1400" d="M291.3 415.2L291.3 415.1L291.3 415.2Z"/>
<path color="#ff2400" d="M291.1 416.2L291.3 415.2L291.3 415.2L291.3 416.4Z"/>
<path color="#ff3400" d="M290.8 417.3L291.1 416.2L291.3 416.4L291.2 417.6Z"/>
<path color="#ff4400" d="M290.6 418.4L290.8 417.3L291.2 417.6L291.2 418.8Z"/>
<path color="#ff5400" d="M290.4 419.4L290.6 418.4L291.2 418.8L291.1 420.0Z"/>
<path color="#ff6300" d="M290.2 420.5L290.4 419.4L291.1 420.0L291.1 421.2Z"/>
<path color="#ff7300" d="M290.1 421.6L290.2 420.5L291.1 421.2L291.0 422.4Z"/>
<path color="#ff8300" d="M289.9 422.7L290.1 421.6L291.0 422.4L291.0 423.6Z"/>
<path color="#ff9200" d="M289.7 423.8L289.9 422.7L291.0 423.6L290.9 424.9Z"/>
<path color="#ffa200" d="M289.6 424.9L289.7 423.8L290.9 424.9L290.9 426.1Z"/>
<path color="#ffb100" d="M289.4 426.0L289.6 424.9L290.9 426.1L290.8 427.3Z"/>
<path color="#ffc000" d="M289.3 427.1L289.4 426.0L290.8 427.3L290.8 428.5Z"/>
<path color="#ffd000" d="M289.1 428.2L289.3 427.1L290.8 428.5L290.8 429.7Z"/>
<path color="#ffdf00" d="M289.0 429.3L289.1 428.2L290.8 429.7L290.7 430.9Z"/>
<path color="#ffee00" d="M288.8 430.4L289.0 429.3L290.7 430.9L290.7 432.1Z"/>
<path color="#fffd00" d="M288.7 431.6L288.8 430.4L290.7 432.1L290.7 433.3Z"/>
<path color="#f1ff0e" d="M288.6 432.7L288.7 431.6L290.7 433.3L290.6 434.5Z"/>
<path color="#e2ff1d" d="M288.4 433.8L288.6 432.7L290.6 434.5L290.6 435.7Z"/>
<path color="#d4ff2b" d="M288.3 434.9L288.4 433.8L290.6 435.7L290.6 436.8Z"/>
<path color="#c5ff3a" d="M288.2 436.0L288.3 434.9L290.6 436.8L290.5 438.0Z"/>
<path color="#b6ff49" d="M288.1 437.1L288.2 436.0L290.5 438.0L290.5 439.2Z"/>
<path color="#a7ff58" d="M288.0 438.2L288.1 437.1L290.5 439.2L290.5 440.4Z"/>
<path color="#98ff67" d="M287.9 439.4L288.0 438.2L290.5 440.4L290.4 441.6Z"/>
<path color="#89ff76" d="M287.7 440.5L287.9 439.4L290.4 441.6L290.4 442.8Z"/>
<path color="#7bff84" d="M287.6 441.6L287.7 440.5L290.4 442.8L290.4 444.0Z"/>
<path color="#6cff93" d="M287.5 442.7L287.6 441.6L290.4 444.0L290.4 445.2Z"/>
<path color="#5dffa2" d="M287.4 443.9L287.5 442.7L290.4 445.2L290.3 446.4Z"/>
<path color="#4fffb0" d="M287.3 445.0L287.4 443.9L290.3 446.4L290.3 447.6Z"/>
<path color="#40ffbf" d="M287.2 446.1L287.3 445.0L290.3 447.6L290.3 448.8Z"/>
<path color="#31ffce" d="M287.1 447.2L287.2 446.1L290.3 448.8L290.2 450.0Z"/>
<path color="#23ffdc" d="M287.0 448.4L287.1 447.2L290.2 450.0L290.2 451.2Z"/>
<path color="#15ffea" d="M286.9 449.5L287.0 448.4L290.2 451.2L290.2 452.4Z"/>
<path color="#06fff9" d="M286.8 450.6L286.9 449.5L290.2 452.4L290.2 453.6Z"/>
<path color="#00f7ff" d="M286.7 451.7L286.8 450.6L290.2 453.6L290.1 454.7Z"/>
<path color="#00e9ff" d="M286.6 452.8L286.7 451.7L290.1 454.7L290.1 455.9Z"/>
<path color="#00daff" d="M286.5 454.0L286.6 452.8L290.1 455.9L290.1 457.1Z"/>
<path color="#00ccff" d="M286.4 455.1L286.5 454.0L290.1 457.1L290.1 458.3Z"/>
<path color="#00beff" d="M286.3 456.2L286.4 455.1L290.1 458.3L290.0 459.5Z"/>
<path color="#00b0ff" d="M286.2 457.3L286.3 456.2L290.0 459.5L290.0 460.7Z"/>
<path color="#00a2ff" d="M286.0 458.5L286.2 457.3L290.0 460.7L290.0 461.9Z"/>
<path color="#0094ff" d="M285.9 459.6L286.0 458.5L290.0 461.9L289.9 463.1Z"/>
<path color="#0086ff" d="M285.8 460.7L285.9 459.6L289.9 463.1L289.9 464.3Z"/>
<path color="#0078ff" d="M285.7 461.8L285.8 460.7L289.9 464.3L289.9 465.5Z"/>
<path color="#0069ff" d="M285.6 463.0L285.7 461.8L289.9 465.5L289.9 466.7Z"/>
<path color="#005cff" d="M285.5 464.1L285.6 463.0L289.9 466.7L289.8 467.9Z"/>
<path color="#004eff" d="M285.4 465.2L285.5 464.1L289.8 467.9L289.8 469.1Z"/>
<path color="#0040ff" d="M285.3 466.3L285.4 465.2L289.8 469.1L289.8 470.3Z"/>
<path color="#0032ff" d="M285.1 467.4L285.3 466.3L289.8 470.3L289.7 471.5Z"/>
<path color="#0024ff" d="M285.0 468.6L285.1 467.4L289.7 471.5L289.7 472.7Z"/>
<path color="#0016ff" d="M284.9 469.7L285.0 468.6L289.7 472.7L289.7 473.9Z"/>
<path color="#0009ff" d="M284.7 470.8L284.9 469.7L289.7 473.9L289.6 475.1Z"/>
<path color="#0000fa" d="M284.6 471.9L284.7 470.8L289.6 475.1L289.6 476.3Z"/>
<path color="#0000ec" d="M284.4 473.0L284.6 471.9L289.6 476.3L289.6 477.5Z"/>
<path color="#0000de" d="M284.3 474.1L284.4 473.0L289.6 477.5L289.5 478.7Z"/>
<path color="#0000d1" d="M284.1 475.2L284.3 474.1L289.5 478.7L289.5 479.9Z"/>
<path color="#0000c3" d="M283.9 476.2L284.1 475.2L289.5 479.9L289.4 481.1Z"/>
<path color="#0000b6" d="M283.6 477.3L283.9 476.2L289.4 481.1L289.3 482.3Z"/>
<path color="#0000a8" d="M282.9 478.1L283.6 477.3L289.3 482.3L289.2 483.6Z"/>
<path class="b" color="#0000a3" d="M289.1 483.3L289.2 483.6L282.9 478.1L282.5 477.5Z"/>
<path class="b" color="#0000ac" d="M289.0 482.1L289.1 483.3L282.5 477.5L282.1 476.1Z"/>
<path class="b" color="#0000b9" d="M288.9 480.9L289.0 482.1L282.1 476.1L281.8 474.8Z"/>
<path class="b" color="#0000c7" d="M288.8 479.8L288.9 480.9L281.8 474.8L281.6 473.5Z"/>
<path class="b" color="#0000d5" d="M288.8 478.6L288.8 479.8L281.6 473.5L281.4 472.2Z"/>
<path class="b" color="#0000e2" d="M288.7 477.4L288.8 478.6L281.4 472.2L281.3 470.9Z"/>
<path class="b" color="#0000f0" d="M288.7 476.2L288.7 477.4L281.3 470.9L281.1 469.6Z"/>
<path class="b" color="#0000fe" d="M288.7 475.0L288.7 476.2L281.1 469.6L281.0 468.3Z"/>
<path class="b" color="#000dff" d="M288.6 473.9L288.7 475.0L281.0 468.3L280.8 467.0Z"/>
<path class="b" color="#001aff" d="M288.6 472.7L288.6 473.9L280.8 467.0L280.7 465.8Z"/>
<path class="b" color="#0028ff" d="M288.6 471.5L288.6 472.7L280.7 465.8L280.6 464.5Z"/>
<path class="b" color="#0036ff" d="M288.5 470.3L288.6 471.5L280.6 464.5L280.5 463.3Z"/>
<path class="b" color="#0044ff" d="M288.5 469.2L288.5 470.3L280.5 463.3L280.3 462.0Z"/>
<path class="b" color="#0052ff" d="M288.5 468.0L288.5 469.2L280.3 462.0L280.2 460.8Z"/>
<path class="b" color="#005fff" d="M288.4 466.8L288.5 468.0L280.2 460.8L280.1 459.5Z"/>
<path class="b" color="#006dff" d="M288.4 465.6L288.4 466.8L280.1 459.5L280.0 458.3Z"/>
<path class="b" color="#007cff" d="M288.4 464.5L288.4 465.6L280.0 458.3L279.9 457.0Z"/>
<path class="b" color="#008aff" d="M288.3 463.3L288.4 464.5L279.9 457.0L279.8 455.8Z"/>
<path class="b" color="#0098ff" d="M288.3 462.1L288.3 463.3L279.8 455.8L279.7 454.5Z"/>
<path class="b" color="#00a6ff" d="M288.3 460.9L288.3 462.1L279.7 454.5L279.6 453.3Z"/>
<path class="b" color="#00b4ff" d="M288.3 459.8L288.3 460.9L279.6 453.3L279.5 452.1Z"/>
<path class="b" color="#00c2ff" d="M288.2 458.6L288.3 459.8L279.5 452.1L279.4 450.8Z"/>
<path class="b" color="#00d0ff" d="M288.2 457.4L288.2 458.6L279.4 450.8L279.3 449.6Z"/>
<path class="b" color="#00deff" d="M288.2 456.2L288.2 457.4L279.3 449.6L279.2 448.3Z"/>
<path class="b" color="#00edff" d="M288.1 455.1L288.2 456.2L279.2 448.3L279.0 447.1Z"/>
<path class="b" color="#00fbff" d="M288.1 453.9L288.1 455.1L279.0 447.1L278.9 445.8Z"/>
<path class="b" color="#0afff5" d="M288.1 452.7L288.1 453.9L278.9 445.8L278.8 444.6Z"/>
<path class="b" color="#19ffe6" d="M288.1 451.6L288.1 452.7L278.8 444.6L278.7 443.4Z"/>
<path class="b" color="#27ffd8" d="M288.0 450.4L288.1 451.6L278.7 443.4L278.6 442.1Z"/>
<path class="b" color="#36ffc9" d="M288.0 449.2L288.0 450.4L278.6 442.1L278.5 440.9Z"/>
<path class="b" color="#44ffbb" d="M288.0 448.0L288.0 449.2L278.5 440.9L278.4 439.6Z"/>
<path class="b" color="#53ffac" d="M288.0 446.8L288.0 448.0L278.4 439.6L278.3 438.4Z"/>
<path class="b" color="#61ff9e" d="M287.9 445.7L288.0 446.8L278.3 438.4L278.2 437.1Z"/>
<path class="b" color="#70ff8f" d="M287.9 444.5L287.9 445.7L278.2 437.1L278.1 435.9Z"/>
<path class="b" color="#7fff80" d="M287.9 443.3L287.9 444.5L278.1 435.9L278.0 434.6Z"/>
<path class="b" color="#8dff72" d="M287.8 442.2L287.9 443.3L278.0 434.6L277.9 433.4Z"/>
<path class="b" color="#9cff63" d="M287.8 441.0L287.8 442.2L277.9 433.4L277.7 432.2Z"/>
<path class="b" color="#abff54" d="M287.8 439.8L287.8 441.0L277.7 432.2L277.6 430.9Z"/>
<path class="b" color="#baff45" d="M287.7 438.6L287.8 439.8L277.6 430.9L277.5 429.6Z"/>
<path class="b" color="#c9ff36" d="M287.7 437.4L287.7 438.6L277.5 429.6L277.4 428.4Z"/>
<path class="b" color="#d8ff27" d="M287.7 436.3L287.7 437.4L277.4 428.4L277.3 427.1Z"/>
<path class="b" color="#e7ff18" d="M287.6 435.1L287.7 436.3L277.3 427.1L277.1 425.8Z"/>
<path class="b" color="#f6ff09" d="M287.6 433.9L287.6 435.1L277.1 425.8L277.0 424.6Z"/>
<path class="b" color="#fff900" d="M287.6 432.7L287.6 433.9L277.0 424.6L276.9 423.3Z"/>
<path class="b" color="#ffe900" d="M287.5 431.5L287.6 432.7L276.9 423.3L276.7 422.1Z"/>
<path class="b" color="#ffda00" d="M287.5 430.4L287.5 431.5L276.7 422.1L276.6 420.8Z"/>
<path class="b" color="#ffcb00" d="M287.5 429.2L287.5 430.4L276.6 420.8L276.4 419.5Z"/>
<path class="b" color="#ffbc00" d="M287.4 428.0L287.5 429.2L276.4 419.5L276.3 418.2Z"/>
<path class="b" color="#ffac00" d="M287.4 426.8L287.4 428.0L276.3 418.2L276.1 416.9Z"/>
<path class="b" color="#ff9d00" d="M287.3 425.6L287.4 426.8L276.1 416.9L276.0 415.7Z"/>
<path class="b" color="#ff8d00" d="M287.3 424.4L287.3 425.6L276.0 415.7L275.8 414.4Z"/>
<path class="b" color="#ff7d00" d="M287.2 423.3L287.3 424.4L275.8 414.4L275.6 413.1Z"/>
<path class="b" color="#ff6e00" d="M287.2 422.1L287.2 423.3L275.6 413.1L275.4 411.8Z"/>
<path class="b" color="#ff5e00" d="M287.1 420.9L287.2 422.1L275.4 411.8L275.2 410.5Z"/>
<path class="b" color="#ff4e00" d="M287.1 419.7L287.1 420.9L275.2 410.5L275.0 409.2Z"/>
<path class="b" color="#ff3f00" d="M287.0 418.6L287.1 419.7L275.0 409.2L274.8 407.8Z"/>
<path class="b" color="#ff2f00" d="M287.0 417.4L287.0 418.6L274.8 407.8L274.6 406.5Z"/>
<path class="b" color="#ff1f00" d="M286.9 416.2L287.0 417.4L274.6 406.5L274.3 405.2Z"/>
<path class="b" color="#ff0f00" d="M286.8 415.1L286.9 416.2L274.3 405.2L274.0 403.8Z"/>
<path class="b" color="#fe0000" d="M286.8 413.9L286.8 415.1L274.0 403.8L273.7 402.5Z"/>
<path class="b" color="#ee0000" d="M286.7 412.7L286.8 413.9L273.7 402.5L273.4 401.1Z"/>
<path class="b" color="#dd0000" d="M286.6 411.6L286.7 412.7L273.4 401.1L273.0 399.7Z"/>
<path class="b" color="#cd0000" d="M286.5 410.4L286.6 411.6L273.0 399.7L272.6 398.2Z"/>
<path class="b" color="#bd0000" d="M286.3 409.2L286.5 410.4L272.6 398.2L272.0 396.7Z"/>
<path class="b" color="#ac0000" d="M286.1 408.1L286.3 409.2L272.0 396.7L271.3 395.1Z"/>
<path class="b" color="#9b0000" d="M285.9 407.0L286.1 408.1L271.3 395.1L270.3 393.4Z"/>
<path class="b" color="#8a0000" d="M285.1 406.1L285.9 407.0L270.3 393.4L267.2 390.4Z"/>
<path color="#820000" d="M265.8 389.8L267.2 390.4L285.1 406.1L284.7 406.3Z"/>
<path color="#880000" d="M262.6 388.8L265.8 389.8L284.7 406.3L283.9 407.4Z"/>
<path color="#930000" d="M259.5 388.1L262.6 388.8L283.9 407.4L283.1 408.7Z"/>
<path color="#a00000" d="M256.4 387.2L259.5 388.1L283.1 408.7L282.2 409.9Z"/>
<path color="#ab0000" d="M253.3 386.3L256.4 387.2L282.2 409.9L281.4 411.0Z"/>
<path color="#b40000" d="M250.1 385.2L253.3 386.3L281.4 411.0L280.6 411.9Z"/>
<path color="#bc0000" d="M247.0 383.9L250.1 385.2L280.6 411.9L279.8 412.7Z"/>
<path color="#c20000" d="M243.9 382.6L247.0 383.9L279.8 412.7L279.0 413.4Z"/>
<path color="#c70000" d="M240.7 381.2L243.9 382.6L279.0 413.4L278.2 414.0Z"/>
<path color="#cb0000" d="M237.6 379.7L240.7 381.2L278.2 414.0L277.4 414.5Z"/>
<path color="#ce0000" d="M234.5 378.1L237.6 379.7L277.4 414.5L276.5 415.0Z"/>
<path color="#d00000" d="M231.4 376.5L234.5 378.1L276.5 415.0L275.7 415.4Z"/>
<path color="#d20000" d="M228.2 374.9L231.4 376.5L275.7 415.4L274.9 415.8Z"/>
<path color="#d30000" d="M225.1 373.1L228.2 374.9L274.9 415.8L274.1 416.1Z"/>
<path color="#d40000" d="M222.0 371.4L225.1 373.1L274.1 416.1L273.3 416.4ZM220.5 370.6L222.0 371.4L273.3 416.4L272.9 416.5Z"/>
<path color="#d30000" d="M217.4 368.8L220.5 370.6L272.9 416.5L272.1 416.7ZM214.3 367.0L217.4 368.8L272.1 416.7L271.3 416.9Z"/>
<path color="#d10000" d="M211.2 365.1L214.3 367.0L271.3 416.9L270.5 417.1Z"/>
<path color="#cf0000" d="M208.0 363.1L211.2 365.1L270.5 417.1L269.7 417.2Z"/>
<path color="#cd0000" d="M204.9 361.1L208.0 363.1L269.7 417.2L268.9 417.2Z"/>
<path color="#c90000" d="M201.8 359.1L204.9 361.1L268.9 417.2L268.0 417.2Z"/>
<path color="#c50000" d="M198.6 356.9L201.8 359.1L268.0 417.2L267.2 417.1Z"/>
<path color="#bf0000" d="M195.5 354.7L198.6 356.9L267.2 417.1L266.4 416.9Z"/>
<path color="#b90000" d="M192.4 352.4L195.5 354.7L266.4 416.9L265.6 416.5Z"/>
<path color="#b00000" d="M189.3 349.9L192.4 352.4L265.6 416.5L264.8 416.1Z"/>
<path color="#a60000" d="M186.8 347.8L187.0 348.0L189.3 349.9L264.8 416.1L264.0 415.5Z"/>
<path class="b" color="#9a0000" d="M263.2 414.8L264.0 415.5L186.8 347.8L186.0 347.1Z"/>
<path color="#8d0000" d="M185.2 346.4L186.0 347.1L263.2 414.8L262.3 414.1Z"/>
<path color="#840000" d="M184.4 346.2L185.2 346.4L262.3 414.1L261.5 413.8ZM183.8 346.7L184.4 346.2L261.5 413.8L261.0 414.3Z"/>
<path color="#900000" d="M183.4 348.0L183.8 346.7L261.0 414.3L260.6 415.7Z"/>
<path color="#a10000" d="M183.2 349.3L183.4 348.0L260.6 415.7L260.4 416.9Z"/>
<path color="#b20000" d="M183.1 350.6L183.2 349.3L260.4 416.9L260.2 418.2Z"/>
<path color="#c20000" d="M182.9 351.8L183.1 350.6L260.2 418.2L260.1 419.4Z"/>
<path color="#d30000" d="M182.8 353.0L182.9 351.8L260.1 419.4L260.0 420.7Z"/>
<path color="#e30000" d="M182.7 354.3L182.8 353.0L260.0 420.7L259.9 421.9Z"/>
<path color="#f30000" d="M182.6 355.5L182.7 354.3L259.9 421.9L259.8 423.1Z"/>
<path color="#ff0400" d="M182.6 356.7L182.6 355.5L259.8 423.1L259.7 424.3Z"/>
<path color="#ff1400" d="M182.5 357.9L182.6 356.7L259.7 424.3L259.7 425.6Z"/>
<path color="#ff2400" d="M182.4 359.1L182.5 357.9L259.7 425.6L259.6 426.8Z"/>
<path color="#ff3400" d="M182.4 360.3L182.4 359.1L259.6 426.8L259.5 428.0Z"/>
<path color="#ff4400" d="M182.3 361.5L182.4 360.3L259.5 428.0L259.5 429.2Z"/>
<path color="#ff5400" d="M182.3 362.8L182.3 361.5L259.5 429.2L259.4 430.4Z"/>
<path color="#ff6300" d="M182.2 364.0L182.3 362.8L259.4 430.4L259.4 431.6Z"/>
<path color="#ff7300" d="M182.2 365.2L182.2 364.0L259.4 431.6L259.3 432.8Z"/>
<path color="#ff8200" d="M182.1 366.4L182.2 365.2L259.3 432.8L259.3 434.0Z"/>
<path color="#ff9200" d="M182.1 367.6L182.1 366.4L259.3 434.0L259.2 435.2Z"/>
<path color="#ffa200" d="M182.0 368.8L182.1 367.6L259.2 435.2L259.2 436.4Z"/>
<path color="#ffb100" d="M182.0 370.0L182.0 368.8L259.2 436.4L259.2 437.6Z"/>
<path color="#ffc000" d="M182.0 371.2L182.0 370.0L259.2 437.6L259.1 438.8Z"/>
<path color="#ffd000" d="M181.9 372.4L182.0 371.2L259.1 438.8L259.1 440.0Z"/>
<path color="#ffdf00" d="M181.9 373.6L181.9 372.4L259.1 440.0L259.1 441.2Z"/>
<path color="#ffee00" d="M181.8 374.8L181.9 373.6L259.1 441.2L259.0 442.4Z"/>
<path color="#fffd00" d="M181.8 376.0L181.8 374.8L259.0 442.4L259.0 443.6Z"/>
<path color="#f2ff0d" d="M181.8 377.2L181.8 376.0L259.0 443.6L258.9 444.8Z"/>
<path color="#e3ff1c" d="M181.7 378.4L181.8 377.2L258.9 444.8L258.9 446.0Z"/>
<path color="#d4ff2b" d="M181.7 379.6L181.7 378.4L258.9 446.0L258.9 447.2Z"/>
<path color="#c5ff3a" d="M181.7 380.8L181.7 379.6L258.9 447.2L258.9 448.4Z"/>
<path color="#b6ff49" d="M181.7 382.0L181.7 380.8L258.9 448.4L258.8 449.6Z"/>
<path color="#a7ff58" d="M181.6 383.2L181.7 382.0L258.8 449.6L258.8 450.8Z"/>
<path color="#98ff67" d="M181.6 384.4L181.6 383.2L258.8 450.8L258.8 452.0Z"/>
<path color="#89ff76" d="M181.6 385.5L181.6 384.4L258.8 452.0L258.7 453.2Z"/>
<path color="#7bff84" d="M181.5 386.8L181.6 385.5L258.7 453.2L258.7 454.4Z"/>
<path color="#6cff93" d="M181.5 387.9L181.5 386.8L258.7 454.4L258.7 455.6Z"/>
<path color="#5dffa2" d="M181.5 389.1L181.5 387.9L258.7 455.6L258.6 456.8Z"/>
<path color="#4fffb0" d="M181.5 390.3L181.5 389.1L258.6 456.8L258.6 458.0Z"/>
<path color="#40ffbf" d="M181.4 391.5L181.5 390.3L258.6 458.0L258.6 459.2Z"/>
<path color="#32ffcd" d="M181.4 392.7L181.4 391.5L258.6 459.2L258.6 460.4Z"/>
<path color="#23ffdc" d="M181.4 393.9L181.4 392.7L258.6 460.4L258.5 461.6Z"/>
<path color="#15ffea" d="M181.3 395.1L181.4 393.9L258.5 461.6L258.5 462.7Z"/>
<path color="#06fff9" d="M181.3 396.3L181.3 395.1L258.5 462.7L258.5 463.9Z"/>
<path color="#00f7ff" d="M181.3 397.5L181.3 396.3L258.5 463.9L258.5 465.1Z"/>
<path color="#00e9ff" d="M181.3 398.7L181.3 397.5L258.5 465.1L258.4 466.3Z"/>
<path color="#00daff" d="M181.2 399.9L181.3 398.7L258.4 466.3L258.4 467.5Z"/>
<path color="#00ccff" d="M181.2 401.1L181.2 399.9L258.4 467.5L258.4 468.7Z"/>
<path color="#00beff" d="M181.2 402.2L181.2 401.1L258.4 468.7L258.4 469.9Z"/>
<path color="#00b0ff" d="M181.2 403.4L181.2 402.2L258.4 469.9L258.3 471.1Z"/>
<path color="#00a2ff" d="M181.1 404.6L181.2 403.4L258.3 471.1L258.3 472.3Z"/>
<path color="#0094ff" d="M181.1 405.8L181.1 404.6L258.3 472.3L258.3 473.5Z"/>
<path color="#0086ff" d="M181.1 407.0L181.1 405.8L258.3 473.5L258.2 474.7Z"/>
<path color="#0078ff" d="M181.0 408.2L181.1 407.0L258.2 474.7L258.2 475.9Z"/>
<path color="#006aff" d="M181.0 409.4L181.0 408.2L258.2 475.9L258.2 477.1Z"/>
<path color="#005bff" d="M181.0 410.6L181.0 409.4L258.2 477.1L258.2 478.3Z"/>
<path color="#004eff" d="M181.0 411.8L181.0 410.6L258.2 478.3L258.1 479.5Z"/>
<path color="#0040ff" d="M180.9 413.0L181.0 411.8L258.1 479.5L258.1 480.7Z"/>
<path color="#0032ff" d="M180.9 414.2L180.9 413.0L258.1 480.7L258.1 481.9Z"/>
<path color="#0024ff" d="M180.9 415.4L180.9 414.2L258.1 481.9L258.0 483.1Z"/>
<path color="#0016ff" d="M180.8 416.6L180.9 415.4L258.0 483.1L258.0 484.3Z"/>
<path color="#0008ff" d="M180.8 417.8L180.8 416.6L258.0 484.3L258.0 485.5Z"/>
<path color="#0000fa" d="M180.8 419.0L180.8 417.8L258.0 485.5L257.9 486.7Z"/>
<path color="#0000ec" d="M180.7 420.2L180.8 419.0L257.9 486.7L257.9 487.9Z"/>
<path color="#0000de" d="M180.7 421.4L180.7 420.2L257.9 487.9L257.8 489.1Z"/>
<path color="#0000d1" d="M180.6 422.6L180.7 421.4L257.8 489.1L257.8 490.3Z"/>
<path color="#0000c3" d="M180.6 423.8L180.6 422.6L257.8 490.3L257.7 491.5Z"/>
<path color="#0000b6" d="M180.5 425.1L180.6 423.8L257.7 491.5L257.7 492.7Z"/>
<path color="#0000a8" d="M180.3 426.3L180.5 425.1L257.7 492.7L257.5 494.0Z"/>
<path class="b" color="#0000a3" d="M257.4 493.7L257.5 494.0L180.3 426.3L180.2 426.0Z"/>
<path class="b" color="#0000ac" d="M257.3 492.5L257.4 493.7L180.2 426.0L180.1 424.9Z"/>
<path class="b" color="#0000b9" d="M257.2 491.3L257.3 492.5L180.1 424.9L180.0 423.7Z"/>
<path class="b" color="#0000c7" d="M257.2 490.2L257.2 491.3L180.0 423.7L180.0 422.5Z"/>
<path class="b" color="#0000d5" d="M257.1 489.0L257.2 490.2L180.0 422.5L179.9 421.3Z"/>
<path class="b" color="#0000e2" d="M257.1 487.8L257.1 489.0L179.9 421.3L179.9 420.1Z"/>
<path class="b" color="#0000f0" d="M257.0 486.6L257.1 487.8L179.9 420.1L179.9 419.0Z"/>
<path class="b" color="#0000fe" d="M257.0 485.4L257.0 486.6L179.9 419.0L179.8 417.8Z"/>
<path class="b" color="#000dff" d="M256.9 484.2L257.0 485.4L179.8 417.8L179.8 416.6Z"/>
<path class="b" color="#001aff" d="M256.9 483.1L256.9 484.2L179.8 416.6L179.7 415.4Z"/>
<path class="b" color="#0028ff" d="M256.9 481.9L256.9 483.1L179.7 415.4L179.7 414.3Z"/>
<path class="b" color="#0036ff" d="M256.8 480.7L256.9 481.9L179.7 414.3L179.7 413.1Z"/>
<path class="b" color="#0044ff" d="M256.8 479.6L256.8 480.7L179.7 413.1L179.6 411.9Z"/>
<path class="b" color="#0052ff" d="M256.8 478.4L256.8 479.6L179.6 411.9L179.6 410.7Z"/>
<path class="b" color="#005fff" d="M256.8 477.2L256.8 478.4L179.6 410.7L179.6 409.6Z"/>
<path class="b" color="#006dff" d="M256.7 476.0L256.8 477.2L179.6 409.6L179.6 408.4Z"/>
<path class="b" color="#007bff" d="M256.7 474.8L256.7 476.0L179.6 408.4L179.5 407.2Z"/>
<path class="b" color="#0089ff" d="M256.7 473.7L256.7 474.8L179.5 407.2L179.5 406.0Z"/>
<path class="b" color="#0097ff" d="M256.6 472.5L256.7 473.7L179.5 406.0L179.5 404.9Z"/>
<path class="b" color="#00a6ff" d="M256.6 471.3L256.6 472.5L179.5 404.9L179.4 403.7Z"/>
<path class="b" color="#00b4ff" d="M256.6 470.2L256.6 471.3L179.4 403.7L179.4 402.5Z"/>
<path class="b" color="#00c2ff" d="M256.6 469.0L256.6 470.2L179.4 402.5L179.4 401.3Z"/>
<path class="b" color="#00d0ff" d="M256.5 467.8L256.6 469.0L179.4 401.3L179.4 400.2Z"/>
<path class="b" color="#00deff" d="M256.5 466.6L256.5 467.8L179.4 400.2L179.3 399.0Z"/>
<path class="b" color="#00edff" d="M256.5 465.5L256.5 466.6L179.3 399.0L179.3 397.8Z"/>
<path class="b" color="#00fbff" d="M256.4 464.3L256.5 465.5L179.3 397.8L179.3 396.6Z"/>
<path class="b" color="#0afff5" d="M256.4 463.1L256.4 464.3L179.3 396.6L179.3 395.5Z"/>
<path class="b" color="#19ffe6" d="M256.4 461.9L256.4 463.1L179.3 395.5L179.2 394.3Z"/>
<path class="b" color="#27ffd8" d="M256.4 460.8L256.4 461.9L179.2 394.3L179.2 393.1Z"/>
<path class="b" color="#36ffc9" d="M256.3 459.6L256.4 460.8L179.2 393.1L179.2 391.9Z"/>
<path class="b" color="#44ffbb" d="M256.3 458.4L256.3 459.6L179.2 391.9L179.1 390.8Z"/>
<path class="b" color="#53ffac" d="M256.3 457.2L256.3 458.4L179.1 390.8L179.1 389.6Z"/>
<path class="b" color="#61ff9e" d="M256.2 456.0L256.3 457.2L179.1 389.6L179.1 388.4Z"/>
<path class="b" color="#70ff8f" d="M256.2 454.9L256.2 456.0L179.1 388.4L179.1 387.2Z"/>
<path class="b" color="#7fff80" d="M256.2 453.7L256.2 454.9L179.1 387.2L179.0 386.1Z"/>
<path class="b" color="#8dff72" d="M256.2 452.5L256.2 453.7L179.0 386.1L179.0 384.9Z"/>
<path class="b" color="#9cff63" d="M256.1 451.4L256.2 452.5L179.0 384.9L179.0 383.7Z"/>
<path class="b" color="#abff54" d="M256.1 450.2L256.1 451.4L179.0 383.7L178.9 382.5Z"/>
<path class="b" color="#baff45" d="M256.1 449.0L256.1 450.2L178.9 382.5L178.9 381.4Z"/>
<path class="b" color="#c9ff36" d="M256.0 447.8L256.1 449.0L178.9 381.4L178.9 380.2Z"/>
<path class="b" color="#d8ff27" d="M256.0 446.6L256.0 447.8L178.9 380.2L178.8 379.0Z"/>
<path class="b" color="#e7ff18" d="M256.0 445.5L256.0 446.6L178.8 379.0L178.8 377.8Z"/>
<path class="b" color="#f6ff09" d="M255.9 444.3L256.0 445.5L178.8 377.8L178.8 376.6Z"/>
<path class="b" color="#fff900" d="M255.9 443.1L255.9 444.3L178.8 376.6L178.7 375.5Z"/>
<path class="b" color="#ffea00" d="M255.9 441.9L255.9 443.1L178.7 375.5L178.7 374.3Z"/>
<path class="b" color="#ffda00" d="M255.8 440.7L255.9 441.9L178.7 374.3L178.7 373.1Z"/>
<path class="b" color="#ffcb00" d="M255.8 439.6L255.8 440.7L178.7 373.1L178.6 371.9Z"/>
<path class="b" color="#ffbc00" d="M255.7 438.4L255.8 439.6L178.6 371.9L178.6 370.7Z"/>
<path class="b" color="#ffac00" d="M255.7 437.2L255.7 438.4L178.6 370.7L178.5 369.5Z"/>
<path class="b" color="#ff9d00" d="M255.7 436.0L255.7 437.2L178.5 369.5L178.5 368.4Z"/>
<path class="b" color="#ff8d00" d="M255.6 434.8L255.7 436.0L178.5 368.4L178.4 367.2Z"/>
<path class="b" color="#ff7d00" d="M255.6 433.6L255.6 434.8L178.4 367.2L178.4 366.0Z"/>
<path class="b" color="#ff6e00" d="M255.5 432.5L255.6 433.6L178.4 366.0L178.4 364.8Z"/>
<path class="b" color="#ff5e00" d="M255.5 431.3L255.5 432.5L178.4 364.8L178.3 363.6Z"/>
<path class="b" color="#ff4e00" d="M255.4 430.1L255.5 431.3L178.3 363.6L178.2 362.5Z"/>
<path class="b" color="#ff3e00" d="M255.4 428.9L255.4 430.1L178.2 362.5L178.2 361.3Z"/>
<path class="b" color="#ff2f00" d="M255.3 427.8L255.4 428.9L178.2 361.3L178.1 360.1Z"/>
<path class="b" color="#ff1f00" d="M255.2 426.6L255.3 427.8L178.1 360.1L178.1 358.9Z"/>
<path class="b" color="#ff0f00" d="M255.2 425.4L255.2 426.6L178.1 358.9L178.0 357.8Z"/>
<path class="b" color="#fe0000" d="M255.1 424.3L255.2 425.4L178.0 357.8L177.9 356.6Z"/>
<path class="b" color="#ed0000" d="M255.0 423.1L255.1 424.3L177.9 356.6L177.8 355.4Z"/>
<path class="b" color="#dd0000" d="M254.9 421.9L255.0 423.1L177.8 355.4L177.7 354.3Z"/>
<path class="b" color="#cd0000" d="M254.8 420.8L254.9 421.9L177.7 354.3L177.6 353.1Z"/>
<path class="b" color="#bd0000" d="M254.6 419.6L254.8 420.8L177.6 353.1L177.5 352.0Z"/>
<path class="b" color="#ac0000" d="M254.5 418.5L254.6 419.6L177.5 352.0L177.3 350.8Z"/>
<path class="b" color="#9b0000" d="M254.2 417.4L254.5 418.5L177.3 350.8L177.0 349.7Z"/>
<path class="b" color="#8a0000" d="M253.4 416.5L254.2 417.4L177.0 349.7L176.2 348.8Z"/>
<path color="#820000" d="M175.8 349.1L176.2 348.8L253.4 416.5L253.0 416.7Z"/>
<path color="#880000" d="M175.0 350.2L175.8 349.1L253.0 416.7L252.2 417.8Z"/>
<path color="#930000" d="M174.2 351.4L175.0 350.2L252.2 417.8L251.4 419.1Z"/>
<path color="#a00000" d="M173.4 352.6L174.2 351.4L251.4 419.1L250.6 420.3Z"/>
<path color="#ab0000" d="M172.6 353.7L173.4 352.6L250.6 420.3L249.8 421.3Z"/>
<path color="#b40000" d="M171.8 354.6L172.6 353.7L249.8 421.3L248.9 422.3Z"/>
<path color="#bc0000" d="M171.0 355.4L171.8 354.6L248.9 422.3L248.1 423.1Z"/>
<path color="#c20000" d="M170.1 356.1L171.0 355.4L248.1 423.1L247.3 423.8Z"/>
<path color="#c70000" d="M169.3 356.7L170.1 356.1L247.3 423.8L246.5 424.4Z"/>
<path color="#cb0000" d="M168.5 357.3L169.3 356.7L246.5 424.4L245.7 424.9Z"/>
<path color="#ce0000" d="M167.7 357.7L168.5 357.3L245.7 424.9L244.9 425.4Z"/>
<path color="#d00000" d="M166.9 358.1L167.7 357.7L244.9 425.4L244.1 425.8Z"/>
<path color="#d20000" d="M166.1 358.5L166.9 358.1L244.1 425.8L243.2 426.2Z"/>
<path color="#d30000" d="M165.3 358.8L166.1 358.5L243.2 426.2L242.4 426.5Z"/>
<path color="#d40000" d="M164.4 359.1L165.3 358.8L242.4 426.5L241.6 426.8ZM164.1 359.2L164.4 359.1L241.6 426.8L241.2 426.9Z"/>
<path color="#d30000" d="M163.3 359.5L164.1 359.2L241.2 426.9L240.4 427.1ZM162.4 359.7L163.3 359.5L240.4 427.1L239.6 427.3Z"/>
<path color="#d10000" d="M161.6 359.8L162.4 359.7L239.6 427.3L238.8 427.4Z"/>
<path color="#cf0000" d="M160.8 359.9L161.6 359.8L238.8 427.4L238.0 427.5Z"/>
<path color="#cd0000" d="M160.0 359.9L160.8 359.9L238.0 427.5L237.2 427.6Z"/>
<path color="#c90000" d="M159.2 359.9L160.0 359.9L237.2 427.6L236.4 427.5Z"/>
<path color="#c50000" d="M158.4 359.8L159.2 359.9L236.4 427.5L235.5 427.4Z"/>
<path color="#bf0000" d="M157.6 359.6L158.4 359.8L235.5 427.4L234.7 427.2Z"/>
<path color="#b90000" d="M156.8 359.3L157.6 359.6L234.7 427.2L233.9 426.9Z"/>
<path color="#b00000" d="M155.9 358.8L156.8 359.3L233.9 426.9L233.1 426.5Z"/>
<path color="#a60000" d="M155.1 358.2L155.9 358.8L233.1 426.5L232.3 425.9Z"/>
<path class="b" color="#9a0000" d="M231.5 425.1L232.3 425.9L155.1 358.2L154.3 357.5Z"/>
<path color="#8d0000" d="M153.5 356.8L154.3 357.5L231.5 425.1L230.7 424.4Z"/>
<path color="#840000" d="M152.7 356.5L153.5 356.8L230.7 424.4L229.8 424.2ZM152.2 357.1L152.7 356.5L229.8 424.2L229.3 424.7Z"/>
<path color="#900000" d="M151.8 358.4L152.2 357.1L229.3 424.7L228.9 426.1Z"/>
<path color="#a10000" d="M151.5 359.7L151.8 358.4L228.9 426.1L228.7 427.3Z"/>
<path color="#b20000" d="M151.4 360.9L151.5 359.7L228.7 427.3L228.5 428.6Z"/>
<path color="#c20000" d="M151.2 362.2L151.4 360.9L228.5 428.6L228.4 429.8Z"/>
<path color="#d30000" d="M151.1 363.4L151.2 362.2L228.4 429.8L228.3 431.0Z"/>
<path color="#e30000" d="M151.0 364.6L151.1 363.4L228.3 431.0L228.2 432.3Z"/>
<path color="#f30000" d="M151.0 365.9L151.0 364.6L228.2 432.3L228.1 433.5Z"/>
<path color="#ff0400" d="M150.9 367.1L151.0 365.9L228.1 433.5L228.1 434.7Z"/>
<path color="#ff1400" d="M150.8 368.3L150.9 367.1L228.1 434.7L228.0 435.9Z"/>
<path color="#ff2400" d="M150.7 369.5L150.8 368.3L228.0 435.9L227.9 437.1Z"/>
<path color="#ff3400" d="M150.7 370.7L150.7 369.5L227.9 437.1L227.9 438.4Z"/>
<path color="#ff4400" d="M150.6 371.9L150.7 370.7L227.9 438.4L227.8 439.6Z"/>
<path color="#ff5300" d="M150.6 373.1L150.6 371.9L227.8 439.6L227.8 440.8Z"/>
<path color="#ff6300" d="M150.5 374.3L150.6 373.1L227.8 440.8L227.7 442.0Z"/>
<path color="#ff7300" d="M150.5 375.5L150.5 374.3L227.7 442.0L227.7 443.2Z"/>
<path color="#ff8200" d="M150.4 376.8L150.5 375.5L227.7 443.2L227.6 444.4Z"/>
<path color="#ff9200" d="M150.4 378.0L150.4 376.8L227.6 444.4L227.6 445.6Z"/>
<path color="#ffa200" d="M150.4 379.2L150.4 378.0L227.6 445.6L227.5 446.8Z"/>
<path color="#ffb100" d="M150.3 380.4L150.4 379.2L227.5 446.8L227.5 448.0Z"/>
<path color="#ffc000" d="M150.3 381.6L150.3 380.4L227.5 448.0L227.4 449.2Z"/>
<path color="#ffd000" d="M150.2 382.8L150.3 381.6L227.4 449.2L227.4 450.4Z"/>
<path color="#ffdf00" d="M150.2 384.0L150.2 382.8L227.4 450.4L227.4 451.6Z"/>
<path color="#ffee00" d="M150.2 385.2L150.2 384.0L227.4 451.6L227.3 452.8Z"/>
<path color="#fffd00" d="M150.1 386.4L150.2 385.2L227.3 452.8L227.3 454.0Z"/>
<path color="#f2ff0d" d="M150.1 387.6L150.1 386.4L227.3 454.0L227.3 455.2Z"/>
<path color="#e3ff1c" d="M150.1 388.8L150.1 387.6L227.3 455.2L227.2 456.4Z"/>
<path color="#d4ff2b" d="M150.0 390.0L150.1 388.8L227.2 456.4L227.2 457.6Z"/>
<path color="#c5ff3a" d="M150.0 391.1L150.0 390.0L227.2 457.6L227.2 458.8Z"/>
<path color="#b6ff49" d="M150.0 392.3L150.0 391.1L227.2 458.8L227.1 460.0Z"/>
<path color="#a7ff58" d="M149.9 393.5L150.0 392.3L227.1 460.0L227.1 461.2Z"/>
<path color="#98ff67" d="M149.9 394.7L149.9 393.5L227.1 461.2L227.1 462.4Z"/>
<path color="#89ff76" d="M149.9 395.9L149.9 394.7L227.1 462.4L227.1 463.6Z"/>
<path color="#7bff84" d="M149.9 397.1L149.9 395.9L227.1 463.6L227.0 464.8Z"/>
<path color="#6cff93" d="M149.8 398.3L149.9 397.1L227.0 464.8L227.0 466.0Z"/>
<path color="#5dffa2" d="M149.8 399.5L149.8 398.3L227.0 466.0L227.0 467.2Z"/>
<path color="#4fffb0" d="M149.8 400.7L149.8 399.5L227.0 467.2L226.9 468.3Z"/>
<path color="#40ffbf" d="M149.8 401.9L149.8 400.7L226.9 468.3L226.9 469.5Z"/>
<path color="#32ffcd" d="M149.7 403.1L149.8 401.9L226.9 469.5L226.9 470.7Z"/>
<path color="#23ffdc" d="M149.7 404.3L149.7 403.1L226.9 470.7L226.9 471.9Z"/>
<path color="#15ffea" d="M149.7 405.5L149.7 404.3L226.9 471.9L226.8 473.1Z"/>
<path color="#06fff9" d="M149.6 406.7L149.7 405.5L226.8 473.1L226.8 474.3Z"/>
<path color="#00f7ff" d="M149.6 407.9L149.6 406.7L226.8 474.3L226.8 475.5Z"/>
<path color="#00e9ff" d="M149.6 409.0L149.6 407.9L226.8 475.5L226.8 476.7Z"/>
<path color="#00dbff" d="M149.6 410.2L149.6 409.0L226.8 476.7L226.7 477.9Z"/>
<path color="#00ccff" d="M149.5 411.4L149.6 410.2L226.7 477.9L226.7 479.1Z"/>
<path color="#00beff" d="M149.5 412.6L149.5 411.4L226.7 479.1L226.7 480.3Z"/>
<path color="#00b0ff" d="M149.5 413.8L149.5 412.6L226.7 480.3L226.7 481.4Z"/>
<path color="#00a2ff" d="M149.5 415.0L149.5 413.8L226.7 481.4L226.6 482.6Z"/>
<path color="#0094ff" d="M149.4 416.2L149.5 415.0L226.6 482.6L226.6 483.8Z"/>
<path color="#0086ff" d="M149.4 417.4L149.4 416.2L226.6 483.8L226.6 485.0Z"/>
<path color="#0078ff" d="M149.4 418.6L149.4 417.4L226.6 485.0L226.5 486.2Z"/>
<path color="#006aff" d="M149.3 419.8L149.4 418.6L226.5 486.2L226.5 487.4Z"/>
<path color="#005cff" d="M149.3 421.0L149.3 419.8L226.5 487.4L226.5 488.7Z"/>
<path color="#004eff" d="M149.3 422.2L149.3 421.0L226.5 488.7L226.5 489.8Z"/>
<path color="#0040ff" d="M149.3 423.4L149.3 422.2L226.5 489.8L226.4 491.0Z"/>
<path color="#0032ff" d="M149.2 424.6L149.3 423.4L226.4 491.0L226.4 492.2Z"/>
<path color="#0024ff" d="M149.2 425.8L149.2 424.6L226.4 492.2L226.4 493.5Z"/>
<path color="#0016ff" d="M149.2 427.0L149.2 425.8L226.4 493.5L226.3 494.6Z"/>
<path color="#0008ff" d="M149.1 428.2L149.2 427.0L226.3 494.6L226.3 495.8Z"/>
<path color="#0000fa" d="M149.1 429.4L149.1 428.2L226.3 495.8L226.3 497.0Z"/>
<path color="#0000ec" d="M149.0 430.6L149.1 429.4L226.3 497.0L226.2 498.3Z"/>
<path color="#0000de" d="M149.0 431.8L149.0 430.6L226.2 498.3L226.2 499.4Z"/>
<path color="#0000d1" d="M148.9 433.0L149.0 431.8L226.2 499.4L226.1 500.7Z"/>
<path color="#0000c3" d="M148.9 434.2L148.9 433.0L226.1 500.7L226.1 501.9Z"/>
<path color="#0000b6" d="M148.8 435.4L148.9 434.2L226.1 501.9L226.0 503.1Z"/>
<path color="#0000a8" d="M148.6 436.7L148.8 435.4L226.0 503.1L225.8 504.3Z"/>
<path class="b" color="#0000a3" d="M225.7 504.0L225.8 504.3L148.6 436.7L148.5 436.4Z"/>
<path class="b" color="#0000ac" d="M225.6 502.9L225.7 504.0L148.5 436.4L148.4 435.2Z"/>
<path class="b" color="#0000b9" d="M225.5 501.7L225.6 502.9L148.4 435.2L148.4 434.1Z"/>
<path class="b" color="#0000c7" d="M225.5 500.5L225.5 501.7L148.4 434.1L148.3 432.9Z"/>
<path class="b" color="#0000d5" d="M225.4 499.4L225.5 500.5L148.3 432.9L148.3 431.7Z"/>
<path class="b" color="#0000e2" d="M225.4 498.2L225.4 499.4L148.3 431.7L148.2 430.5Z"/>
<path class="b" color="#0000f0" d="M225.3 497.0L225.4 498.2L148.2 430.5L148.2 429.3Z"/>
<path class="b" color="#0000fe" d="M225.3 495.8L225.3 497.0L148.2 429.3L148.1 428.2Z"/>
<path class="b" color="#000dff" d="M225.3 494.6L225.3 495.8L148.1 428.2L148.1 427.0Z"/>
<path class="b" color="#001aff" d="M225.2 493.5L225.3 494.6L148.1 427.0L148.1 425.8Z"/>
<path class="b" color="#0028ff" d="M225.2 492.3L225.2 493.5L148.1 425.8L148.0 424.6Z"/>
<path class="b" color="#0036ff" d="M225.2 491.1L225.2 492.3L148.0 424.6L148.0 423.5Z"/>
<path class="b" color="#0044ff" d="M225.1 489.9L225.2 491.1L148.0 423.5L148.0 422.3Z"/>
<path class="b" color="#0051ff" d="M225.1 488.8L225.1 489.9L148.0 422.3L147.9 421.1Z"/>
<path class="b" color="#005fff" d="M225.1 487.6L225.1 488.8L147.9 421.1L147.9 420.0Z"/>
<path class="b" color="#006dff" d="M225.1 486.4L225.1 487.6L147.9 420.0L147.9 418.8Z"/>
<path class="b" color="#007bff" d="M225.0 485.2L225.1 486.4L147.9 418.8L147.9 417.6Z"/>
<path class="b" color="#0089ff" d="M225.0 484.1L225.0 485.2L147.9 417.6L147.8 416.4Z"/>
<path class="b" color="#0097ff" d="M225.0 482.9L225.0 484.1L147.8 416.4L147.8 415.2Z"/>
<path class="b" color="#00a6ff" d="M224.9 481.7L225.0 482.9L147.8 415.2L147.8 414.1Z"/>
<path class="b" color="#00b4ff" d="M224.9 480.5L224.9 481.7L147.8 414.1L147.7 412.9Z"/>
<path class="b" color="#00c2ff" d="M224.9 479.4L224.9 480.5L147.7 412.9L147.7 411.7Z"/>
<path class="b" color="#00d0ff" d="M224.9 478.2L224.9 479.4L147.7 411.7L147.7 410.6Z"/>
<path class="b" color="#00deff" d="M224.8 477.0L224.9 478.2L147.7 410.6L147.7 409.4Z"/>
<path class="b" color="#00ecff" d="M224.8 475.8L224.8 477.0L147.7 409.4L147.6 408.2Z"/>
<path class="b" color="#00fbff" d="M224.8 474.7L224.8 475.8L147.6 408.2L147.6 407.0Z"/>
<path class="b" color="#0afff5" d="M224.7 473.5L224.8 474.7L147.6 407.0L147.6 405.9Z"/>
<path class="b" color="#18ffe7" d="M224.7 472.3L224.7 473.5L147.6 405.9L147.5 404.7Z"/>
<path class="b" color="#27ffd8" d="M224.7 471.1L224.7 472.3L147.5 404.7L147.5 403.5Z"/>
<path class="b" color="#36ffc9" d="M224.7 470.0L224.7 471.1L147.5 403.5L147.5 402.3Z"/>
<path class="b" color="#44ffbb" d="M224.6 468.8L224.7 470.0L147.5 402.3L147.5 401.1Z"/>
<path class="b" color="#53ffac" d="M224.6 467.6L224.6 468.8L147.5 401.1L147.4 400.0Z"/>
<path class="b" color="#61ff9e" d="M224.6 466.4L224.6 467.6L147.4 400.0L147.4 398.8Z"/>
<path class="b" color="#70ff8f" d="M224.5 465.3L224.6 466.4L147.4 398.8L147.4 397.6Z"/>
<path class="b" color="#7fff80" d="M224.5 464.1L224.5 465.3L147.4 397.6L147.3 396.4Z"/>
<path class="b" color="#8dff72" d="M224.5 462.9L224.5 464.1L147.3 396.4L147.3 395.3Z"/>
<path class="b" color="#9cff63" d="M224.5 461.7L224.5 462.9L147.3 395.3L147.3 394.1Z"/>
<path class="b" color="#abff54" d="M224.4 460.6L224.5 461.7L147.3 394.1L147.3 392.9Z"/>
<path class="b" color="#baff45" d="M224.4 459.4L224.4 460.6L147.3 392.9L147.2 391.7Z"/>
<path class="b" color="#c9ff36" d="M224.4 458.2L224.4 459.4L147.2 391.7L147.2 390.6Z"/>
<path class="b" color="#d8ff27" d="M224.3 457.0L224.4 458.2L147.2 390.6L147.2 389.4Z"/>
<path class="b" color="#e7ff18" d="M224.3 455.8L224.3 457.0L147.2 389.4L147.1 388.2Z"/>
<path class="b" color="#f6ff09" d="M224.3 454.7L224.3 455.8L147.1 388.2L147.1 387.0Z"/>
<path class="b" color="#fff900" d="M224.2 453.5L224.3 454.7L147.1 387.0L147.1 385.8Z"/>
<path class="b" color="#ffea00" d="M224.2 452.3L224.2 453.5L147.1 385.8L147.0 384.7Z"/>
<path class="b" color="#ffda00" d="M224.2 451.1L224.2 452.3L147.0 384.7L147.0 383.5Z"/>
<path class="b" color="#ffcb00" d="M224.1 449.9L224.2 451.1L147.0 383.5L146.9 382.3Z"/>
<path class="b" color="#ffbc00" d="M224.1 448.8L224.1 449.9L146.9 382.3L146.9 381.1Z"/>
<path class="b" color="#ffac00" d="M224.0 447.6L224.1 448.8L146.9 381.1L146.9 379.9Z"/>
<path class="b" color="#ff9d00" d="M224.0 446.4L224.0 447.6L146.9 379.9L146.8 378.8Z"/>
<path class="b" color="#ff8d00" d="M223.9 445.2L224.0 446.4L146.8 378.8L146.8 377.6Z"/>
<path class="b" color="#ff7d00" d="M223.9 444.0L223.9 445.2L146.8 377.6L146.7 376.4Z"/>
<path class="b" color="#ff6e00" d="M223.8 442.8L223.9 444.0L146.7 376.4L146.7 375.2Z"/>
<path class="b" color="#ff5e00" d="M223.8 441.7L223.8 442.8L146.7 375.2L146.6 374.0Z"/>
<path class="b" color="#ff4e00" d="M223.7 440.5L223.8 441.7L146.6 374.0L146.6 372.9Z"/>
<path class="b" color="#ff3e00" d="M223.7 439.3L223.7 440.5L146.6 372.9L146.5 371.7Z"/>
<path class="b" color="#ff2f00" d="M223.6 438.1L223.7 439.3L146.5 371.7L146.5 370.5Z"/>
<path class="b" color="#ff1f00" d="M223.6 437.0L223.6 438.1L146.5 370.5L146.4 369.3Z"/>
<path class="b" color="#ff0f00" d="M223.5 435.8L223.6 437.0L146.4 369.3L146.3 368.2Z"/>
<path class="b" color="#fe0000" d="M223.4 434.6L223.5 435.8L146.3 368.2L146.2 367.0Z"/>
<path class="b" color="#ee0000" d="M223.3 433.5L223.4 434.6L146.2 367.0L146.1 365.8Z"/>
<path class="b" color="#dd0000" d="M223.2 432.3L223.3 433.5L146.1 365.8L146.0 364.7Z"/>
<path class="b" color="#cd0000" d="M223.1 431.2L223.2 432.3L146.0 364.7L145.9 363.5Z"/>
<path class="b" color="#bd0000" d="M223.0 430.0L223.1 431.2L145.9 363.5L145.8 362.4Z"/>
<path class="b" color="#ac0000" d="M222.8 428.9L223.0 430.0L145.8 362.4L145.6 361.2Z"/>
<path class="b" color="#9b0000" d="M222.5 427.8L222.8 428.9L145.6 361.2L145.4 360.1Z"/>
<path class="b" color="#8a0000" d="M221.7 426.8L222.5 427.8L145.4 360.1L144.5 359.2Z"/>
<path color="#820000" d="M144.2 359.5L144.5 359.2L221.7 426.8L221.3 427.1Z"/>
<path color="#880000" d="M143.4 360.5L144.2 359.5L221.3 427.1L220.5 428.2Z"/>
<path color="#930000" d="M142.5 361.8L143.4 360.5L220.5 428.2L219.7 429.5Z"/>
<path color="#a00000" d="M141.7 363.0L142.5 361.8L219.7 429.5L218.9 430.7Z"/>
<path color="#ab0000" d="M140.9 364.1L141.7 363.0L218.9 430.7L218.1 431.7Z"/>
<path color="#b40000" d="M140.1 365.0L140.9 364.1L218.1 431.7L217.3 432.7Z"/>
<path color="#bc0000" d="M139.3 365.8L140.1 365.0L217.3 432.7L216.5 433.4Z"/>
<path color="#c20000" d="M138.5 366.5L139.3 365.8L216.5 433.4L215.6 434.1Z"/>
<path color="#c70000" d="M137.7 367.1L138.5 366.5L215.6 434.1L214.8 434.7Z"/>
<path color="#cb0000" d="M136.8 367.6L137.7 367.1L214.8 434.7L214.0 435.3Z"/>
<path color="#ce0000" d="M136.0 368.1L136.8 367.6L214.0 435.3L213.2 435.7Z"/>
<path color="#d00000" d="M135.2 368.5L136.0 368.1L213.2 435.7L212.4 436.2Z"/>
<path color="#d20000" d="M134.4 368.9L135.2 368.5L212.4 436.2L211.6 436.5Z"/>
<path color="#d30000" d="M133.6 369.2L134.4 368.9L211.6 436.5L210.8 436.9Z"/>
<path color="#d40000" d="M132.8 369.5L133.6 369.2L210.8 436.9L209.9 437.1ZM132.4 369.6L132.8 369.5L209.9 437.1L209.6 437.3Z"/>
<path color="#d30000" d="M131.6 369.9L132.4 369.6L209.6 437.3L208.8 437.5ZM130.8 370.0L131.6 369.9L208.8 437.5L207.9 437.7Z"/>
<path color="#d10000" d="M130.0 370.2L130.8 370.0L207.9 437.7L207.1 437.8Z"/>
<path color="#cf0000" d="M129.1 370.3L130.0 370.2L207.1 437.8L206.3 437.9Z"/>
<path color="#cd0000" d="M128.3 370.3L129.1 370.3L206.3 437.9L205.5 438.0Z"/>
<path color="#c90000" d="M127.5 370.3L128.3 370.3L205.5 438.0L204.7 437.9Z"/>
<path color="#c50000" d="M126.7 370.2L127.5 370.3L204.7 437.9L203.9 437.8Z"/>
<path color="#bf0000" d="M125.9 370.0L126.7 370.2L203.9 437.8L203.1 437.6Z"/>
<path color="#b90000" d="M125.1 369.7L125.9 370.0L203.1 437.6L202.2 437.3Z"/>
<path color="#b00000" d="M124.3 369.2L125.1 369.7L202.2 437.3L201.4 436.8Z"/>
<path color="#a60000" d="M123.4 368.6L124.3 369.2L201.4 436.8L200.6 436.2Z"/>
<path class="b" color="#9a0000" d="M199.8 435.5L200.6 436.2L123.4 368.6L122.6 367.9Z"/>
<path color="#8d0000" d="M121.8 367.2L122.6 367.9L199.8 435.5L199.0 434.8Z"/>
<path color="#840000" d="M121.0 366.9L121.8 367.2L199.0 434.8L198.2 434.5ZM120.5 367.4L121.0 366.9L198.2 434.5L197.7 435.1Z"/>
<path color="#900000" d="M120.1 368.8L120.5 367.4L197.7 435.1L197.3 436.4Z"/>
<path color="#a10000" d="M119.9 370.0L120.1 368.8L197.3 436.4L197.0 437.7Z"/>
<path color="#b10000" d="M119.7 371.3L119.9 370.0L197.0 437.7L196.9 438.9Z"/>
<path color="#c20000" d="M119.6 372.5L119.7 371.3L196.9 438.9L196.7 440.2Z"/>
<path color="#d20000" d="M119.5 373.7L119.6 372.5L196.7 440.2L196.6 441.4Z"/>
<path color="#e20000" d="M119.4 375.0L119.5 373.7L196.6 441.4L196.5 442.6Z"/>
<path color="#f30000" d="M119.3 376.2L119.4 375.0L196.5 442.6L196.5 443.8Z"/>
<path color="#ff0400" d="M119.2 377.4L119.3 376.2L196.5 443.8L196.4 445.1Z"/>
<path color="#ff1400" d="M119.1 378.6L119.2 377.4L196.4 445.1L196.3 446.3Z"/>
<path color="#ff2400" d="M119.1 379.9L119.1 378.6L196.3 446.3L196.2 447.5Z"/>
<path color="#ff3400" d="M119.0 381.1L119.1 379.9L196.2 447.5L196.2 448.7Z"/>
<path color="#ff4400" d="M119.0 382.3L119.0 381.1L196.2 448.7L196.1 449.9Z"/>
<path color="#ff5300" d="M118.9 383.5L119.0 382.3L196.1 449.9L196.1 451.1Z"/>
<path color="#ff6300" d="M118.9 384.7L118.9 383.5L196.1 451.1L196.0 452.3Z"/>
<path color="#ff7300" d="M118.8 385.9L118.9 384.7L196.0 452.3L196.0 453.6Z"/>
<path color="#ff8200" d="M118.8 387.1L118.8 385.9L196.0 453.6L195.9 454.8Z"/>
<path color="#ff9200" d="M118.7 388.3L118.8 387.1L195.9 454.8L195.9 456.0Z"/>
<path color="#ffa200" d="M118.7 389.5L118.7 388.3L195.9 456.0L195.9 457.2Z"/>
<path color="#ffb100" d="M118.6 390.7L118.7 389.5L195.9 457.2L195.8 458.4Z"/>
<path color="#ffc000" d="M118.6 391.9L118.6 390.7L195.8 458.4L195.8 459.6Z"/>
<path color="#ffd000" d="M118.6 393.1L118.6 391.9L195.8 459.6L195.7 460.8Z"/>
<path color="#ffdf00" d="M118.5 394.3L118.6 393.1L195.7 460.8L195.7 462.0Z"/>
<path color="#ffee00" d="M118.5 395.5L118.5 394.3L195.7 462.0L195.7 463.2Z"/>
<path color="#fffd00" d="M118.5 396.7L118.5 395.5L195.7 463.2L195.6 464.4Z"/>
<path color="#f2ff0d" d="M118.4 397.9L118.5 396.7L195.6 464.4L195.6 465.6Z"/>
<path color="#e3ff1c" d="M118.4 399.1L118.4 397.9L195.6 465.6L195.6 466.8Z"/>
<path color="#d4ff2b" d="M118.4 400.3L118.4 399.1L195.6 466.8L195.5 468.0Z"/>
<path color="#c5ff3a" d="M118.3 401.5L118.4 400.3L195.5 468.0L195.5 469.2Z"/>
<path color="#b6ff49" d="M118.3 402.7L118.3 401.5L195.5 469.2L195.5 470.3Z"/>
<path color="#a7ff58" d="M118.3 403.9L118.3 402.7L195.5 470.3L195.4 471.5Z"/>
<path color="#98ff67" d="M118.2 405.1L118.3 403.9L195.4 471.5L195.4 472.7Z"/>
<path color="#89ff76" d="M118.2 406.3L118.2 405.1L195.4 472.7L195.4 473.9Z"/>
<path color="#7bff84" d="M118.2 407.5L118.2 406.3L195.4 473.9L195.4 475.1Z"/>
<path color="#6cff93" d="M118.2 408.7L118.2 407.5L195.4 475.1L195.3 476.3Z"/>
<path color="#5dffa2" d="M118.1 409.9L118.2 408.7L195.3 476.3L195.3 477.5Z"/>
<path color="#4fffb0" d="M118.1 411.1L118.1 409.9L195.3 477.5L195.3 478.7Z"/>
<path color="#40ffbf" d="M118.1 412.3L118.1 411.1L195.3 478.7L195.2 479.9Z"/>
<path color="#32ffcd" d="M118.0 413.5L118.1 412.3L195.2 479.9L195.2 481.1Z"/>
<path color="#23ffdc" d="M118.0 414.7L118.0 413.5L195.2 481.1L195.2 482.3Z"/>
<path color="#15ffea" d="M118.0 415.8L118.0 414.7L195.2 482.3L195.2 483.5Z"/>
<path color="#07fff8" d="M118.0 417.0L118.0 415.8L195.2 483.5L195.1 484.7Z"/>
<path color="#00f7ff" d="M117.9 418.2L118.0 417.0L195.1 484.7L195.1 485.9Z"/>
<path color="#00e9ff" d="M117.9 419.4L117.9 418.2L195.1 485.9L195.1 487.1Z"/>
<path color="#00dbff" d="M117.9 420.6L117.9 419.4L195.1 487.1L195.1 488.3Z"/>
<path color="#00ccff" d="M117.9 421.8L117.9 420.6L195.1 488.3L195.0 489.4Z"/>
<path color="#00beff" d="M117.8 423.0L117.9 421.8L195.0 489.4L195.0 490.6Z"/>
<path color="#00b0ff" d="M117.8 424.2L117.8 423.0L195.0 490.6L195.0 491.8Z"/>
<path color="#00a2ff" d="M117.8 425.4L117.8 424.2L195.0 491.8L195.0 493.0Z"/>
<path color="#0094ff" d="M117.8 426.6L117.8 425.4L195.0 493.0L194.9 494.2Z"/>
<path color="#0086ff" d="M117.7 427.8L117.8 426.6L194.9 494.2L194.9 495.4Z"/>
<path color="#0078ff" d="M117.7 429.0L117.7 427.8L194.9 495.4L194.9 496.6Z"/>
<path color="#006aff" d="M117.7 430.2L117.7 429.0L194.9 496.6L194.8 497.8Z"/>
<path color="#005cff" d="M117.6 431.4L117.7 430.2L194.8 497.8L194.8 499.0Z"/>
<path color="#004eff" d="M117.6 432.6L117.6 431.4L194.8 499.0L194.8 500.2Z"/>
<path color="#0040ff" d="M117.6 433.8L117.6 432.6L194.8 500.2L194.7 501.4Z"/>
<path color="#0032ff" d="M117.5 435.0L117.6 433.8L194.7 501.4L194.7 502.6Z"/>
<path color="#0024ff" d="M117.5 436.2L117.5 435.0L194.7 502.6L194.7 503.8Z"/>
<path color="#0016ff" d="M117.5 437.4L117.5 436.2L194.7 503.8L194.7 505.0Z"/>
<path color="#0008ff" d="M117.4 438.6L117.5 437.4L194.7 505.0L194.6 506.2Z"/>
<path color="#0000fa" d="M117.4 439.8L117.4 438.6L194.6 506.2L194.6 507.4Z"/>
<path color="#0000ec" d="M117.4 441.0L117.4 439.8L194.6 507.4L194.5 508.6Z"/>
<path color="#0000de" d="M117.3 442.2L117.4 441.0L194.5 508.6L194.5 509.8Z"/>
<path color="#0000d1" d="M117.3 443.4L117.3 442.2L194.5 509.8L194.4 511.0Z"/>
<path color="#0000c3" d="M117.2 444.6L117.3 443.4L194.4 511.0L194.4 512.2Z"/>
<path color="#0000b6" d="M117.1 445.8L117.2 444.6L194.4 512.2L194.3 513.5Z"/>
<path color="#0000a8" d="M117.0 447.1L117.1 445.8L194.3 513.5L194.1 514.7Z"/>
<path class="b" color="#0000a3" d="M194.0 514.4L194.1 514.7L117.0 447.1L116.9 446.8Z"/>
<path class="b" color="#0000ab" d="M193.9 513.3L194.0 514.4L116.9 446.8L116.8 445.6Z"/>
<path class="b" color="#0000b9" d="M193.9 512.1L193.9 513.3L116.8 445.6L116.7 444.5Z"/>
<path class="b" color="#0000c7" d="M193.8 510.9L193.9 512.1L116.7 444.5L116.6 443.3Z"/>
<path class="b" color="#0000d4" d="M193.8 509.8L193.8 510.9L116.6 443.3L116.6 442.1Z"/>
<path class="b" color="#0000e2" d="M193.7 508.6L193.8 509.8L116.6 442.1L116.5 440.9Z"/>
<path class="b" color="#0000f0" d="M193.7 507.4L193.7 508.6L116.5 440.9L116.5 439.7Z"/>
<path class="b" color="#0000fd" d="M193.6 506.2L193.7 507.4L116.5 439.7L116.5 438.6Z"/>
<path class="b" color="#000cff" d="M193.6 505.0L193.6 506.2L116.5 438.6L116.4 437.4Z"/>
<path class="b" color="#001aff" d="M193.6 503.9L193.6 505.0L116.4 437.4L116.4 436.2Z"/>
<path class="b" color="#0028ff" d="M193.5 502.7L193.6 503.9L116.4 436.2L116.4 435.0Z"/>
<path class="b" color="#0036ff" d="M193.5 501.5L193.5 502.7L116.4 435.0L116.3 433.9Z"/>
<path class="b" color="#0044ff" d="M193.5 500.3L193.5 501.5L116.3 433.9L116.3 432.7Z"/>
<path class="b" color="#0051ff" d="M193.4 499.2L193.5 500.3L116.3 432.7L116.3 431.5Z"/>
<path class="b" color="#005fff" d="M193.4 498.0L193.4 499.2L116.3 431.5L116.2 430.3Z"/>
<path class="b" color="#006dff" d="M193.4 496.8L193.4 498.0L116.2 430.3L116.2 429.2Z"/>
<path class="b" color="#007bff" d="M193.4 495.6L193.4 496.8L116.2 429.2L116.2 428.0Z"/>
<path class="b" color="#0089ff" d="M193.3 494.5L193.4 495.6L116.2 428.0L116.2 426.8Z"/>
<path class="b" color="#0097ff" d="M193.3 493.3L193.3 494.5L116.2 426.8L116.1 425.6Z"/>
<path class="b" color="#00a5ff" d="M193.3 492.1L193.3 493.3L116.1 425.6L116.1 424.4Z"/>
<path class="b" color="#00b4ff" d="M193.2 490.9L193.3 492.1L116.1 424.4L116.1 423.3Z"/>
<path class="b" color="#00c2ff" d="M193.2 489.8L193.2 490.9L116.1 423.3L116.0 422.1Z"/>
<path class="b" color="#00d0ff" d="M193.2 488.6L193.2 489.8L116.0 422.1L116.0 420.9Z"/>
<path class="b" color="#00deff" d="M193.2 487.4L193.2 488.6L116.0 420.9L116.0 419.8Z"/>
<path class="b" color="#00ecff" d="M193.1 486.2L193.2 487.4L116.0 419.8L116.0 418.6Z"/>
<path class="b" color="#00fbff" d="M193.1 485.1L193.1 486.2L116.0 418.6L115.9 417.4Z"/>
<path class="b" color="#0afff5" d="M193.1 483.9L193.1 485.1L115.9 417.4L115.9 416.2Z"/>
<path class="b" color="#18ffe7" d="M193.0 482.7L193.1 483.9L115.9 416.2L115.9 415.1Z"/>
<path class="b" color="#27ffd8" d="M193.0 481.5L193.0 482.7L115.9 415.1L115.8 413.9Z"/>
<path class="b" color="#36ffc9" d="M193.0 480.3L193.0 481.5L115.8 413.9L115.8 412.7Z"/>
<path class="b" color="#44ffbb" d="M193.0 479.2L193.0 480.3L115.8 412.7L115.8 411.5Z"/>
<path class="b" color="#53ffac" d="M192.9 478.0L193.0 479.2L115.8 411.5L115.8 410.4Z"/>
<path class="b" color="#61ff9e" d="M192.9 476.8L192.9 478.0L115.8 410.4L115.7 409.2Z"/>
<path class="b" color="#70ff8f" d="M192.9 475.7L192.9 476.8L115.7 409.2L115.7 408.0Z"/>
<path class="b" color="#7eff81" d="M192.8 474.5L192.9 475.7L115.7 408.0L115.7 406.8Z"/>
<path class="b" color="#8dff72" d="M192.8 473.3L192.8 474.5L115.7 406.8L115.6 405.7Z"/>
<path class="b" color="#9cff63" d="M192.8 472.1L192.8 473.3L115.6 405.7L115.6 404.5Z"/>
<path class="b" color="#abff54" d="M192.8 471.0L192.8 472.1L115.6 404.5L115.6 403.3Z"/>
<path class="b" color="#baff45" d="M192.7 469.8L192.8 471.0L115.6 403.3L115.5 402.1Z"/>
<path class="b" color="#c9ff36" d="M192.7 468.6L192.7 469.8L115.5 402.1L115.5 400.9Z"/>
<path class="b" color="#d8ff27" d="M192.7 467.4L192.7 468.6L115.5 400.9L115.5 399.8Z"/>
<path class="b" color="#e7ff18" d="M192.6 466.2L192.7 467.4L115.5 399.8L115.5 398.6Z"/>
<path class="b" color="#f6ff09" d="M192.6 465.0L192.6 466.2L115.5 398.6L115.4 397.4Z"/>
<path class="b" color="#fff900" d="M192.6 463.9L192.6 465.0L115.4 397.4L115.4 396.2Z"/>
<path class="b" color="#ffea00" d="M192.5 462.7L192.6 463.9L115.4 396.2L115.3 395.1Z"/>
<path class="b" color="#ffda00" d="M192.5 461.5L192.5 462.7L115.3 395.1L115.3 393.9Z"/>
<path class="b" color="#ffcb00" d="M192.4 460.3L192.5 461.5L115.3 393.9L115.3 392.7Z"/>
<path class="b" color="#ffbc00" d="M192.4 459.1L192.4 460.3L115.3 392.7L115.2 391.5Z"/>
<path class="b" color="#ffac00" d="M192.4 458.0L192.4 459.1L115.2 391.5L115.2 390.3Z"/>
<path class="b" color="#ff9d00" d="M192.3 456.8L192.4 458.0L115.2 390.3L115.1 389.1Z"/>
<path class="b" color="#ff8d00" d="M192.3 455.6L192.3 456.8L115.1 389.1L115.1 388.0Z"/>
<path class="b" color="#ff7d00" d="M192.2 454.4L192.3 455.6L115.1 388.0L115.1 386.8Z"/>
<path class="b" color="#ff6e00" d="M192.2 453.2L192.2 454.4L115.1 386.8L115.0 385.6Z"/>
<path class="b" color="#ff5e00" d="M192.1 452.0L192.2 453.2L115.0 385.6L115.0 384.4Z"/>
<path class="b" color="#ff4e00" d="M192.1 450.9L192.1 452.0L115.0 384.4L114.9 383.2Z"/>
<path class="b" color="#ff3e00" d="M192.0 449.7L192.1 450.9L114.9 383.2L114.8 382.1Z"/>
<path class="b" color="#ff2f00" d="M192.0 448.5L192.0 449.7L114.8 382.1L114.8 380.9Z"/>
<path class="b" color="#ff1f00" d="M191.9 447.4L192.0 448.5L114.8 380.9L114.7 379.7Z"/>
<path class="b" color="#ff0f00" d="M191.8 446.2L191.9 447.4L114.7 379.7L114.6 378.5Z"/>
<path class="b" color="#fe0000" d="M191.7 445.0L191.8 446.2L114.6 378.5L114.6 377.4Z"/>
<path class="b" color="#ee0000" d="M191.6 443.8L191.7 445.0L114.6 377.4L114.5 376.2Z"/>
<path class="b" color="#dd0000" d="M191.5 442.7L191.6 443.8L114.5 376.2L114.4 375.1Z"/>
<path class="b" color="#cd0000" d="M191.4 441.5L191.5 442.7L114.4 375.1L114.3 373.9Z"/>
<path class="b" color="#bd0000" d="M191.3 440.4L191.4 441.5L114.3 373.9L114.1 372.7Z"/>
<path class="b" color="#ac0000" d="M191.1 439.2L191.3 440.4L114.1 372.7L113.9 371.6Z"/>
<path class="b" color="#9b0000" d="M190.8 438.1L191.1 439.2L113.9 371.6L113.7 370.5Z"/>
<path class="b" color="#8a0000" d="M190.0 437.2L190.8 438.1L113.7 370.5L112.9 369.6Z"/>
<path color="#820000" d="M112.5 369.8L112.9 369.6L190.0 437.2L189.7 437.5Z"/>
<path color="#880000" d="M111.7 370.9L112.5 369.8L189.7 437.5L188.8 438.6Z"/>
<path color="#930000" d="M110.9 372.2L111.7 370.9L188.8 438.6L188.0 439.8Z"/>
<path color="#a00000" d="M110.1 373.4L110.9 372.2L188.0 439.8L187.2 441.0Z"/>
<path color="#ab0000" d="M109.2 374.5L110.1 373.4L187.2 441.0L186.4 442.1Z"/>
<path color="#b40000" d="M108.4 375.4L109.2 374.5L186.4 442.1L185.6 443.0Z"/>
<path color="#bc0000" d="M107.6 376.2L108.4 375.4L185.6 443.0L184.8 443.8Z"/>
<path color="#c20000" d="M106.8 376.9L107.6 376.2L184.8 443.8L184.0 444.5Z"/>
<path color="#c70000" d="M106.0 377.5L106.8 376.9L184.0 444.5L183.2 445.1Z"/>
<path color="#cb0000" d="M105.2 378.0L106.0 377.5L183.2 445.1L182.3 445.7Z"/>
<path color="#ce0000" d="M104.4 378.5L105.2 378.0L182.3 445.7L181.5 446.1Z"/>
<path color="#d00000" d="M103.5 378.9L104.4 378.5L181.5 446.1L180.7 446.5Z"/>
<path color="#d20000" d="M102.7 379.3L103.5 378.9L180.7 446.5L179.9 446.9Z"/>
<path color="#d30000" d="M101.9 379.6L102.7 379.3L179.9 446.9L179.1 447.2Z"/>
<path color="#d40000" d="M101.1 379.9L101.9 379.6L179.1 447.2L178.3 447.5ZM100.7 380.0L101.1 379.9L178.3 447.5L177.9 447.6Z"/>
<path color="#d30000" d="M99.9 380.2L100.7 380.0L177.9 447.6L177.1 447.9ZM99.1 380.4L99.9 380.2L177.1 447.9L176.3 448.1Z"/>
<path color="#d10000" d="M98.3 380.6L99.1 380.4L176.3 448.1L175.5 448.2Z"/>
<path color="#cf0000" d="M97.5 380.7L98.3 380.6L175.5 448.2L174.6 448.3Z"/>
<path color="#cd0000" d="M96.7 380.7L97.5 380.7L174.6 448.3L173.8 448.3Z"/>
<path color="#c90000" d="M95.8 380.7L96.7 380.7L173.8 448.3L173.0 448.3Z"/>
<path color="#c50000" d="M95.0 380.6L95.8 380.7L173.0 448.3L172.2 448.2Z"/>
<path color="#bf0000" d="M94.2 380.3L95.0 380.6L172.2 448.2L171.4 448.0Z"/>
<path color="#b90000" d="M93.4 380.0L94.2 380.3L171.4 448.0L170.6 447.7Z"/>
<path color="#b00000" d="M92.6 379.6L93.4 380.0L170.6 447.7L169.8 447.2Z"/>
<path color="#a60000" d="M91.8 379.0L92.6 379.6L169.8 447.2L168.9 446.6Z"/>
<path class="b" color="#9a0000" d="M168.1 445.9L168.9 446.6L91.8 379.0L91.0 378.3Z"/>
<path color="#8d0000" d="M90.1 377.6L91.0 378.3L168.1 445.9L167.3 445.2Z"/>
<path color="#840000" d="M89.3 377.3L90.1 377.6L167.3 445.2L166.5 444.9ZM88.8 377.8L89.3 377.3L166.5 444.9L166.0 445.5Z"/>
<path color="#900000" d="M88.4 379.2L88.8 377.8L166.0 445.5L165.6 446.8Z"/>
<path color="#a10000" d="M88.2 380.4L88.4 379.2L165.6 446.8L165.4 448.1Z"/>
<path color="#b20000" d="M88.0 381.7L88.2 380.4L165.4 448.1L165.2 449.3Z"/>
<path color="#c20000" d="M87.9 382.9L88.0 381.7L165.2 449.3L165.1 450.6Z"/>
<path color="#d30000" d="M87.8 384.2L87.9 382.9L165.1 450.6L165.0 451.8Z"/>
<path color="#e30000" d="M87.7 385.4L87.8 384.2L165.0 451.8L164.9 453.0Z"/>
<path color="#f30000" d="M87.6 386.6L87.7 385.4L164.9 453.0L164.8 454.3Z"/>
<path color="#ff0400" d="M87.5 387.8L87.6 386.6L164.8 454.3L164.7 455.5Z"/>
<path color="#ff1400" d="M87.5 389.1L87.5 387.8L164.7 455.5L164.6 456.7Z"/>
<path color="#ff2400" d="M87.4 390.3L87.5 389.1L164.6 456.7L164.6 457.9Z"/>
<path color="#ff3400" d="M87.3 391.5L87.4 390.3L164.6 457.9L164.5 459.1Z"/>
<path color="#ff4400" d="M87.3 392.7L87.3 391.5L164.5 459.1L164.5 460.3Z"/>
<path color="#ff5400" d="M87.2 393.9L87.3 392.7L164.5 460.3L164.4 461.5Z"/>
<path color="#ff6300" d="M87.2 395.1L87.2 393.9L164.4 461.5L164.4 462.7Z"/>
<path color="#ff7300" d="M87.1 396.3L87.2 395.1L164.4 462.7L164.3 463.9Z"/>
<path color="#ff8300" d="M87.1 397.5L87.1 396.3L164.3 463.9L164.3 465.2Z"/>
<path color="#ff9200" d="M87.0 398.7L87.1 397.5L164.3 465.2L164.2 466.4Z"/>
<path color="#ffa200" d="M87.0 399.9L87.0 398.7L164.2 466.4L164.2 467.6Z"/>
<path color="#ffb100" d="M87.0 401.1L87.0 399.9L164.2 467.6L164.1 468.8Z"/>
<path color="#ffc100" d="M86.9 402.3L87.0 401.1L164.1 468.8L164.1 470.0Z"/>
<path color="#ffd000" d="M86.9 403.5L86.9 402.3L164.1 470.0L164.1 471.2Z"/>
<path color="#ffdf00" d="M86.9 404.7L86.9 403.5L164.1 471.2L164.0 472.4Z"/>
<path color="#ffee00" d="M86.8 405.9L86.9 404.7L164.0 472.4L164.0 473.6Z"/>
<path color="#fffd00" d="M86.8 407.1L86.8 405.9L164.0 473.6L164.0 474.8Z"/>
<path color="#f1ff0e" d="M86.8 408.3L86.8 407.1L164.0 474.8L163.9 476.0Z"/>
<path color="#e2ff1d" d="M86.7 409.5L86.8 408.3L163.9 476.0L163.9 477.2Z"/>
<path color="#d3ff2c" d="M86.7 410.7L86.7 409.5L163.9 477.2L163.9 478.4Z"/>
<path color="#c5ff3a" d="M86.7 411.9L86.7 410.7L163.9 478.4L163.8 479.6Z"/>
<path color="#b6ff49" d="M86.6 413.1L86.7 411.9L163.8 479.6L163.8 480.7Z"/>
<path color="#a7ff58" d="M86.6 414.3L86.6 413.1L163.8 480.7L163.8 481.9Z"/>
<path color="#98ff67" d="M86.6 415.5L86.6 414.3L163.8 481.9L163.7 483.1Z"/>
<path color="#89ff76" d="M86.5 416.7L86.6 415.5L163.7 483.1L163.7 484.3Z"/>
<path color="#7aff85" d="M86.5 417.9L86.5 416.7L163.7 484.3L163.7 485.5Z"/>
<path color="#6cff93" d="M86.5 419.1L86.5 417.9L163.7 485.5L163.7 486.7Z"/>
<path color="#5dffa2" d="M86.5 420.3L86.5 419.1L163.7 486.7L163.6 487.9Z"/>
<path color="#4effb1" d="M86.4 421.5L86.5 420.3L163.6 487.9L163.6 489.1Z"/>
<path color="#40ffbf" d="M86.4 422.7L86.4 421.5L163.6 489.1L163.6 490.3Z"/>
<path color="#31ffce" d="M86.4 423.9L86.4 422.7L163.6 490.3L163.5 491.5Z"/>
<path color="#23ffdc" d="M86.3 425.1L86.4 423.9L163.5 491.5L163.5 492.7Z"/>
<path color="#15ffea" d="M86.3 426.2L86.3 425.1L163.5 492.7L163.5 493.9Z"/>
<path color="#06fff9" d="M86.3 427.4L86.3 426.2L163.5 493.9L163.5 495.1Z"/>
<path color="#00f7ff" d="M86.3 428.6L86.3 427.4L163.5 495.1L163.4 496.3Z"/>
<path color="#00e9ff" d="M86.2 429.8L86.3 428.6L163.4 496.3L163.4 497.5Z"/>
<path color="#00daff" d="M86.2 431.0L86.2 429.8L163.4 497.5L163.4 498.7Z"/>
<path color="#00ccff" d="M86.2 432.2L86.2 431.0L163.4 498.7L163.4 499.8Z"/>
<path color="#00beff" d="M86.2 433.4L86.2 432.2L163.4 499.8L163.3 501.0Z"/>
<path color="#00b0ff" d="M86.1 434.6L86.2 433.4L163.3 501.0L163.3 502.2Z"/>
<path color="#00a2ff" d="M86.1 435.8L86.1 434.6L163.3 502.2L163.3 503.4Z"/>
<path color="#0094ff" d="M86.1 437.0L86.1 435.8L163.3 503.4L163.2 504.6Z"/>
<path color="#0086ff" d="M86.1 438.2L86.1 437.0L163.2 504.6L163.2 505.8Z"/>
<path color="#0077ff" d="M86.0 439.4L86.1 438.2L163.2 505.8L163.2 507.0Z"/>
<path color="#0069ff" d="M86.0 440.6L86.0 439.4L163.2 507.0L163.2 508.2Z"/>
<path color="#005cff" d="M86.0 441.8L86.0 440.6L163.2 508.2L163.1 509.4Z"/>
<path color="#004eff" d="M85.9 442.9L86.0 441.8L163.1 509.4L163.1 510.6Z"/>
<path color="#0040ff" d="M85.9 444.2L85.9 442.9L163.1 510.6L163.1 511.8Z"/>
<path color="#0032ff" d="M85.9 445.4L85.9 444.2L163.1 511.8L163.0 513.0Z"/>
<path color="#0024ff" d="M85.8 446.6L85.9 445.4L163.0 513.0L163.0 514.2Z"/>
<path color="#0016ff" d="M85.8 447.8L85.8 446.6L163.0 514.2L163.0 515.4Z"/>
<path color="#0009ff" d="M85.8 449.0L85.8 447.8L163.0 515.4L162.9 516.6Z"/>
<path color="#0000fa" d="M85.7 450.2L85.8 449.0L162.9 516.6L162.9 517.8Z"/>
<path color="#0000ec" d="M85.7 451.4L85.7 450.2L162.9 517.8L162.9 519.0Z"/>
<path color="#0000de" d="M85.6 452.6L85.7 451.4L162.9 519.0L162.8 520.2Z"/>
<path color="#0000d1" d="M85.6 453.8L85.6 452.6L162.8 520.2L162.8 521.4Z"/>
<path color="#0000c3" d="M85.5 455.0L85.6 453.8L162.8 521.4L162.7 522.6Z"/>
<path color="#0000b6" d="M85.5 456.2L85.5 455.0L162.7 522.6L162.6 523.8Z"/>
<path color="#0000a8" d="M85.3 457.5L85.5 456.2L162.6 523.8L162.5 525.1Z"/>
<path class="b" color="#0000a3" d="M162.4 524.8L162.5 525.1L85.3 457.5L85.2 457.2Z"/>
<path class="b" color="#0000ac" d="M162.3 523.6L162.4 524.8L85.2 457.2L85.1 456.0Z"/>
<path class="b" color="#0000b9" d="M162.2 522.5L162.3 523.6L85.1 456.0L85.0 454.8Z"/>
<path class="b" color="#0000c7" d="M162.1 521.3L162.2 522.5L85.0 454.8L85.0 453.6Z"/>
<path class="b" color="#0000d5" d="M162.1 520.1L162.1 521.3L85.0 453.6L84.9 452.5Z"/>
<path class="b" color="#0000e2" d="M162.0 518.9L162.1 520.1L84.9 452.5L84.9 451.3Z"/>
<path class="b" color="#0000f0" d="M162.0 517.7L162.0 518.9L84.9 451.3L84.8 450.1Z"/>
<path class="b" color="#0000fe" d="M162.0 516.6L162.0 517.7L84.8 450.1L84.8 448.9Z"/>
<path class="b" color="#000dff" d="M161.9 515.4L162.0 516.6L84.8 448.9L84.8 447.7Z"/>
<path class="b" color="#001aff" d="M161.9 514.2L161.9 515.4L84.8 447.7L84.7 446.6Z"/>
<path class="b" color="#0028ff" d="M161.9 513.0L161.9 514.2L84.7 446.6L84.7 445.4Z"/>
<path class="b" color="#0036ff" d="M161.8 511.9L161.9 513.0L84.7 445.4L84.7 444.2Z"/>
<path class="b" color="#0044ff" d="M161.8 510.7L161.8 511.9L84.7 444.2L84.6 443.0Z"/>
<path class="b" color="#0052ff" d="M161.8 509.5L161.8 510.7L84.6 443.0L84.6 441.9Z"/>
<path class="b" color="#0060ff" d="M161.7 508.3L161.8 509.5L84.6 441.9L84.6 440.7Z"/>
<path class="b" color="#006eff" d="M161.7 507.2L161.7 508.3L84.6 440.7L84.5 439.5Z"/>
<path class="b" color="#007cff" d="M161.7 506.0L161.7 507.2L84.5 439.5L84.5 438.3Z"/>
<path class="b" color="#008aff" d="M161.6 504.8L161.7 506.0L84.5 438.3L84.5 437.2Z"/>
<path class="b" color="#0098ff" d="M161.6 503.6L161.6 504.8L84.5 437.2L84.4 436.0Z"/>
<path class="b" color="#00a6ff" d="M161.6 502.4L161.6 503.6L84.4 436.0L84.4 434.8Z"/>
<path class="b" color="#00b4ff" d="M161.6 501.3L161.6 502.4L84.4 434.8L84.4 433.6Z"/>
<path class="b" color="#00c2ff" d="M161.5 500.1L161.6 501.3L84.4 433.6L84.4 432.5Z"/>
<path class="b" color="#00d0ff" d="M161.5 498.9L161.5 500.1L84.4 432.5L84.3 431.3Z"/>
<path class="b" color="#00deff" d="M161.5 497.8L161.5 498.9L84.3 431.3L84.3 430.1Z"/>
<path class="b" color="#00edff" d="M161.5 496.6L161.5 497.8L84.3 430.1L84.3 428.9Z"/>
<path class="b" color="#00fbff" d="M161.4 495.4L161.5 496.6L84.3 428.9L84.3 427.8Z"/>
<path class="b" color="#0afff5" d="M161.4 494.2L161.4 495.4L84.3 427.8L84.2 426.6Z"/>
<path class="b" color="#19ffe6" d="M161.4 493.1L161.4 494.2L84.2 426.6L84.2 425.4Z"/>
<path class="b" color="#27ffd8" d="M161.3 491.9L161.4 493.1L84.2 425.4L84.2 424.2Z"/>
<path class="b" color="#36ffc9" d="M161.3 490.7L161.3 491.9L84.2 424.2L84.1 423.1Z"/>
<path class="b" color="#44ffbb" d="M161.3 489.5L161.3 490.7L84.1 423.1L84.1 421.9Z"/>
<path class="b" color="#53ffac" d="M161.3 488.4L161.3 489.5L84.1 421.9L84.1 420.7Z"/>
<path class="b" color="#61ff9e" d="M161.2 487.2L161.3 488.4L84.1 420.7L84.1 419.5Z"/>
<path class="b" color="#70ff8f" d="M161.2 486.0L161.2 487.2L84.1 419.5L84.0 418.4Z"/>
<path class="b" color="#7fff80" d="M161.2 484.8L161.2 486.0L84.0 418.4L84.0 417.2Z"/>
<path class="b" color="#8dff72" d="M161.1 483.7L161.2 484.8L84.0 417.2L84.0 416.0Z"/>
<path class="b" color="#9cff63" d="M161.1 482.5L161.1 483.7L84.0 416.0L83.9 414.9Z"/>
<path class="b" color="#abff54" d="M161.1 481.3L161.1 482.5L83.9 414.9L83.9 413.7Z"/>
<path class="b" color="#baff45" d="M161.0 480.1L161.1 481.3L83.9 413.7L83.9 412.5Z"/>
<path class="b" color="#c9ff36" d="M161.0 478.9L161.0 480.1L83.9 412.5L83.8 411.3Z"/>
<path class="b" color="#d8ff27" d="M161.0 477.8L161.0 478.9L83.8 411.3L83.8 410.1Z"/>
<path class="b" color="#e7ff18" d="M160.9 476.6L161.0 477.8L83.8 410.1L83.8 408.9Z"/>
<path class="b" color="#f6ff09" d="M160.9 475.4L160.9 476.6L83.8 408.9L83.7 407.8Z"/>
<path class="b" color="#fff900" d="M160.9 474.2L160.9 475.4L83.7 407.8L83.7 406.6Z"/>
<path class="b" color="#ffe900" d="M160.8 473.1L160.9 474.2L83.7 406.6L83.7 405.4Z"/>
<path class="b" color="#ffda00" d="M160.8 471.9L160.8 473.1L83.7 405.4L83.6 404.2Z"/>
<path class="b" color="#ffcb00" d="M160.8 470.7L160.8 471.9L83.6 404.2L83.6 403.1Z"/>
<path class="b" color="#ffbb00" d="M160.7 469.5L160.8 470.7L83.6 403.1L83.6 401.9Z"/>
<path class="b" color="#ffac00" d="M160.7 468.3L160.7 469.5L83.6 401.9L83.5 400.7Z"/>
<path class="b" color="#ff9c00" d="M160.6 467.1L160.7 468.3L83.5 400.7L83.5 399.5Z"/>
<path class="b" color="#ff8d00" d="M160.6 466.0L160.6 467.1L83.5 399.5L83.4 398.3Z"/>
<path class="b" color="#ff7d00" d="M160.5 464.8L160.6 466.0L83.4 398.3L83.4 397.2Z"/>
<path class="b" color="#ff6e00" d="M160.5 463.6L160.5 464.8L83.4 397.2L83.3 396.0Z"/>
<path class="b" color="#ff5e00" d="M160.4 462.4L160.5 463.6L83.3 396.0L83.3 394.8Z"/>
<path class="b" color="#ff4e00" d="M160.4 461.3L160.4 462.4L83.3 394.8L83.2 393.6Z"/>
<path class="b" color="#ff3f00" d="M160.3 460.1L160.4 461.3L83.2 393.6L83.2 392.4Z"/>
<path class="b" color="#ff2f00" d="M160.3 458.9L160.3 460.1L83.2 392.4L83.1 391.3Z"/>
<path class="b" color="#ff1f00" d="M160.2 457.7L160.3 458.9L83.1 391.3L83.0 390.1Z"/>
<path class="b" color="#ff0f00" d="M160.1 456.6L160.2 457.7L83.0 390.1L83.0 388.9Z"/>
<path class="b" color="#fe0000" d="M160.1 455.4L160.1 456.6L83.0 388.9L82.9 387.8Z"/>
<path class="b" color="#ee0000" d="M160.0 454.2L160.1 455.4L82.9 387.8L82.8 386.6Z"/>
<path class="b" color="#dd0000" d="M159.9 453.1L160.0 454.2L82.8 386.6L82.7 385.4Z"/>
<path class="b" color="#cd0000" d="M159.8 451.9L159.9 453.1L82.7 385.4L82.6 384.3Z"/>
<path class="b" color="#bd0000" d="M159.6 450.8L159.8 451.9L82.6 384.3L82.4 383.1Z"/>
<path class="b" color="#ac0000" d="M159.4 449.6L159.6 450.8L82.4 383.1L82.3 382.0Z"/>
<path class="b" color="#9b0000" d="M159.2 448.5L159.4 449.6L82.3 382.0L82.0 380.9Z"/>
<path class="b" color="#8a0000" d="M158.4 447.6L159.2 448.5L82.0 380.9L81.2 380.0Z"/>
<path color="#820000" d="M80.8 380.2L81.2 380.0L158.4 447.6L158.0 447.9Z"/>
<path color="#880000" d="M80.0 381.3L80.8 380.2L158.0 447.9L157.2 448.9Z"/>
<path color="#930000" d="M79.2 382.6L80.0 381.3L157.2 448.9L156.4 450.2Z"/>
<path color="#a00000" d="M155.2 451.1L78.4 383.8L79.2 382.6L156.4 450.2L155.7 451.2Z"/>
<path color="#ab0000" d="M155.2 451.1L152.0 450.1L77.6 384.8L78.4 383.8Z"/>
<path color="#b40000" d="M152.0 450.1L148.9 449.0L76.7 385.8L77.6 384.8Z"/>
<path color="#bc0000" d="M148.9 449.0L145.8 447.8L75.9 386.6L76.7 385.8Z"/>
<path color="#c20000" d="M145.8 447.8L142.6 446.4L75.1 387.3L75.9 386.6Z"/>
<path color="#c70000" d="M142.6 446.4L139.5 445.0L74.3 387.9L75.1 387.3Z"/>
<path color="#cb0000" d="M139.5 445.0L136.4 443.5L73.5 388.4L74.3 387.9Z"/>
<path color="#ce0000" d="M136.4 443.5L133.3 442.0L72.7 388.9L73.5 388.4Z"/>
<path color="#d00000" d="M133.3 442.0L130.1 440.3L71.9 389.3L72.7 388.9Z"/>
<path color="#d20000" d="M130.1 440.3L127.0 438.7L71.1 389.6L71.9 389.3Z"/>
<path color="#d30000" d="M127.0 438.7L123.9 437.0L70.2 390.0L71.1 389.6Z"/>
<path color="#d40000" d="M123.9 437.0L120.7 435.2L69.4 390.3L70.2 390.0ZM120.7 435.2L119.3 434.4L69.1 390.4L69.4 390.3Z"/>
<path color="#d30000" d="M119.3 434.4L116.2 432.6L68.2 390.6L69.1 390.4ZM116.2 432.6L113.1 430.8L67.4 390.8L68.2 390.6Z"/>
<path color="#d10000" d="M113.1 430.8L109.9 428.9L66.6 390.9L67.4 390.8Z"/>
<path color="#cf0000" d="M109.9 428.9L106.8 427.0L65.8 391.0L66.6 390.9Z"/>
<path color="#cd0000" d="M106.8 427.0L103.7 425.0L65.0 391.1L65.8 391.0Z"/>
<path color="#c90000" d="M103.7 425.0L100.5 422.9L64.2 391.0L65.0 391.1Z"/>
<path color="#c50000" d="M100.5 422.9L97.4 420.8L63.4 390.9L64.2 391.0Z"/>
<path color="#bf0000" d="M97.4 420.8L94.3 418.5L62.5 390.7L63.4 390.9Z"/>
<path color="#b90000" d="M94.3 418.5L91.2 416.2L61.7 390.4L62.5 390.7Z"/>
<path color="#b00000" d="M91.2 416.2L88.0 413.7L60.9 390.0L61.7 390.4Z"/>
<path color="#a60000" d="M88.0 413.7L84.9 411.1L60.1 389.4L60.9 390.0Z"/>
<path class="b" color="#9a0000" d="M60.1 389.4L59.3 388.6L81.8 408.3L84.9 411.1Z"/>
<path color="#8d0000" d="M81.8 408.3L78.6 405.6L58.5 387.9L59.3 388.6Z"/>
<path color="#840000" d="M78.6 405.6L75.5 403.3L57.7 387.7L58.5 387.9ZM75.5 403.3L73.6 402.6L57.2 388.2L57.7 387.7Z"/>
<path color="#900000" d="M73.6 402.6L72.0 402.9L56.7 389.6L57.2 388.2Z"/>
<path color="#a10000" d="M72.0 402.9L71.1 403.6L56.5 390.8L56.7 389.6Z"/>
<path color="#b20000" d="M71.1 403.6L70.5 404.5L56.4 392.1L56.5 390.8Z"/>
<path color="#c20000" d="M70.5 404.5L70.0 405.4L56.2 393.3L56.4 392.1Z"/>
<path color="#d30000" d="M70.0 405.4L69.6 406.3L56.1 394.5L56.2 393.3Z"/>
<path color="#e30000" d="M69.6 406.3L69.2 407.3L56.0 395.8L56.1 394.5Z"/>
<path color="#f30000" d="M69.2 407.3L68.9 408.3L55.9 397.0L56.0 395.8Z"/>
<path color="#ff0400" d="M68.9 408.3L68.6 409.4L55.9 398.2L55.9 397.0Z"/>
<path color="#ff1400" d="M68.6 409.4L68.3 410.4L55.8 399.4L55.9 398.2Z"/>
<path color="#ff2400" d="M68.3 410.4L68.1 411.5L55.7 400.6L55.8 399.4Z"/>
<path color="#ff3400" d="M68.1 411.5L67.8 412.5L55.7 401.9L55.7 400.6Z"/>
<path color="#ff4400" d="M67.8 412.5L67.6 413.6L55.6 403.1L55.7 401.9Z"/>
<path color="#ff5400" d="M67.6 413.6L67.4 414.7L55.6 404.3L55.6 403.1Z"/>
<path color="#ff6300" d="M67.4 414.7L67.2 415.8L55.5 405.5L55.6 404.3Z"/>
<path color="#ff7300" d="M67.2 415.8L67.1 416.8L55.5 406.7L55.5 405.5Z"/>
<path color="#ff8300" d="M67.1 416.8L66.9 417.9L55.4 407.9L55.5 406.7Z"/>
<path color="#ff9200" d="M66.9 417.9L66.7 419.0L55.4 409.1L55.4 407.9Z"/>
<path color="#ffa200" d="M66.7 419.0L66.6 420.1L55.3 410.3L55.4 409.1Z"/>
<path color="#ffb100" d="M66.6 420.1L66.4 421.2L55.3 411.5L55.3 410.3Z"/>
<path color="#ffc000" d="M66.4 421.2L66.3 422.4L55.3 412.7L55.3 411.5Z"/>
<path color="#ffd000" d="M66.3 422.4L66.1 423.5L55.2 413.9L55.3 412.7Z"/>
<path color="#ffdf00" d="M66.1 423.5L66.0 424.6L55.2 415.1L55.2 413.9Z"/>
<path color="#ffee00" d="M66.0 424.6L65.8 425.7L55.1 416.3L55.2 415.1Z"/>
<path color="#fffd00" d="M65.8 425.7L65.7 426.8L55.1 417.5L55.1 416.3Z"/>
<path color="#f1ff0e" d="M65.7 426.8L65.6 427.9L55.1 418.7L55.1 417.5Z"/>
<path color="#e3ff1c" d="M65.6 427.9L65.4 429.0L55.0 419.9L55.1 418.7Z"/>
<path color="#d4ff2b" d="M65.4 429.0L65.3 430.1L55.0 421.1L55.0 419.9Z"/>
<path color="#c5ff3a" d="M65.3 430.1L65.2 431.2L55.0 422.3L55.0 421.1Z"/>
<path color="#b6ff49" d="M65.2 431.2L65.1 432.4L55.0 423.5L55.0 422.3Z"/>
<path color="#a7ff58" d="M65.1 432.4L65.0 433.5L54.9 424.7L55.0 423.5Z"/>
<path color="#98ff67" d="M65.0 433.5L64.9 434.6L54.9 425.9L54.9 424.7Z"/>
<path color="#89ff76" d="M64.9 434.6L64.7 435.7L54.9 427.1L54.9 425.9Z"/>
<path color="#7bff84" d="M64.7 435.7L64.6 436.9L54.8 428.3L54.9 427.1Z"/>
<path color="#6cff93" d="M64.6 436.9L64.5 438.0L54.8 429.5L54.8 428.3Z"/>
<path color="#5dffa2" d="M64.5 438.0L64.4 439.1L54.8 430.7L54.8 429.5Z"/>
<path color="#4fffb0" d="M64.4 439.1L64.3 440.2L54.8 431.9L54.8 430.7Z"/>
<path color="#40ffbf" d="M64.3 440.2L64.2 441.3L54.7 433.0L54.8 431.9Z"/>
<path color="#31ffce" d="M64.2 441.3L64.1 442.5L54.7 434.2L54.7 433.0Z"/>
<path color="#23ffdc" d="M64.1 442.5L64.0 443.6L54.7 435.4L54.7 434.2Z"/>
<path color="#15ffea" d="M64.0 443.6L63.9 444.7L54.6 436.6L54.7 435.4Z"/>
<path color="#06fff9" d="M63.9 444.7L63.8 445.8L54.6 437.8L54.6 436.6Z"/>
<path color="#00f7ff" d="M63.8 445.8L63.7 447.0L54.6 439.0L54.6 437.8Z"/>
<path color="#00e9ff" d="M63.7 447.0L63.6 448.1L54.6 440.2L54.6 439.0Z"/>
<path color="#00daff" d="M63.6 448.1L63.5 449.2L54.5 441.4L54.6 440.2Z"/>
<path color="#00ccff" d="M63.5 449.2L63.4 450.3L54.5 442.6L54.5 441.4Z"/>
<path color="#00beff" d="M63.4 450.3L63.3 451.5L54.5 443.8L54.5 442.6Z"/>
<path color="#00b0ff" d="M63.3 451.5L63.2 452.6L54.5 444.9L54.5 443.8Z"/>
<path color="#00a2ff" d="M63.2 452.6L63.0 453.7L54.4 446.2L54.5 444.9Z"/>
<path color="#0094ff" d="M63.0 453.7L62.9 454.8L54.4 447.3L54.4 446.2Z"/>
<path color="#0086ff" d="M62.9 454.8L62.8 456.0L54.4 448.6L54.4 447.3Z"/>
<path color="#0078ff" d="M62.8 456.0L62.7 457.1L54.3 449.7L54.4 448.6Z"/>
<path color="#006aff" d="M62.7 457.1L62.6 458.2L54.3 450.9L54.3 449.7Z"/>
<path color="#005bff" d="M62.6 458.2L62.5 459.3L54.3 452.2L54.3 450.9Z"/>
<path color="#004eff" d="M62.5 459.3L62.4 460.5L54.3 453.3L54.3 452.2Z"/>
<path color="#0040ff" d="M62.4 460.5L62.3 461.6L54.2 454.6L54.3 453.3Z"/>
<path color="#0032ff" d="M62.3 461.6L62.1 462.7L54.2 455.8L54.2 454.6Z"/>
<path color="#0024ff" d="M62.1 462.7L62.0 463.8L54.2 457.0L54.2 455.8Z"/>
<path color="#0016ff" d="M62.0 463.8L61.9 464.9L54.1 458.1L54.2 457.0Z"/>
<path color="#0008ff" d="M61.9 464.9L61.7 466.1L54.1 459.3L54.1 458.1Z"/>
<path color="#0000fa" d="M61.7 466.1L61.6 467.2L54.1 460.6L54.1 459.3Z"/>
<path color="#0000ec" d="M61.6 467.2L61.4 468.3L54.0 461.8L54.1 460.6Z"/>
<path color="#0000de" d="M61.4 468.3L61.3 469.3L54.0 463.0L54.0 461.8Z"/>
<path color="#0000d1" d="M61.3 469.3L61.1 470.4L53.9 464.2L54.0 463.0Z"/>
<path color="#0000c3" d="M61.1 470.4L60.9 471.5L53.9 465.4L53.9 464.2Z"/>
<path color="#0000b6" d="M60.9 471.5L60.6 472.5L53.8 466.6L53.9 465.4Z"/>
<path color="#0000a8" d="M60.6 472.5L59.9 473.3L53.6 467.8L53.8 466.6Z"/>
<path class="b" color="#0000a3" d="M53.6 467.8L53.5 467.6L59.6 472.9L59.9 473.3Z"/>
<path class="b" color="#0000ab" d="M53.5 467.6L53.4 466.5L59.1 471.5L59.6 472.9Z"/>
<path class="b" color="#0000b8" d="M53.4 466.5L53.3 465.3L58.9 470.1L59.1 471.5Z"/>
<path class="b" color="#0000c6" d="M53.3 465.3L53.3 464.1L58.6 468.8L58.9 470.1Z"/>
<path class="b" color="#0000d3" d="M53.3 464.1L53.2 462.9L58.5 467.5L58.6 468.8Z"/>
<path class="b" color="#0000e1" d="M53.2 462.9L53.2 461.8L58.3 466.2L58.5 467.5Z"/>
<path class="b" color="#0000ef" d="M53.2 461.8L53.2 460.6L58.1 465.0L58.3 466.2Z"/>
<path class="b" color="#0000fc" d="M53.2 460.6L53.1 459.4L58.0 463.7L58.1 465.0Z"/>
<path class="b" color="#000bff" d="M53.1 459.4L53.1 458.3L57.9 462.4L58.0 463.7Z"/>
<path class="b" color="#0019ff" d="M53.1 458.3L53.1 457.1L57.7 461.2L57.9 462.4Z"/>
<path class="b" color="#0026ff" d="M53.1 457.1L53.0 455.9L57.6 459.9L57.7 461.2Z"/>
<path class="b" color="#0034ff" d="M53.0 455.9L53.0 454.7L57.5 458.7L57.6 459.9Z"/>
<path class="b" color="#0042ff" d="M53.0 454.7L53.0 453.6L57.4 457.4L57.5 458.7Z"/>
<path class="b" color="#0050ff" d="M53.0 453.6L52.9 452.4L57.2 456.2L57.4 457.4Z"/>
<path class="b" color="#005eff" d="M52.9 452.4L52.9 451.2L57.1 454.9L57.2 456.2Z"/>
<path class="b" color="#006cff" d="M52.9 451.2L52.9 450.0L57.0 453.7L57.1 454.9Z"/>
<path class="b" color="#007aff" d="M52.9 450.0L52.8 448.9L56.9 452.4L57.0 453.7Z"/>
<path class="b" color="#0088ff" d="M52.8 448.9L52.8 447.7L56.8 451.2L56.9 452.4Z"/>
<path class="b" color="#0096ff" d="M52.8 447.7L52.8 446.5L56.7 450.0L56.8 451.2Z"/>
<path class="b" color="#00a4ff" d="M52.8 446.5L52.8 445.3L56.6 448.7L56.7 450.0Z"/>
<path class="b" color="#00b2ff" d="M52.8 445.3L52.7 444.2L56.5 447.5L56.6 448.7Z"/>
<path class="b" color="#00c0ff" d="M52.7 444.2L52.7 443.0L56.4 446.2L56.5 447.5Z"/>
<path class="b" color="#00ceff" d="M52.7 443.0L52.7 441.8L56.3 445.0L56.4 446.2Z"/>
<path class="b" color="#00ddff" d="M52.7 441.8L52.6 440.7L56.2 443.7L56.3 445.0Z"/>
<path class="b" color="#00ebff" d="M52.6 440.7L52.6 439.5L56.1 442.5L56.2 443.7Z"/>
<path class="b" color="#00f9ff" d="M52.6 439.5L52.6 438.3L56.0 441.3L56.1 442.5Z"/>
<path class="b" color="#08fff7" d="M52.6 438.3L52.6 437.1L55.8 440.0L56.0 441.3Z"/>
<path class="b" color="#17ffe8" d="M52.6 437.1L52.5 436.0L55.7 438.8L55.8 440.0Z"/>
<path class="b" color="#25ffda" d="M52.5 436.0L52.5 434.8L55.6 437.5L55.7 438.8Z"/>
<path class="b" color="#34ffcb" d="M52.5 434.8L52.5 433.6L55.5 436.3L55.6 437.5Z"/>
<path class="b" color="#42ffbd" d="M52.5 433.6L52.4 432.4L55.4 435.0L55.5 436.3Z"/>
<path class="b" color="#51ffae" d="M52.4 432.4L52.4 431.3L55.3 433.8L55.4 435.0Z"/>
<path class="b" color="#5fffa0" d="M52.4 431.3L52.4 430.1L55.2 432.6L55.3 433.8Z"/>
<path class="b" color="#6eff91" d="M52.4 430.1L52.4 428.9L55.1 431.3L55.2 432.6Z"/>
<path class="b" color="#7dff82" d="M52.4 428.9L52.3 427.7L55.0 430.1L55.1 431.3Z"/>
<path class="b" color="#8bff74" d="M52.3 427.7L52.3 426.6L54.9 428.8L55.0 430.1Z"/>
<path class="b" color="#9aff65" d="M52.3 426.6L52.3 425.4L54.8 427.6L54.9 428.8Z"/>
<path class="b" color="#a9ff56" d="M52.3 425.4L52.2 424.2L54.6 426.3L54.8 427.6Z"/>
<path class="b" color="#b8ff47" d="M52.2 424.2L52.2 423.0L54.5 425.0L54.6 426.3Z"/>
<path class="b" color="#c7ff38" d="M52.2 423.0L52.2 421.9L54.4 423.8L54.5 425.0Z"/>
<path class="b" color="#d6ff29" d="M52.2 421.9L52.1 420.7L54.3 422.6L54.4 423.8Z"/>
<path class="b" color="#e5ff1a" d="M52.1 420.7L52.1 419.5L54.1 421.3L54.3 422.6Z"/>
<path class="b" color="#f4ff0b" d="M52.1 419.5L52.1 418.3L54.0 420.0L54.1 421.3Z"/>
<path class="b" color="#fffb00" d="M52.1 418.3L52.0 417.1L53.9 418.8L54.0 420.0Z"/>
<path class="b" color="#ffec00" d="M52.0 417.1L52.0 416.0L53.7 417.5L53.9 418.8Z"/>
<path class="b" color="#ffdd00" d="M52.0 416.0L52.0 414.8L53.6 416.2L53.7 417.5Z"/>
<path class="b" color="#ffcd00" d="M52.0 414.8L51.9 413.6L53.5 415.0L53.6 416.2Z"/>
<path class="b" color="#ffbe00" d="M51.9 413.6L51.9 412.4L53.3 413.7L53.5 415.0Z"/>
<path class="b" color="#ffaf00" d="M51.9 412.4L51.8 411.3L53.1 412.4L53.3 413.7Z"/>
<path class="b" color="#ff9f00" d="M51.8 411.3L51.8 410.1L53.0 411.1L53.1 412.4Z"/>
<path class="b" color="#ff9000" d="M51.8 410.1L51.8 408.9L52.8 409.8L53.0 411.1Z"/>
<path class="b" color="#ff8000" d="M51.8 408.9L51.7 407.7L52.6 408.6L52.8 409.8Z"/>
<path class="b" color="#ff7100" d="M51.7 407.7L51.7 406.6L52.5 407.3L52.6 408.6Z"/>
<path class="b" color="#ff6100" d="M51.7 406.6L51.6 405.4L52.3 406.0L52.5 407.3Z"/>
<path class="b" color="#ff5100" d="M51.6 405.4L51.6 404.2L52.1 404.7L52.3 406.0Z"/>
<path class="b" color="#ff4100" d="M51.6 404.2L51.5 403.0L51.8 403.3L52.1 404.7Z"/>
<path class="b" color="#ff3200" d="M51.5 403.0L51.4 401.9L51.6 402.0L51.8 403.3Z"/>
<path class="b" color="#ff2200" d="M51.4 401.9L51.4 400.8L51.6 402.0Z"/>
</g>
<path class="ax" d="M51.4 482.0L155.7 540.7L291.4 496.2M155.7 540.7L152.3 541.8M103.6 511.3L100.2 512.4M51.4 482.0L48.0 483.1M155.7 540.7L158.6 542.3M223.5 518.5L226.4 520.1M291.4 496.2L294.2 497.9M51.4 482.0L49.1 480.6M51.4 439.2L49.1 437.9M51.4 396.4L49.0 395.1M51.4 353.6L49.0 352.3"/>
<text class="t" transform="translate(45.8 483.4) scale(1.12 1)" text-anchor="end" font-size="12.2">-400</text>
<text class="t" transform="translate(45.8 440.6) scale(1.12 1)" text-anchor="end" font-size="12.2">-200</text>
<text class="t" transform="translate(45.8 397.8) scale(1.12 1)" text-anchor="end" font-size="12.2">0</text>
<text class="t" transform="translate(45.8 355.1) scale(1.12 1)" text-anchor="end" font-size="12.2">200</text>
<text class="t" transform="translate(45.6 496.7) scale(1.12 1)" text-anchor="end" font-size="12.2">10</text>
<text class="t" transform="translate(97.8 526.0) scale(1.12 1)" text-anchor="end" font-size="12.2">0</text>
<text class="t" transform="translate(149.9 555.4) scale(1.12 1)" text-anchor="end" font-size="12.2">-10</text>
<text class="t" transform="translate(95.7 556.5) scale(0.95 1)" text-anchor="middle" font-size="14.5">t</text>
<text class="t" transform="translate(161.7 556.9) scale(1.12 1)" text-anchor="start" font-size="12.2">-10</text>
<text class="t" transform="translate(229.5 534.7) scale(1.12 1)" text-anchor="start" font-size="12.2">0</text>
<text class="t" transform="translate(297.4 512.5) scale(1.12 1)" text-anchor="start" font-size="12.2">10</text>
<text class="t" transform="translate(222.1 559.9) scale(0.90 1)" text-anchor="middle" font-size="14.5">x</text>
<text class="t" font-size="13.6" text-anchor="middle" transform="translate(12.0 417.4) rotate(-90) scale(0.975 1)">Re(N<tspan font-size="9.5" dy="3.4">5</tspan><tspan dy="-3.4">(x,t))</tspan></text>
<rect x="306.50" y="308.30" width="18.80" height="232.30" fill="url(#jet)"/>
<text class="t" transform="translate(327.0 522.8) scale(1.12 1)" text-anchor="start" font-size="12.2">-300</text>
<text class="t" transform="translate(327.0 491.2) scale(1.12 1)" text-anchor="start" font-size="12.2">-250</text>
<text class="t" transform="translate(327.0 459.6) scale(1.12 1)" text-anchor="start" font-size="12.2">-200</text>
<text class="t" transform="translate(327.0 428.0) scale(1.12 1)" text-anchor="start" font-size="12.2">-150</text>
<text class="t" transform="translate(327.0 396.5) scale(1.12 1)" text-anchor="start" font-size="12.2">-100</text>
<text class="t" transform="translate(327.0 364.9) scale(1.12 1)" text-anchor="start" font-size="12.2">-50</text>
<text class="t" transform="translate(327.0 333.3) scale(1.12 1)" text-anchor="start" font-size="12.2">0</text>
<path class="cbt" d="M306.5 517.7h2.3M325.3 517.7h-2.5M306.5 486.1h2.3M325.3 486.1h-2.5M306.5 454.5h2.3M325.3 454.5h-2.5M306.5 422.9h2.3M325.3 422.9h-2.5M306.5 391.4h2.3M325.3 391.4h-2.5M306.5 359.8h2.3M325.3 359.8h-2.5M306.5 328.2h2.3M325.3 328.2h-2.5"/>
<path class="cbb" d="M325.0 308.3V540.3H306.5"/>
<rect x="390.00" y="310.90" width="238.90" height="222.10" fill="url(#dg1)"/>
<text class="t" transform="translate(390.0 547.3) scale(1.12 1)" text-anchor="middle" font-size="12.2">-10</text>
<text class="t" transform="translate(387.4 537.4) scale(1.12 1)" text-anchor="end" font-size="12.2">-10</text>
<text class="t" transform="translate(449.7 547.3) scale(1.12 1)" text-anchor="middle" font-size="12.2">-5</text>
<text class="t" transform="translate(387.4 481.9) scale(1.12 1)" text-anchor="end" font-size="12.2">-5</text>
<text class="t" transform="translate(509.4 547.3) scale(1.12 1)" text-anchor="middle" font-size="12.2">0</text>
<text class="t" transform="translate(387.4 426.4) scale(1.12 1)" text-anchor="end" font-size="12.2">0</text>
<text class="t" transform="translate(569.2 547.3) scale(1.12 1)" text-anchor="middle" font-size="12.2">5</text>
<text class="t" transform="translate(387.4 370.8) scale(1.12 1)" text-anchor="end" font-size="12.2">5</text>
<text class="t" transform="translate(628.9 547.3) scale(1.12 1)" text-anchor="middle" font-size="12.2">10</text>
<text class="t" transform="translate(387.4 315.3) scale(1.12 1)" text-anchor="end" font-size="12.2">10</text>
<text class="t" transform="translate(508.9 560.6) scale(0.90 1)" text-anchor="middle" font-size="14.5">x</text>
<text class="t" font-size="14.5" text-anchor="middle" transform="translate(364.0 422.8) rotate(-90) scale(0.95 1)">t</text>
<rect x="641.05" y="310.20" width="18.15" height="223.20" fill="url(#jet)"/>
<text class="t" transform="translate(660.9 515.2) scale(1.12 1)" text-anchor="start" font-size="12.2">-300</text>
<text class="t" transform="translate(660.9 485.0) scale(1.12 1)" text-anchor="start" font-size="12.2">-250</text>
<text class="t" transform="translate(660.9 454.9) scale(1.12 1)" text-anchor="start" font-size="12.2">-200</text>
<text class="t" transform="translate(660.9 424.7) scale(1.12 1)" text-anchor="start" font-size="12.2">-150</text>
<text class="t" transform="translate(660.9 394.5) scale(1.12 1)" text-anchor="start" font-size="12.2">-100</text>
<text class="t" transform="translate(660.9 364.3) scale(1.12 1)" text-anchor="start" font-size="12.2">-50</text>
<text class="t" transform="translate(660.9 334.1) scale(1.12 1)" text-anchor="start" font-size="12.2">0</text>
<path class="cbt" d="M641.0 510.1h2.3M659.2 510.1h-2.5M641.0 479.9h2.3M659.2 479.9h-2.5M641.0 449.8h2.3M659.2 449.8h-2.5M641.0 419.6h2.3M659.2 419.6h-2.5M641.0 389.4h2.3M659.2 389.4h-2.5M641.0 359.2h2.3M659.2 359.2h-2.5M641.0 329.0h2.3M659.2 329.0h-2.5"/>
<path class="cbb" d="M658.9 310.2V533.1H641.0"/>
<text class="rn" x="341.9" y="594.3" text-anchor="middle" letter-spacing="-0.80">(ii)</text>
<path class="gd" d="M51.5 787.6L187.1 742.8M187.1 742.8L291.4 801.6M51.5 755.6L187.1 710.8M187.1 710.8L291.4 769.6M51.4 723.6L187.1 678.8M187.1 678.8L291.3 737.6M51.4 691.6L187.1 646.7M187.1 646.7L291.3 705.6M51.4 659.5L187.0 614.7M187.0 614.7L291.3 673.5M51.5 787.6L51.4 659.5M155.7 846.5L51.5 787.6M119.3 765.2L119.2 637.1M223.6 824.1L119.3 765.2M187.1 742.8L187.0 614.7M291.4 801.6L187.1 742.8M291.4 801.6L291.3 673.5M155.7 846.5L291.4 801.6M239.3 772.2L239.2 644.1M103.6 817.1L239.3 772.2M187.1 742.8L187.0 614.7M51.5 787.6L187.1 742.8"/>
<g class="sf">
<path color="#0000e3" d="M291.2 765.6L291.4 765.4L291.3 765.7Z"/>
<path color="#0000d3" d="M290.8 766.6L291.2 765.6L291.3 765.7L291.2 766.9Z"/>
<path color="#0000c2" d="M290.4 767.5L290.8 766.6L291.2 766.9L291.1 768.2Z"/>
<path color="#0000b2" d="M289.9 768.4L290.4 767.5L291.1 768.2L291.0 769.4Z"/>
<path color="#0000a3" d="M289.3 769.3L289.9 768.4L291.0 769.4L290.8 770.6Z"/>
<path color="#000095" d="M288.1 769.8L289.3 769.3L290.8 770.6L290.5 771.9Z"/>
<path class="b" color="#000095" d="M290.3 771.5L290.5 771.9L288.1 769.8L287.4 768.9Z"/>
<path class="b" color="#0000a5" d="M290.2 770.4L290.3 771.5L287.4 768.9L286.9 767.4Z"/>
<path class="b" color="#0000b9" d="M290.1 769.2L290.2 770.4L286.9 767.4L286.5 766.0Z"/>
<path class="b" color="#0000cc" d="M290.0 768.0L290.1 769.2L286.5 766.0L286.2 764.7Z"/>
<path class="b" color="#0000de" d="M290.0 766.9L290.0 768.0L286.2 764.7L286.0 763.4Z"/>
<path class="b" color="#0000f0" d="M289.9 765.7L290.0 766.9L286.0 763.4L285.8 762.0Z"/>
<path class="b" color="#0003ff" d="M289.9 764.5L289.9 765.7L285.8 762.0L285.6 760.8Z"/>
<path class="b" color="#0014ff" d="M289.8 763.3L289.9 764.5L285.6 760.8L285.4 759.5Z"/>
<path class="b" color="#0026ff" d="M289.8 762.2L289.8 763.3L285.4 759.5L285.2 758.2Z"/>
<path class="b" color="#0037ff" d="M289.7 761.0L289.8 762.2L285.2 758.2L285.1 756.9Z"/>
<path class="b" color="#0048ff" d="M289.7 759.8L289.7 761.0L285.1 756.9L284.9 755.7Z"/>
<path class="b" color="#0059ff" d="M289.6 758.6L289.7 759.8L284.9 755.7L284.8 754.4Z"/>
<path class="b" color="#006aff" d="M289.6 757.5L289.6 758.6L284.8 754.4L284.7 753.1Z"/>
<path class="b" color="#007bff" d="M289.6 756.3L289.6 757.5L284.7 753.1L284.5 751.9Z"/>
<path class="b" color="#008cff" d="M289.5 755.1L289.6 756.3L284.5 751.9L284.4 750.6Z"/>
<path class="b" color="#009cff" d="M289.5 753.9L289.5 755.1L284.4 750.6L284.3 749.3Z"/>
<path class="b" color="#00adff" d="M289.5 752.8L289.5 753.9L284.3 749.3L284.2 748.1Z"/>
<path class="b" color="#00beff" d="M289.4 751.6L289.5 752.8L284.2 748.1L284.1 746.8Z"/>
<path class="b" color="#00cfff" d="M289.4 750.4L289.4 751.6L284.1 746.8L283.9 745.6Z"/>
<path class="b" color="#00dfff" d="M289.4 749.2L289.4 750.4L283.9 745.6L283.8 744.3Z"/>
<path class="b" color="#00f0ff" d="M289.4 748.0L289.4 749.2L283.8 744.3L283.7 743.1Z"/>
<path class="b" color="#01fffe" d="M289.3 746.9L289.4 748.0L283.7 743.1L283.6 741.8Z"/>
<path class="b" color="#11ffee" d="M289.3 745.7L289.3 746.9L283.6 741.8L283.5 740.6Z"/>
<path class="b" color="#22ffdd" d="M289.3 744.5L289.3 745.7L283.5 740.6L283.4 739.4Z"/>
<path class="b" color="#32ffcd" d="M289.2 743.3L289.3 744.5L283.4 739.4L283.3 738.1Z"/>
<path class="b" color="#43ffbc" d="M289.2 742.2L289.2 743.3L283.3 738.1L283.2 736.9Z"/>
<path class="b" color="#53ffac" d="M289.2 741.0L289.2 742.2L283.2 736.9L283.1 735.6Z"/>
<path class="b" color="#63ff9c" d="M289.2 739.8L289.2 741.0L283.1 735.6L283.0 734.4Z"/>
<path class="b" color="#74ff8b" d="M289.1 738.6L289.2 739.8L283.0 734.4L282.9 733.2Z"/>
<path class="b" color="#84ff7b" d="M289.1 737.5L289.1 738.6L282.9 733.2L282.8 731.9Z"/>
<path class="b" color="#95ff6a" d="M289.1 736.3L289.1 737.5L282.8 731.9L282.7 730.7Z"/>
<path class="b" color="#a5ff5a" d="M289.1 735.1L289.1 736.3L282.7 730.7L282.6 729.4Z"/>
<path class="b" color="#b5ff4a" d="M289.0 733.9L289.1 735.1L282.6 729.4L282.5 728.2Z"/>
<path class="b" color="#c6ff39" d="M289.0 732.8L289.0 733.9L282.5 728.2L282.4 727.0Z"/>
<path class="b" color="#d6ff29" d="M289.0 731.6L289.0 732.8L282.4 727.0L282.3 725.7Z"/>
<path class="b" color="#e7ff18" d="M288.9 730.4L289.0 731.6L282.3 725.7L282.2 724.5Z"/>
<path class="b" color="#f7ff08" d="M288.9 729.3L288.9 730.4L282.2 724.5L282.1 723.2Z"/>
<path class="b" color="#fff700" d="M288.9 728.1L288.9 729.3L282.1 723.2L282.0 722.0Z"/>
<path class="b" color="#ffe600" d="M288.9 726.9L288.9 728.1L282.0 722.0L281.8 720.7Z"/>
<path class="b" color="#ffd600" d="M288.8 725.7L288.9 726.9L281.8 720.7L281.7 719.5Z"/>
<path class="b" color="#ffc500" d="M288.8 724.6L288.8 725.7L281.7 719.5L281.6 718.3Z"/>
<path class="b" color="#ffb500" d="M288.8 723.4L288.8 724.6L281.6 718.3L281.5 717.0Z"/>
<path class="b" color="#ffa400" d="M288.7 722.2L288.8 723.4L281.5 717.0L281.4 715.8Z"/>
<path class="b" color="#ff9300" d="M288.7 721.1L288.7 722.2L281.4 715.8L281.3 714.5Z"/>
<path class="b" color="#ff8300" d="M288.7 719.9L288.7 721.1L281.3 714.5L281.1 713.3Z"/>
<path class="b" color="#ff7200" d="M288.6 718.7L288.7 719.9L281.1 713.3L281.0 712.0Z"/>
<path class="b" color="#ff6100" d="M288.6 717.6L288.6 718.7L281.0 712.0L280.9 710.8Z"/>
<path class="b" color="#ff5000" d="M288.6 716.4L288.6 717.6L280.9 710.8L280.7 709.5Z"/>
<path class="b" color="#ff3f00" d="M288.5 715.2L288.6 716.4L280.7 709.5L280.6 708.2Z"/>
<path class="b" color="#ff2e00" d="M288.5 714.0L288.5 715.2L280.6 708.2L280.4 706.9Z"/>
<path class="b" color="#ff1d00" d="M288.4 712.8L288.5 714.0L280.4 706.9L280.3 705.6Z"/>
<path class="b" color="#ff0b00" d="M288.4 711.7L288.4 712.8L280.3 705.6L280.1 704.4Z"/>
<path class="b" color="#f90000" d="M288.3 710.5L288.4 711.7L280.1 704.4L279.9 703.1Z"/>
<path class="b" color="#e70000" d="M288.3 709.3L288.3 710.5L279.9 703.1L279.7 701.7Z"/>
<path class="b" color="#d50000" d="M288.2 708.2L288.3 709.3L279.7 701.7L279.4 700.4Z"/>
<path class="b" color="#c20000" d="M288.1 707.0L288.2 708.2L279.4 700.4L279.1 699.0Z"/>
<path class="b" color="#af0000" d="M288.0 705.8L288.1 707.0L279.1 699.0L278.7 697.6Z"/>
<path class="b" color="#9a0000" d="M287.7 704.7L288.0 705.8L278.7 697.6L277.6 695.8Z"/>
<path color="#900000" d="M276.8 696.0L277.6 695.8L287.7 704.7L287.5 705.4Z"/>
<path color="#9a0000" d="M276.1 696.8L276.8 696.0L287.5 705.4L287.3 706.7Z"/>
<path color="#a90000" d="M275.6 697.7L276.1 696.8L287.3 706.7L287.2 707.9Z"/>
<path color="#b90000" d="M275.1 698.6L275.6 697.7L287.2 707.9L287.1 709.2Z"/>
<path color="#c90000" d="M274.7 699.6L275.1 698.6L287.1 709.2L287.0 710.4Z"/>
<path color="#da0000" d="M274.3 700.5L274.7 699.6L287.0 710.4L286.9 711.6Z"/>
<path color="#eb0000" d="M273.8 701.5L274.3 700.5L286.9 711.6L286.8 712.9Z"/>
<path color="#fc0000" d="M273.4 702.5L273.8 701.5L286.8 712.9L286.7 714.1Z"/>
<path color="#ff0e00" d="M273.0 703.4L273.4 702.5L286.7 714.1L286.6 715.3Z"/>
<path color="#ff2000" d="M272.6 704.4L273.0 703.4L286.6 715.3L286.4 716.6Z"/>
<path color="#ff3100" d="M272.2 705.3L272.6 704.4L286.4 716.6L286.3 717.8Z"/>
<path color="#ff4300" d="M271.7 706.3L272.2 705.3L286.3 717.8L286.2 719.0Z"/>
<path color="#ff5400" d="M271.2 707.2L271.7 706.3L286.2 719.0L286.1 720.3Z"/>
<path color="#ff6600" d="M270.7 708.1L271.2 707.2L286.1 720.3L286.0 721.5Z"/>
<path color="#ff7800" d="M270.2 709.0L270.7 708.1L286.0 721.5L285.8 722.7Z"/>
<path color="#ff8a00" d="M269.6 709.9L270.2 709.0L285.8 722.7L285.7 724.0Z"/>
<path color="#ff9c00" d="M269.0 710.7L269.6 709.9L285.7 724.0L285.5 725.2Z"/>
<path color="#ffae00" d="M268.4 711.5L269.0 710.7L285.5 725.2L285.3 726.5Z"/>
<path color="#ffc000" d="M267.6 712.3L268.4 711.5L285.3 726.5L285.2 727.7Z"/>
<path color="#ffd200" d="M266.8 713.1L267.6 712.3L285.2 727.7L284.9 729.0Z"/>
<path color="#ffe500" d="M265.9 713.7L266.8 713.1L284.9 729.0L284.7 730.3Z"/>
<path color="#fff700" d="M264.8 714.3L265.9 713.7L284.7 730.3L284.4 731.6Z"/>
<path color="#f5ff0a" d="M263.5 714.8L264.8 714.3L284.4 731.6L284.1 732.9Z"/>
<path color="#e3ff1c" d="M261.9 715.1L263.5 714.8L284.1 732.9L283.7 734.2Z"/>
<path color="#d1ff2e" d="M259.9 715.2L261.9 715.1L283.7 734.2L283.2 735.6Z"/>
<path color="#bfff40" d="M257.1 714.8L259.9 715.2L283.2 735.6L282.4 737.0Z"/>
<path color="#aeff51" d="M254.0 714.0L257.1 714.8L282.4 737.0L281.6 738.2Z"/>
<path color="#a2ff5d" d="M250.9 712.8L254.0 714.0L281.6 738.2L280.8 739.2Z"/>
<path color="#9aff65" d="M247.8 711.5L250.9 712.8L280.8 739.2L280.0 739.9Z"/>
<path color="#94ff6b" d="M244.6 710.1L247.8 711.5L280.0 739.9L279.2 740.5Z"/>
<path color="#8fff70" d="M241.5 708.6L244.6 710.1L279.2 740.5L278.4 741.0Z"/>
<path color="#8cff73" d="M238.4 707.1L241.5 708.6L278.4 741.0L277.6 741.5Z"/>
<path color="#89ff76" d="M235.3 705.5L238.4 707.1L277.6 741.5L276.7 741.9Z"/>
<path color="#87ff78" d="M232.1 703.8L235.3 705.5L276.7 741.9L275.9 742.3Z"/>
<path color="#85ff7a" d="M229.0 702.2L232.1 703.8L275.9 742.3L275.1 742.7Z"/>
<path color="#83ff7c" d="M225.9 700.5L229.0 702.2L275.1 742.7L274.3 743.1Z"/>
<path color="#82ff7d" d="M222.7 698.9L225.9 700.5L274.3 743.1L273.5 743.5Z"/>
<path color="#80ff7f" d="M219.6 697.2L222.7 698.9L273.5 743.5L272.7 743.8Z"/>
<path color="#7fff80" d="M216.5 695.5L219.6 697.2L272.7 743.8L271.9 744.2Z"/>
<path color="#7dff82" d="M213.4 693.9L216.5 695.5L271.9 744.2L271.0 744.6Z"/>
<path color="#7bff84" d="M210.2 692.2L213.4 693.9L271.0 744.6L270.2 745.0Z"/>
<path color="#79ff86" d="M207.1 690.6L210.2 692.2L270.2 745.0L269.4 745.4Z"/>
<path color="#77ff88" d="M204.0 689.0L207.1 690.6L269.4 745.4L268.6 745.9Z"/>
<path color="#73ff8c" d="M200.9 687.5L204.0 689.0L268.6 745.9L267.8 746.4Z"/>
<path color="#6fff90" d="M197.7 686.0L200.9 687.5L267.8 746.4L267.0 746.9Z"/>
<path color="#6aff95" d="M194.6 684.7L197.7 686.0L267.0 746.9L266.2 747.6Z"/>
<path color="#63ff9c" d="M191.5 683.5L194.6 684.7L266.2 747.6L265.3 748.4Z"/>
<path color="#59ffa6" d="M188.3 682.5L191.5 683.5L265.3 748.4L264.5 749.5Z"/>
<path color="#4affb5" d="M186.6 683.1L187.1 682.2L188.3 682.5L264.5 749.5L263.7 750.9Z"/>
<path color="#38ffc7" d="M186.0 684.5L186.6 683.1L263.7 750.9L263.1 752.3Z"/>
<path color="#26ffd9" d="M185.5 685.8L186.0 684.5L263.1 752.3L262.7 753.7Z"/>
<path color="#14ffeb" d="M185.2 687.1L185.5 685.8L262.7 753.7L262.3 755.0Z"/>
<path color="#02fffd" d="M184.9 688.4L185.2 687.1L262.3 755.0L262.0 756.3Z"/>
<path color="#00efff" d="M184.6 689.7L184.9 688.4L262.0 756.3L261.7 757.6Z"/>
<path color="#00dcff" d="M184.4 691.0L184.6 689.7L261.7 757.6L261.5 758.8Z"/>
<path color="#00caff" d="M184.2 692.3L184.4 691.0L261.5 758.8L261.3 760.1Z"/>
<path color="#00b8ff" d="M184.0 693.5L184.2 692.3L261.3 760.1L261.1 761.3Z"/>
<path color="#00a6ff" d="M183.9 694.8L184.0 693.5L261.1 761.3L261.0 762.6Z"/>
<path color="#0094ff" d="M183.7 696.0L183.9 694.8L261.0 762.6L260.8 763.8Z"/>
<path color="#0082ff" d="M183.6 697.3L183.7 696.0L260.8 763.8L260.7 765.1Z"/>
<path color="#0070ff" d="M183.4 698.5L183.6 697.3L260.7 765.1L260.5 766.3Z"/>
<path color="#005eff" d="M183.3 699.7L183.4 698.5L260.5 766.3L260.4 767.5Z"/>
<path color="#004dff" d="M183.2 701.0L183.3 699.7L260.4 767.5L260.3 768.8Z"/>
<path color="#003bff" d="M183.1 702.2L183.2 701.0L260.3 768.8L260.2 770.0Z"/>
<path color="#002aff" d="M183.0 703.4L183.1 702.2L260.2 770.0L260.1 771.2Z"/>
<path color="#0018ff" d="M182.9 704.7L183.0 703.4L260.1 771.2L260.0 772.5Z"/>
<path color="#0007ff" d="M182.7 705.9L182.9 704.7L260.0 772.5L259.9 773.7Z"/>
<path color="#0000f4" d="M182.6 707.1L182.7 705.9L259.9 773.7L259.8 774.9Z"/>
<path color="#0000e3" d="M182.5 708.3L182.6 707.1L259.8 774.9L259.7 776.2Z"/>
<path color="#0000d3" d="M182.4 709.6L182.5 708.3L259.7 776.2L259.5 777.4Z"/>
<path color="#0000c2" d="M182.3 710.8L182.4 709.6L259.5 777.4L259.4 778.6Z"/>
<path color="#0000b2" d="M182.2 712.0L182.3 710.8L259.4 778.6L259.3 779.9Z"/>
<path color="#0000a3" d="M182.0 713.3L182.2 712.0L259.3 779.9L259.2 781.1Z"/>
<path color="#000095" d="M181.7 714.6L182.0 713.3L259.2 781.1L258.8 782.4Z"/>
<path class="b" color="#000095" d="M258.7 782.0L258.8 782.4L181.7 714.6L181.5 714.2Z"/>
<path class="b" color="#0000a5" d="M258.5 780.8L258.7 782.0L181.5 714.2L181.4 713.0Z"/>
<path class="b" color="#0000b9" d="M258.4 779.7L258.5 780.8L181.4 713.0L181.3 711.9Z"/>
<path class="b" color="#0000cc" d="M258.3 778.5L258.4 779.7L181.3 711.9L181.2 710.7Z"/>
<path class="b" color="#0000de" d="M258.3 777.3L258.3 778.5L181.2 710.7L181.2 709.5Z"/>
<path class="b" color="#0000f0" d="M258.2 776.2L258.3 777.3L181.2 709.5L181.1 708.3Z"/>
<path class="b" color="#0003ff" d="M258.2 775.0L258.2 776.2L181.1 708.3L181.1 707.2Z"/>
<path class="b" color="#0014ff" d="M258.1 773.8L258.2 775.0L181.1 707.2L181.0 706.0Z"/>
<path class="b" color="#0025ff" d="M258.1 772.6L258.1 773.8L181.0 706.0L181.0 704.8Z"/>
<path class="b" color="#0037ff" d="M258.0 771.5L258.1 772.6L181.0 704.8L180.9 703.7Z"/>
<path class="b" color="#0048ff" d="M258.0 770.3L258.0 771.5L180.9 703.7L180.9 702.5Z"/>
<path class="b" color="#0059ff" d="M258.0 769.1L258.0 770.3L180.9 702.5L180.9 701.3Z"/>
<path class="b" color="#006aff" d="M257.9 767.9L258.0 769.1L180.9 701.3L180.8 700.1Z"/>
<path class="b" color="#007bff" d="M257.9 766.8L257.9 767.9L180.8 700.1L180.8 698.9Z"/>
<path class="b" color="#008cff" d="M257.9 765.6L257.9 766.8L180.8 698.9L180.7 697.8Z"/>
<path class="b" color="#009cff" d="M257.8 764.4L257.9 765.6L180.7 697.8L180.7 696.6Z"/>
<path class="b" color="#00adff" d="M257.8 763.2L257.8 764.4L180.7 696.6L180.7 695.4Z"/>
<path class="b" color="#00beff" d="M257.8 762.0L257.8 763.2L180.7 695.4L180.7 694.2Z"/>
<path class="b" color="#00ceff" d="M257.7 760.9L257.8 762.0L180.7 694.2L180.6 693.0Z"/>
<path class="b" color="#00dfff" d="M257.7 759.7L257.7 760.9L180.6 693.0L180.6 691.9Z"/>
<path class="b" color="#00efff" d="M257.7 758.5L257.7 759.7L180.6 691.9L180.6 690.7Z"/>
<path class="b" color="#01fffe" d="M257.7 757.3L257.7 758.5L180.6 690.7L180.5 689.5Z"/>
<path class="b" color="#11ffee" d="M257.6 756.2L257.7 757.3L180.5 689.5L180.5 688.4Z"/>
<path class="b" color="#22ffdd" d="M257.6 755.0L257.6 756.2L180.5 688.4L180.5 687.2Z"/>
<path class="b" color="#32ffcd" d="M257.6 753.8L257.6 755.0L180.5 687.2L180.5 686.0Z"/>
<path class="b" color="#43ffbc" d="M257.5 752.6L257.6 753.8L180.5 686.0L180.4 684.8Z"/>
<path class="b" color="#53ffac" d="M257.5 751.5L257.5 752.6L180.4 684.8L180.4 683.7Z"/>
<path class="b" color="#63ff9c" d="M257.5 750.3L257.5 751.5L180.4 683.7L180.4 682.5Z"/>
<path class="b" color="#74ff8b" d="M257.5 749.1L257.5 750.3L180.4 682.5L180.3 681.3Z"/>
<path class="b" color="#84ff7b" d="M257.4 747.9L257.5 749.1L180.3 681.3L180.3 680.1Z"/>
<path class="b" color="#95ff6a" d="M257.4 746.8L257.4 747.9L180.3 680.1L180.3 678.9Z"/>
<path class="b" color="#a5ff5a" d="M257.4 745.6L257.4 746.8L180.3 678.9L180.3 677.8Z"/>
<path class="b" color="#b5ff4a" d="M257.4 744.4L257.4 745.6L180.3 677.8L180.2 676.6Z"/>
<path class="b" color="#c6ff39" d="M257.3 743.3L257.4 744.4L180.2 676.6L180.2 675.4Z"/>
<path class="b" color="#d6ff29" d="M257.3 742.1L257.3 743.3L180.2 675.4L180.2 674.3Z"/>
<path class="b" color="#e6ff19" d="M257.3 740.9L257.3 742.1L180.2 674.3L180.1 673.1Z"/>
<path class="b" color="#f7ff08" d="M257.2 739.7L257.3 740.9L180.1 673.1L180.1 671.9Z"/>
<path class="b" color="#fff700" d="M257.2 738.6L257.2 739.7L180.1 671.9L180.1 670.8Z"/>
<path class="b" color="#ffe600" d="M257.2 737.4L257.2 738.6L180.1 670.8L180.1 669.6Z"/>
<path class="b" color="#ffd600" d="M257.2 736.2L257.2 737.4L180.1 669.6L180.0 668.4Z"/>
<path class="b" color="#ffc500" d="M257.1 735.1L257.2 736.2L180.0 668.4L180.0 667.2Z"/>
<path class="b" color="#ffb500" d="M257.1 733.9L257.1 735.1L180.0 667.2L180.0 666.1Z"/>
<path class="b" color="#ffa400" d="M257.1 732.7L257.1 733.9L180.0 666.1L179.9 664.9Z"/>
<path class="b" color="#ff9400" d="M257.0 731.5L257.1 732.7L179.9 664.9L179.9 663.7Z"/>
<path class="b" color="#ff8300" d="M257.0 730.4L257.0 731.5L179.9 663.7L179.9 662.5Z"/>
<path class="b" color="#ff7200" d="M257.0 729.2L257.0 730.4L179.9 662.5L179.8 661.4Z"/>
<path class="b" color="#ff6100" d="M256.9 728.0L257.0 729.2L179.8 661.4L179.8 660.2Z"/>
<path class="b" color="#ff5000" d="M256.9 726.9L256.9 728.0L179.8 660.2L179.8 659.0Z"/>
<path class="b" color="#ff3f00" d="M256.8 725.7L256.9 726.9L179.8 659.0L179.7 657.9Z"/>
<path class="b" color="#ff2e00" d="M256.8 724.5L256.8 725.7L179.7 657.9L179.7 656.7Z"/>
<path class="b" color="#ff1d00" d="M256.8 723.3L256.8 724.5L179.7 656.7L179.6 655.5Z"/>
<path class="b" color="#ff0b00" d="M256.7 722.2L256.8 723.3L179.6 655.5L179.6 654.3Z"/>
<path class="b" color="#f90000" d="M256.7 721.0L256.7 722.2L179.6 654.3L179.5 653.2Z"/>
<path class="b" color="#e70000" d="M256.6 719.8L256.7 721.0L179.5 653.2L179.5 652.0Z"/>
<path class="b" color="#d50000" d="M256.5 718.6L256.6 719.8L179.5 652.0L179.4 650.8Z"/>
<path class="b" color="#c20000" d="M256.5 717.5L256.5 718.6L179.4 650.8L179.3 649.6Z"/>
<path class="b" color="#af0000" d="M256.4 716.3L256.5 717.5L179.3 649.6L179.2 648.5Z"/>
<path class="b" color="#9a0000" d="M256.1 715.2L256.4 716.3L179.2 648.5L179.0 647.4Z"/>
<path color="#900000" d="M178.7 648.1L179.0 647.4L256.1 715.2L255.8 715.9Z"/>
<path color="#9a0000" d="M178.6 649.3L178.7 648.1L255.8 715.9L255.7 717.2Z"/>
<path color="#a90000" d="M178.4 650.6L178.6 649.3L255.7 717.2L255.5 718.4Z"/>
<path color="#b90000" d="M178.3 651.8L178.4 650.6L255.5 718.4L255.4 719.6Z"/>
<path color="#c90000" d="M178.2 653.0L178.3 651.8L255.4 719.6L255.3 720.9Z"/>
<path color="#da0000" d="M178.1 654.3L178.2 653.0L255.3 720.9L255.2 722.1Z"/>
<path color="#eb0000" d="M178.0 655.5L178.1 654.3L255.2 722.1L255.1 723.3Z"/>
<path color="#fc0000" d="M177.9 656.7L178.0 655.5L255.1 723.3L255.0 724.6Z"/>
<path color="#ff0e00" d="M177.8 658.0L177.9 656.7L255.0 724.6L254.9 725.8Z"/>
<path color="#ff2000" d="M177.6 659.2L177.8 658.0L254.9 725.8L254.8 727.0Z"/>
<path color="#ff3100" d="M177.5 660.4L177.6 659.2L254.8 727.0L254.7 728.3Z"/>
<path color="#ff4300" d="M177.4 661.7L177.5 660.4L254.7 728.3L254.5 729.5Z"/>
<path color="#ff5400" d="M177.3 662.9L177.4 661.7L254.5 729.5L254.4 730.7Z"/>
<path color="#ff6600" d="M177.2 664.1L177.3 662.9L254.4 730.7L254.3 732.0Z"/>
<path color="#ff7800" d="M177.0 665.4L177.2 664.1L254.3 732.0L254.2 733.2Z"/>
<path color="#ff8a00" d="M176.9 666.6L177.0 665.4L254.2 733.2L254.0 734.5Z"/>
<path color="#ff9c00" d="M176.7 667.9L176.9 666.6L254.0 734.5L253.8 735.7Z"/>
<path color="#ffae00" d="M176.6 669.1L176.7 667.9L253.8 735.7L253.7 737.0Z"/>
<path color="#ffc000" d="M176.4 670.4L176.6 669.1L253.7 737.0L253.5 738.2Z"/>
<path color="#ffd200" d="M176.1 671.7L176.4 670.4L253.5 738.2L253.3 739.5Z"/>
<path color="#ffe400" d="M175.9 672.9L176.1 671.7L253.3 739.5L253.0 740.8Z"/>
<path color="#fff700" d="M175.6 674.2L175.9 672.9L253.0 740.8L252.7 742.0Z"/>
<path color="#f5ff0a" d="M175.3 675.5L175.6 674.2L252.7 742.0L252.4 743.4Z"/>
<path color="#e3ff1c" d="M174.9 676.9L175.3 675.5L252.4 743.4L252.0 744.7Z"/>
<path color="#d1ff2e" d="M174.4 678.2L174.9 676.9L252.0 744.7L251.5 746.1Z"/>
<path color="#bfff40" d="M173.6 679.7L174.4 678.2L251.5 746.1L250.8 747.5Z"/>
<path color="#afff50" d="M172.8 680.9L173.6 679.7L250.8 747.5L250.0 748.7Z"/>
<path color="#a3ff5c" d="M172.0 681.8L172.8 680.9L250.0 748.7L249.1 749.6Z"/>
<path color="#9aff65" d="M171.2 682.5L172.0 681.8L249.1 749.6L248.3 750.4Z"/>
<path color="#94ff6b" d="M170.4 683.2L171.2 682.5L248.3 750.4L247.5 751.0Z"/>
<path color="#8fff70" d="M169.6 683.7L170.4 683.2L247.5 751.0L246.7 751.5Z"/>
<path color="#8cff73" d="M168.8 684.2L169.6 683.7L246.7 751.5L245.9 752.0Z"/>
<path color="#89ff76" d="M167.9 684.6L168.8 684.2L245.9 752.0L245.1 752.4Z"/>
<path color="#87ff78" d="M167.1 685.0L167.9 684.6L245.1 752.4L244.3 752.8Z"/>
<path color="#85ff7a" d="M166.3 685.4L167.1 685.0L244.3 752.8L243.4 753.2Z"/>
<path color="#83ff7c" d="M165.5 685.8L166.3 685.4L243.4 753.2L242.6 753.6Z"/>
<path color="#82ff7d" d="M164.7 686.1L165.5 685.8L242.6 753.6L241.8 753.9Z"/>
<path color="#80ff7f" d="M163.9 686.5L164.7 686.1L241.8 753.9L241.0 754.3Z"/>
<path color="#7fff80" d="M163.1 686.9L163.9 686.5L241.0 754.3L240.2 754.7Z"/>
<path color="#7dff82" d="M162.3 687.3L163.1 686.9L240.2 754.7L239.4 755.1Z"/>
<path color="#7bff84" d="M161.4 687.6L162.3 687.3L239.4 755.1L238.6 755.5Z"/>
<path color="#79ff86" d="M160.6 688.1L161.4 687.6L238.6 755.5L237.7 755.9Z"/>
<path color="#77ff88" d="M159.8 688.5L160.6 688.1L237.7 755.9L236.9 756.3Z"/>
<path color="#73ff8c" d="M159.0 689.0L159.8 688.5L236.9 756.3L236.1 756.8Z"/>
<path color="#6fff90" d="M158.2 689.6L159.0 689.0L236.1 756.8L235.3 757.4Z"/>
<path color="#6aff95" d="M157.4 690.3L158.2 689.6L235.3 757.4L234.5 758.1Z"/>
<path color="#63ff9c" d="M156.6 691.1L157.4 690.3L234.5 758.1L233.7 758.9Z"/>
<path color="#59ffa6" d="M155.7 692.1L156.6 691.1L233.7 758.9L232.9 760.0Z"/>
<path color="#4affb5" d="M154.9 693.6L155.7 692.1L232.9 760.0L232.1 761.4Z"/>
<path color="#38ffc7" d="M154.3 694.9L154.9 693.6L232.1 761.4L231.5 762.8Z"/>
<path color="#26ffd9" d="M153.9 696.3L154.3 694.9L231.5 762.8L231.0 764.1Z"/>
<path color="#14ffeb" d="M153.5 697.6L153.9 696.3L231.0 764.1L230.6 765.4Z"/>
<path color="#02fffd" d="M153.2 698.9L153.5 697.6L230.6 765.4L230.3 766.7Z"/>
<path color="#00efff" d="M153.0 700.2L153.2 698.9L230.3 766.7L230.1 768.0Z"/>
<path color="#00dcff" d="M152.7 701.5L153.0 700.2L230.1 768.0L229.8 769.3Z"/>
<path color="#00caff" d="M152.5 702.7L152.7 701.5L229.8 769.3L229.6 770.6Z"/>
<path color="#00b8ff" d="M152.3 704.0L152.5 702.7L229.6 770.6L229.5 771.8Z"/>
<path color="#00a6ff" d="M152.2 705.2L152.3 704.0L229.5 771.8L229.3 773.1Z"/>
<path color="#0094ff" d="M152.0 706.5L152.2 705.2L229.3 773.1L229.1 774.3Z"/>
<path color="#0082ff" d="M151.9 707.7L152.0 706.5L229.1 774.3L229.0 775.5Z"/>
<path color="#0070ff" d="M151.8 709.0L151.9 707.7L229.0 775.5L228.9 776.8Z"/>
<path color="#005fff" d="M151.6 710.2L151.8 709.0L228.9 776.8L228.8 778.0Z"/>
<path color="#004dff" d="M151.5 711.4L151.6 710.2L228.8 778.0L228.6 779.3Z"/>
<path color="#003bff" d="M151.4 712.7L151.5 711.4L228.6 779.3L228.5 780.5Z"/>
<path color="#002aff" d="M151.3 713.9L151.4 712.7L228.5 780.5L228.4 781.7Z"/>
<path color="#0018ff" d="M151.2 715.1L151.3 713.9L228.4 781.7L228.3 782.9Z"/>
<path color="#0007ff" d="M151.1 716.4L151.2 715.1L228.3 782.9L228.2 784.2Z"/>
<path color="#0000f5" d="M151.0 717.6L151.1 716.4L228.2 784.2L228.1 785.4Z"/>
<path color="#0000e3" d="M150.9 718.8L151.0 717.6L228.1 785.4L228.0 786.6Z"/>
<path color="#0000d3" d="M150.7 720.0L150.9 718.8L228.0 786.6L227.9 787.9Z"/>
<path color="#0000c2" d="M150.6 721.3L150.7 720.0L227.9 787.9L227.8 789.1Z"/>
<path color="#0000b2" d="M150.5 722.5L150.6 721.3L227.8 789.1L227.6 790.3Z"/>
<path color="#0000a3" d="M150.4 723.8L150.5 722.5L227.6 790.3L227.5 791.6Z"/>
<path color="#000095" d="M150.0 725.1L150.4 723.8L227.5 791.6L227.2 792.9Z"/>
<path class="b" color="#000095" d="M227.0 792.5L227.2 792.9L150.0 725.1L149.9 724.6Z"/>
<path class="b" color="#0000a5" d="M226.8 791.3L227.0 792.5L149.9 724.6L149.7 723.5Z"/>
<path class="b" color="#0000b9" d="M226.7 790.2L226.8 791.3L149.7 723.5L149.6 722.3Z"/>
<path class="b" color="#0000cb" d="M226.7 789.0L226.7 790.2L149.6 722.3L149.6 721.2Z"/>
<path class="b" color="#0000de" d="M226.6 787.8L226.7 789.0L149.6 721.2L149.5 720.0Z"/>
<path class="b" color="#0000f0" d="M226.6 786.6L226.6 787.8L149.5 720.0L149.4 718.8Z"/>
<path class="b" color="#0003ff" d="M226.5 785.5L226.6 786.6L149.4 718.8L149.4 717.6Z"/>
<path class="b" color="#0014ff" d="M226.5 784.3L226.5 785.5L149.4 717.6L149.3 716.5Z"/>
<path class="b" color="#0025ff" d="M226.4 783.1L226.5 784.3L149.3 716.5L149.3 715.3Z"/>
<path class="b" color="#0037ff" d="M226.4 782.0L226.4 783.1L149.3 715.3L149.3 714.1Z"/>
<path class="b" color="#0048ff" d="M226.3 780.8L226.4 782.0L149.3 714.1L149.2 713.0Z"/>
<path class="b" color="#0059ff" d="M226.3 779.6L226.3 780.8L149.2 713.0L149.2 711.8Z"/>
<path class="b" color="#006aff" d="M226.3 778.4L226.3 779.6L149.2 711.8L149.1 710.6Z"/>
<path class="b" color="#007bff" d="M226.2 777.2L226.3 778.4L149.1 710.6L149.1 709.4Z"/>
<path class="b" color="#008bff" d="M226.2 776.1L226.2 777.2L149.1 709.4L149.1 708.2Z"/>
<path class="b" color="#009cff" d="M226.2 774.9L226.2 776.1L149.1 708.2L149.0 707.1Z"/>
<path class="b" color="#00adff" d="M226.1 773.7L226.2 774.9L149.0 707.1L149.0 705.9Z"/>
<path class="b" color="#00beff" d="M226.1 772.5L226.1 773.7L149.0 705.9L149.0 704.7Z"/>
<path class="b" color="#00ceff" d="M226.1 771.3L226.1 772.5L149.0 704.7L148.9 703.5Z"/>
<path class="b" color="#00dfff" d="M226.0 770.2L226.1 771.3L148.9 703.5L148.9 702.3Z"/>
<path class="b" color="#00efff" d="M226.0 769.0L226.0 770.2L148.9 702.3L148.9 701.2Z"/>
<path class="b" color="#01fffe" d="M226.0 767.8L226.0 769.0L148.9 701.2L148.9 700.0Z"/>
<path class="b" color="#11ffee" d="M226.0 766.7L226.0 767.8L148.9 700.0L148.8 698.8Z"/>
<path class="b" color="#22ffdd" d="M225.9 765.5L226.0 766.7L148.8 698.8L148.8 697.7Z"/>
<path class="b" color="#32ffcd" d="M225.9 764.3L225.9 765.5L148.8 697.7L148.8 696.5Z"/>
<path class="b" color="#43ffbc" d="M225.9 763.1L225.9 764.3L148.8 696.5L148.8 695.3Z"/>
<path class="b" color="#53ffac" d="M225.8 762.0L225.9 763.1L148.8 695.3L148.7 694.1Z"/>
<path class="b" color="#63ff9c" d="M225.8 760.8L225.8 762.0L148.7 694.1L148.7 693.0Z"/>
<path class="b" color="#74ff8b" d="M225.8 759.6L225.8 760.8L148.7 693.0L148.7 691.8Z"/>
<path class="b" color="#84ff7b" d="M225.8 758.4L225.8 759.6L148.7 691.8L148.6 690.6Z"/>
<path class="b" color="#95ff6a" d="M225.7 757.2L225.8 758.4L148.6 690.6L148.6 689.4Z"/>
<path class="b" color="#a5ff5a" d="M225.7 756.1L225.7 757.2L148.6 689.4L148.6 688.3Z"/>
<path class="b" color="#b5ff4a" d="M225.7 754.9L225.7 756.1L148.6 688.3L148.6 687.1Z"/>
<path class="b" color="#c6ff39" d="M225.7 753.7L225.7 754.9L148.6 687.1L148.5 685.9Z"/>
<path class="b" color="#d6ff29" d="M225.6 752.6L225.7 753.7L148.5 685.9L148.5 684.7Z"/>
<path class="b" color="#e6ff19" d="M225.6 751.4L225.6 752.6L148.5 684.7L148.5 683.6Z"/>
<path class="b" color="#f7ff08" d="M225.6 750.2L225.6 751.4L148.5 683.6L148.4 682.4Z"/>
<path class="b" color="#fff700" d="M225.5 749.1L225.6 750.2L148.4 682.4L148.4 681.2Z"/>
<path class="b" color="#ffe600" d="M225.5 747.9L225.5 749.1L148.4 681.2L148.4 680.0Z"/>
<path class="b" color="#ffd600" d="M225.5 746.7L225.5 747.9L148.4 680.0L148.4 678.9Z"/>
<path class="b" color="#ffc500" d="M225.4 745.5L225.5 746.7L148.4 678.9L148.3 677.7Z"/>
<path class="b" color="#ffb500" d="M225.4 744.4L225.4 745.5L148.3 677.7L148.3 676.5Z"/>
<path class="b" color="#ffa400" d="M225.4 743.2L225.4 744.4L148.3 676.5L148.3 675.4Z"/>
<path class="b" color="#ff9400" d="M225.4 742.0L225.4 743.2L148.3 675.4L148.2 674.2Z"/>
<path class="b" color="#ff8300" d="M225.3 740.8L225.4 742.0L148.2 674.2L148.2 673.0Z"/>
<path class="b" color="#ff7200" d="M225.3 739.7L225.3 740.8L148.2 673.0L148.2 671.9Z"/>
<path class="b" color="#ff6100" d="M225.2 738.5L225.3 739.7L148.2 671.9L148.1 670.7Z"/>
<path class="b" color="#ff5000" d="M225.2 737.3L225.2 738.5L148.1 670.7L148.1 669.5Z"/>
<path class="b" color="#ff3f00" d="M225.2 736.2L225.2 737.3L148.1 669.5L148.1 668.3Z"/>
<path class="b" color="#ff2e00" d="M225.1 735.0L225.2 736.2L148.1 668.3L148.0 667.2Z"/>
<path class="b" color="#ff1d00" d="M225.1 733.8L225.1 735.0L148.0 667.2L148.0 666.0Z"/>
<path class="b" color="#ff0b00" d="M225.0 732.6L225.1 733.8L148.0 666.0L147.9 664.8Z"/>
<path class="b" color="#f90000" d="M225.0 731.4L225.0 732.6L147.9 664.8L147.9 663.6Z"/>
<path class="b" color="#e70000" d="M224.9 730.3L225.0 731.4L147.9 663.6L147.8 662.4Z"/>
<path class="b" color="#d50000" d="M224.9 729.1L224.9 730.3L147.8 662.4L147.7 661.3Z"/>
<path class="b" color="#c20000" d="M224.8 727.9L224.9 729.1L147.7 661.3L147.7 660.1Z"/>
<path class="b" color="#af0000" d="M224.7 726.8L224.8 727.9L147.7 660.1L147.6 659.0Z"/>
<path class="b" color="#9a0000" d="M224.4 725.7L224.7 726.8L147.6 659.0L147.3 657.8Z"/>
<path color="#900000" d="M147.1 658.6L147.3 657.8L224.4 725.7L224.2 726.4Z"/>
<path color="#9a0000" d="M146.9 659.8L147.1 658.6L224.2 726.4L224.0 727.6Z"/>
<path color="#a90000" d="M146.7 661.1L146.9 659.8L224.0 727.6L223.9 728.9Z"/>
<path color="#b90000" d="M146.6 662.3L146.7 661.1L223.9 728.9L223.7 730.1Z"/>
<path color="#c90000" d="M146.5 663.5L146.6 662.3L223.7 730.1L223.6 731.3Z"/>
<path color="#da0000" d="M146.4 664.8L146.5 663.5L223.6 731.3L223.5 732.6Z"/>
<path color="#eb0000" d="M146.3 666.0L146.4 664.8L223.5 732.6L223.4 733.8Z"/>
<path color="#fc0000" d="M146.2 667.2L146.3 666.0L223.4 733.8L223.3 735.0Z"/>
<path color="#ff0e00" d="M146.1 668.4L146.2 667.2L223.3 735.0L223.2 736.3Z"/>
<path color="#ff2000" d="M146.0 669.7L146.1 668.4L223.2 736.3L223.1 737.5Z"/>
<path color="#ff3100" d="M145.9 670.9L146.0 669.7L223.1 737.5L223.0 738.7Z"/>
<path color="#ff4300" d="M145.7 672.1L145.9 670.9L223.0 738.7L222.9 740.0Z"/>
<path color="#ff5500" d="M145.6 673.4L145.7 672.1L222.9 740.0L222.7 741.2Z"/>
<path color="#ff6600" d="M145.5 674.6L145.6 673.4L222.7 741.2L222.6 742.4Z"/>
<path color="#ff7800" d="M145.4 675.9L145.5 674.6L222.6 742.4L222.5 743.7Z"/>
<path color="#ff8a00" d="M145.2 677.1L145.4 675.9L222.5 743.7L222.3 744.9Z"/>
<path color="#ff9c00" d="M145.1 678.4L145.2 677.1L222.3 744.9L222.2 746.2Z"/>
<path color="#ffae00" d="M144.9 679.6L145.1 678.4L222.2 746.2L222.0 747.4Z"/>
<path color="#ffc000" d="M144.7 680.9L144.9 679.6L222.0 747.4L221.8 748.7Z"/>
<path color="#ffd200" d="M144.5 682.1L144.7 680.9L221.8 748.7L221.6 750.0Z"/>
<path color="#ffe500" d="M144.2 683.4L144.5 682.1L221.6 750.0L221.4 751.2Z"/>
<path color="#fff700" d="M144.0 684.7L144.2 683.4L221.4 751.2L221.1 752.5Z"/>
<path color="#f5ff0a" d="M143.6 686.0L144.0 684.7L221.1 752.5L220.7 753.8Z"/>
<path color="#e3ff1c" d="M143.2 687.3L143.6 686.0L220.7 753.8L220.3 755.2Z"/>
<path color="#d1ff2e" d="M142.7 688.7L143.2 687.3L220.3 755.2L219.8 756.5Z"/>
<path color="#bfff40" d="M142.0 690.2L142.7 688.7L219.8 756.5L219.1 758.0Z"/>
<path color="#aeff51" d="M141.1 691.4L142.0 690.2L219.1 758.0L218.3 759.2Z"/>
<path color="#a2ff5d" d="M140.3 692.3L141.1 691.4L218.3 759.2L217.5 760.1Z"/>
<path color="#9aff65" d="M139.5 693.0L140.3 692.3L217.5 760.1L216.6 760.8Z"/>
<path color="#94ff6b" d="M138.7 693.6L139.5 693.0L216.6 760.8L215.8 761.4Z"/>
<path color="#8fff70" d="M137.9 694.2L138.7 693.6L215.8 761.4L215.0 762.0Z"/>
<path color="#8cff73" d="M137.1 694.6L137.9 694.2L215.0 762.0L214.2 762.5Z"/>
<path color="#89ff76" d="M136.3 695.1L137.1 694.6L214.2 762.5L213.4 762.9Z"/>
<path color="#87ff78" d="M135.5 695.5L136.3 695.1L213.4 762.9L212.6 763.3Z"/>
<path color="#85ff7a" d="M134.6 695.9L135.5 695.5L212.6 763.3L211.8 763.7Z"/>
<path color="#83ff7c" d="M133.8 696.2L134.6 695.9L211.8 763.7L210.9 764.1Z"/>
<path color="#82ff7d" d="M133.0 696.6L133.8 696.2L210.9 764.1L210.1 764.4Z"/>
<path color="#80ff7f" d="M132.2 697.0L133.0 696.6L210.1 764.4L209.3 764.8Z"/>
<path color="#7fff80" d="M131.4 697.3L132.2 697.0L209.3 764.8L208.5 765.2Z"/>
<path color="#7dff82" d="M130.6 697.7L131.4 697.3L208.5 765.2L207.7 765.5Z"/>
<path color="#7bff84" d="M129.8 698.1L130.6 697.7L207.7 765.5L206.9 765.9Z"/>
<path color="#79ff86" d="M128.9 698.5L129.8 698.1L206.9 765.9L206.1 766.4Z"/>
<path color="#76ff89" d="M128.1 699.0L128.9 698.5L206.1 766.4L205.2 766.8Z"/>
<path color="#73ff8c" d="M127.3 699.5L128.1 699.0L205.2 766.8L204.4 767.3Z"/>
<path color="#6fff90" d="M126.5 700.1L127.3 699.5L204.4 767.3L203.6 767.9Z"/>
<path color="#6aff95" d="M125.7 700.7L126.5 700.1L203.6 767.9L202.8 768.6Z"/>
<path color="#63ff9c" d="M124.9 701.6L125.7 700.7L202.8 768.6L202.0 769.4Z"/>
<path color="#59ffa6" d="M124.1 702.6L124.9 701.6L202.0 769.4L201.2 770.4Z"/>
<path color="#4affb5" d="M123.2 704.0L124.1 702.6L201.2 770.4L200.4 771.9Z"/>
<path color="#38ffc7" d="M122.7 705.4L123.2 704.0L200.4 771.9L199.8 773.3Z"/>
<path color="#26ffd9" d="M122.2 706.8L122.7 705.4L199.8 773.3L199.3 774.6Z"/>
<path color="#14ffeb" d="M121.8 708.1L122.2 706.8L199.3 774.6L199.0 775.9Z"/>
<path color="#02fffd" d="M121.5 709.4L121.8 708.1L199.0 775.9L198.7 777.2Z"/>
<path color="#00eeff" d="M121.3 710.7L121.5 709.4L198.7 777.2L198.4 778.5Z"/>
<path color="#00dcff" d="M121.1 711.9L121.3 710.7L198.4 778.5L198.2 779.8Z"/>
<path color="#00caff" d="M120.9 713.2L121.1 711.9L198.2 779.8L198.0 781.0Z"/>
<path color="#00b8ff" d="M120.7 714.5L120.9 713.2L198.0 781.0L197.8 782.3Z"/>
<path color="#00a6ff" d="M120.5 715.7L120.7 714.5L197.8 782.3L197.6 783.5Z"/>
<path color="#0094ff" d="M120.4 717.0L120.5 715.7L197.6 783.5L197.5 784.8Z"/>
<path color="#0082ff" d="M120.2 718.2L120.4 717.0L197.5 784.8L197.3 786.0Z"/>
<path color="#0070ff" d="M120.1 719.4L120.2 718.2L197.3 786.0L197.2 787.3Z"/>
<path color="#005eff" d="M120.0 720.7L120.1 719.4L197.2 787.3L197.1 788.5Z"/>
<path color="#004dff" d="M119.8 721.9L120.0 720.7L197.1 788.5L197.0 789.7Z"/>
<path color="#003bff" d="M119.7 723.1L119.8 721.9L197.0 789.7L196.8 791.0Z"/>
<path color="#0029ff" d="M119.6 724.4L119.7 723.1L196.8 791.0L196.7 792.2Z"/>
<path color="#0018ff" d="M119.5 725.6L119.6 724.4L196.7 792.2L196.6 793.4Z"/>
<path color="#0007ff" d="M119.4 726.8L119.5 725.6L196.6 793.4L196.5 794.7Z"/>
<path color="#0000f4" d="M119.3 728.1L119.4 726.8L196.5 794.7L196.4 795.9Z"/>
<path color="#0000e3" d="M119.2 729.3L119.3 728.1L196.4 795.9L196.3 797.1Z"/>
<path color="#0000d3" d="M119.1 730.5L119.2 729.3L196.3 797.1L196.2 798.3Z"/>
<path color="#0000c2" d="M119.0 731.8L119.1 730.5L196.2 798.3L196.1 799.6Z"/>
<path color="#0000b2" d="M118.8 733.0L119.0 731.8L196.1 799.6L196.0 800.8Z"/>
<path color="#0000a2" d="M118.7 734.2L118.8 733.0L196.0 800.8L195.8 802.1Z"/>
<path color="#000095" d="M118.4 735.5L118.7 734.2L195.8 802.1L195.5 803.4Z"/>
<path class="b" color="#000095" d="M195.3 802.9L195.5 803.4L118.4 735.5L118.2 735.1Z"/>
<path class="b" color="#0000a5" d="M195.2 801.8L195.3 802.9L118.2 735.1L118.0 734.0Z"/>
<path class="b" color="#0000b9" d="M195.1 800.6L195.2 801.8L118.0 734.0L118.0 732.8Z"/>
<path class="b" color="#0000cb" d="M195.0 799.5L195.1 800.6L118.0 732.8L117.9 731.6Z"/>
<path class="b" color="#0000de" d="M194.9 798.3L195.0 799.5L117.9 731.6L117.8 730.5Z"/>
<path class="b" color="#0000f0" d="M194.9 797.1L194.9 798.3L117.8 730.5L117.8 729.3Z"/>
<path class="b" color="#0003ff" d="M194.8 795.9L194.9 797.1L117.8 729.3L117.7 728.1Z"/>
<path class="b" color="#0014ff" d="M194.8 794.8L194.8 795.9L117.7 728.1L117.7 727.0Z"/>
<path class="b" color="#0025ff" d="M194.7 793.6L194.8 794.8L117.7 727.0L117.6 725.8Z"/>
<path class="b" color="#0037ff" d="M194.7 792.4L194.7 793.6L117.6 725.8L117.6 724.6Z"/>
<path class="b" color="#0048ff" d="M194.7 791.3L194.7 792.4L117.6 724.6L117.5 723.4Z"/>
<path class="b" color="#0059ff" d="M194.6 790.1L194.7 791.3L117.5 723.4L117.5 722.3Z"/>
<path class="b" color="#006aff" d="M194.6 788.9L194.6 790.1L117.5 722.3L117.5 721.1Z"/>
<path class="b" color="#007bff" d="M194.6 787.7L194.6 788.9L117.5 721.1L117.4 719.9Z"/>
<path class="b" color="#008bff" d="M194.5 786.5L194.6 787.7L117.4 719.9L117.4 718.7Z"/>
<path class="b" color="#009cff" d="M194.5 785.4L194.5 786.5L117.4 718.7L117.4 717.5Z"/>
<path class="b" color="#00adff" d="M194.5 784.2L194.5 785.4L117.4 717.5L117.3 716.4Z"/>
<path class="b" color="#00beff" d="M194.4 783.0L194.5 784.2L117.3 716.4L117.3 715.2Z"/>
<path class="b" color="#00ceff" d="M194.4 781.8L194.4 783.0L117.3 715.2L117.3 714.0Z"/>
<path class="b" color="#00dfff" d="M194.4 780.6L194.4 781.8L117.3 714.0L117.2 712.8Z"/>
<path class="b" color="#00efff" d="M194.3 779.5L194.4 780.6L117.2 712.8L117.2 711.7Z"/>
<path class="b" color="#01fffe" d="M194.3 778.3L194.3 779.5L117.2 711.7L117.2 710.5Z"/>
<path class="b" color="#11ffee" d="M194.3 777.1L194.3 778.3L117.2 710.5L117.2 709.3Z"/>
<path class="b" color="#22ffdd" d="M194.3 776.0L194.3 777.1L117.2 709.3L117.1 708.1Z"/>
<path class="b" color="#32ffcd" d="M194.2 774.8L194.3 776.0L117.1 708.1L117.1 707.0Z"/>
<path class="b" color="#42ffbd" d="M194.2 773.6L194.2 774.8L117.1 707.0L117.1 705.8Z"/>
<path class="b" color="#53ffac" d="M194.2 772.4L194.2 773.6L117.1 705.8L117.0 704.6Z"/>
<path class="b" color="#63ff9c" d="M194.1 771.3L194.2 772.4L117.0 704.6L117.0 703.4Z"/>
<path class="b" color="#74ff8b" d="M194.1 770.1L194.1 771.3L117.0 703.4L117.0 702.3Z"/>
<path class="b" color="#84ff7b" d="M194.1 768.9L194.1 770.1L117.0 702.3L117.0 701.1Z"/>
<path class="b" color="#94ff6b" d="M194.1 767.7L194.1 768.9L117.0 701.1L116.9 699.9Z"/>
<path class="b" color="#a5ff5a" d="M194.0 766.6L194.1 767.7L116.9 699.9L116.9 698.7Z"/>
<path class="b" color="#b5ff4a" d="M194.0 765.4L194.0 766.6L116.9 698.7L116.9 697.6Z"/>
<path class="b" color="#c5ff3a" d="M194.0 764.2L194.0 765.4L116.9 697.6L116.9 696.4Z"/>
<path class="b" color="#d6ff29" d="M193.9 763.0L194.0 764.2L116.9 696.4L116.8 695.2Z"/>
<path class="b" color="#e6ff19" d="M193.9 761.9L193.9 763.0L116.8 695.2L116.8 694.0Z"/>
<path class="b" color="#f7ff08" d="M193.9 760.7L193.9 761.9L116.8 694.0L116.8 692.9Z"/>
<path class="b" color="#fff700" d="M193.9 759.5L193.9 760.7L116.8 692.9L116.7 691.7Z"/>
<path class="b" color="#ffe600" d="M193.8 758.3L193.9 759.5L116.7 691.7L116.7 690.5Z"/>
<path class="b" color="#ffd600" d="M193.8 757.2L193.8 758.3L116.7 690.5L116.7 689.4Z"/>
<path class="b" color="#ffc500" d="M193.8 756.0L193.8 757.2L116.7 689.4L116.7 688.2Z"/>
<path class="b" color="#ffb500" d="M193.7 754.8L193.8 756.0L116.7 688.2L116.6 687.0Z"/>
<path class="b" color="#ffa400" d="M193.7 753.7L193.7 754.8L116.6 687.0L116.6 685.8Z"/>
<path class="b" color="#ff9400" d="M193.7 752.5L193.7 753.7L116.6 685.8L116.6 684.7Z"/>
<path class="b" color="#ff8300" d="M193.6 751.3L193.7 752.5L116.6 684.7L116.5 683.5Z"/>
<path class="b" color="#ff7200" d="M193.6 750.2L193.6 751.3L116.5 683.5L116.5 682.3Z"/>
<path class="b" color="#ff6100" d="M193.6 749.0L193.6 750.2L116.5 682.3L116.5 681.2Z"/>
<path class="b" color="#ff5100" d="M193.5 747.8L193.6 749.0L116.5 681.2L116.4 680.0Z"/>
<path class="b" color="#ff3f00" d="M193.5 746.6L193.5 747.8L116.4 680.0L116.4 678.8Z"/>
<path class="b" color="#ff2e00" d="M193.5 745.5L193.5 746.6L116.4 678.8L116.3 677.6Z"/>
<path class="b" color="#ff1d00" d="M193.4 744.3L193.5 745.5L116.3 677.6L116.3 676.5Z"/>
<path class="b" color="#ff0b00" d="M193.4 743.1L193.4 744.3L116.3 676.5L116.2 675.3Z"/>
<path class="b" color="#f90000" d="M193.3 741.9L193.4 743.1L116.2 675.3L116.2 674.1Z"/>
<path class="b" color="#e70000" d="M193.3 740.7L193.3 741.9L116.2 674.1L116.1 672.9Z"/>
<path class="b" color="#d50000" d="M193.2 739.6L193.3 740.7L116.1 672.9L116.1 671.7Z"/>
<path class="b" color="#c20000" d="M193.1 738.4L193.2 739.6L116.1 671.7L116.0 670.6Z"/>
<path class="b" color="#af0000" d="M193.0 737.2L193.1 738.4L116.0 670.6L115.9 669.4Z"/>
<path class="b" color="#9a0000" d="M192.7 736.1L193.0 737.2L115.9 669.4L115.6 668.3Z"/>
<path color="#900000" d="M115.4 669.0L115.6 668.3L192.7 736.1L192.5 736.9Z"/>
<path color="#9a0000" d="M115.2 670.3L115.4 669.0L192.5 736.9L192.3 738.1Z"/>
<path color="#a90000" d="M115.1 671.5L115.2 670.3L192.3 738.1L192.2 739.4Z"/>
<path color="#b90000" d="M114.9 672.8L115.1 671.5L192.2 739.4L192.1 740.6Z"/>
<path color="#c90000" d="M114.8 674.0L114.9 672.8L192.1 740.6L192.0 741.8Z"/>
<path color="#da0000" d="M114.7 675.2L114.8 674.0L192.0 741.8L191.8 743.0Z"/>
<path color="#eb0000" d="M114.6 676.5L114.7 675.2L191.8 743.0L191.7 744.3Z"/>
<path color="#fc0000" d="M114.5 677.7L114.6 676.5L191.7 744.3L191.6 745.5Z"/>
<path color="#ff0e00" d="M114.4 678.9L114.5 677.7L191.6 745.5L191.5 746.7Z"/>
<path color="#ff2000" d="M114.3 680.2L114.4 678.9L191.5 746.7L191.4 748.0Z"/>
<path color="#ff3100" d="M114.2 681.4L114.3 680.2L191.4 748.0L191.3 749.2Z"/>
<path color="#ff4300" d="M114.1 682.6L114.2 681.4L191.3 749.2L191.2 750.4Z"/>
<path color="#ff5500" d="M113.9 683.9L114.1 682.6L191.2 750.4L191.1 751.7Z"/>
<path color="#ff6600" d="M113.8 685.1L113.9 683.9L191.1 751.7L190.9 752.9Z"/>
<path color="#ff7800" d="M113.7 686.3L113.8 685.1L190.9 752.9L190.8 754.2Z"/>
<path color="#ff8a00" d="M113.5 687.6L113.7 686.3L190.8 754.2L190.7 755.4Z"/>
<path color="#ff9c00" d="M113.4 688.8L113.5 687.6L190.7 755.4L190.5 756.7Z"/>
<path color="#ffae00" d="M113.2 690.1L113.4 688.8L190.5 756.7L190.3 757.9Z"/>
<path color="#ffc000" d="M113.0 691.3L113.2 690.1L190.3 757.9L190.1 759.2Z"/>
<path color="#ffd200" d="M112.8 692.6L113.0 691.3L190.1 759.2L189.9 760.4Z"/>
<path color="#ffe500" d="M112.6 693.9L112.8 692.6L189.9 760.4L189.7 761.7Z"/>
<path color="#fff700" d="M112.3 695.2L112.6 693.9L189.7 761.7L189.4 763.0Z"/>
<path color="#f5ff0a" d="M111.9 696.5L112.3 695.2L189.4 763.0L189.1 764.3Z"/>
<path color="#e3ff1c" d="M111.5 697.8L111.9 696.5L189.1 764.3L188.7 765.6Z"/>
<path color="#d1ff2e" d="M111.0 699.2L111.5 697.8L188.7 765.6L188.1 767.0Z"/>
<path color="#bfff40" d="M110.3 700.6L111.0 699.2L188.1 767.0L187.4 768.4Z"/>
<path color="#aeff51" d="M109.5 701.8L110.3 700.6L187.4 768.4L186.6 769.6Z"/>
<path color="#a2ff5d" d="M108.7 702.7L109.5 701.8L186.6 769.6L185.8 770.6Z"/>
<path color="#9aff65" d="M107.9 703.5L108.7 702.7L185.8 770.6L185.0 771.3Z"/>
<path color="#94ff6b" d="M107.0 704.1L107.9 703.5L185.0 771.3L184.2 771.9Z"/>
<path color="#8fff70" d="M106.2 704.6L107.0 704.1L184.2 771.9L183.3 772.4Z"/>
<path color="#8cff73" d="M105.4 705.1L106.2 704.6L183.3 772.4L182.5 772.9Z"/>
<path color="#89ff76" d="M104.6 705.5L105.4 705.1L182.5 772.9L181.7 773.4Z"/>
<path color="#87ff78" d="M103.8 705.9L104.6 705.5L181.7 773.4L180.9 773.8Z"/>
<path color="#85ff7a" d="M103.0 706.3L103.8 705.9L180.9 773.8L180.1 774.1Z"/>
<path color="#83ff7c" d="M102.2 706.7L103.0 706.3L180.1 774.1L179.3 774.5Z"/>
<path color="#82ff7d" d="M101.3 707.1L102.2 706.7L179.3 774.5L178.5 774.9Z"/>
<path color="#80ff7f" d="M100.5 707.4L101.3 707.1L178.5 774.9L177.6 775.3Z"/>
<path color="#7fff80" d="M99.7 707.8L100.5 707.4L177.6 775.3L176.8 775.6Z"/>
<path color="#7dff82" d="M98.9 708.2L99.7 707.8L176.8 775.6L176.0 776.0Z"/>
<path color="#7bff84" d="M98.1 708.6L98.9 708.2L176.0 776.0L175.2 776.4Z"/>
<path color="#79ff86" d="M97.3 709.0L98.1 708.6L175.2 776.4L174.4 776.8Z"/>
<path color="#77ff88" d="M96.5 709.5L97.3 709.0L174.4 776.8L173.6 777.3Z"/>
<path color="#73ff8c" d="M95.6 710.0L96.5 709.5L173.6 777.3L172.8 777.8Z"/>
<path color="#6fff90" d="M94.8 710.5L95.6 710.0L172.8 777.8L172.0 778.4Z"/>
<path color="#6aff95" d="M94.0 711.2L94.8 710.5L172.0 778.4L171.1 779.0Z"/>
<path color="#63ff9c" d="M93.2 712.0L94.0 711.2L171.1 779.0L170.3 779.9Z"/>
<path color="#59ffa6" d="M92.4 713.1L93.2 712.0L170.3 779.9L169.5 780.9Z"/>
<path color="#4affb5" d="M91.6 714.5L92.4 713.1L169.5 780.9L168.7 782.3Z"/>
<path color="#38ffc7" d="M91.0 715.9L91.6 714.5L168.7 782.3L168.1 783.7Z"/>
<path color="#26ffd9" d="M90.5 717.3L91.0 715.9L168.1 783.7L167.6 785.1Z"/>
<path color="#14ffeb" d="M90.2 718.6L90.5 717.3L167.6 785.1L167.3 786.4Z"/>
<path color="#02fffd" d="M89.9 719.9L90.2 718.6L167.3 786.4L167.0 787.7Z"/>
<path color="#00efff" d="M89.6 721.1L89.9 719.9L167.0 787.7L166.7 789.0Z"/>
<path color="#00dcff" d="M89.4 722.4L89.6 721.1L166.7 789.0L166.5 790.2Z"/>
<path color="#00caff" d="M89.2 723.7L89.4 722.4L166.5 790.2L166.3 791.5Z"/>
<path color="#00b8ff" d="M89.0 724.9L89.2 723.7L166.3 791.5L166.1 792.8Z"/>
<path color="#00a6ff" d="M88.8 726.2L89.0 724.9L166.1 792.8L166.0 794.0Z"/>
<path color="#0094ff" d="M88.7 727.4L88.8 726.2L166.0 794.0L165.8 795.3Z"/>
<path color="#0082ff" d="M88.5 728.7L88.7 727.4L165.8 795.3L165.7 796.5Z"/>
<path color="#0070ff" d="M88.4 729.9L88.5 728.7L165.7 796.5L165.5 797.7Z"/>
<path color="#005eff" d="M88.3 731.1L88.4 729.9L165.5 797.7L165.4 799.0Z"/>
<path color="#004dff" d="M88.2 732.4L88.3 731.1L165.4 799.0L165.3 800.2Z"/>
<path color="#003bff" d="M88.0 733.6L88.2 732.4L165.3 800.2L165.2 801.4Z"/>
<path color="#002aff" d="M87.9 734.8L88.0 733.6L165.2 801.4L165.1 802.7Z"/>
<path color="#0018ff" d="M87.8 736.1L87.9 734.8L165.1 802.7L164.9 803.9Z"/>
<path color="#0007ff" d="M87.7 737.3L87.8 736.1L164.9 803.9L164.8 805.1Z"/>
<path color="#0000f4" d="M87.6 738.5L87.7 737.3L164.8 805.1L164.7 806.4Z"/>
<path color="#0000e3" d="M87.5 739.8L87.6 738.5L164.7 806.4L164.6 807.6Z"/>
<path color="#0000d3" d="M87.4 741.0L87.5 739.8L164.6 807.6L164.5 808.8Z"/>
<path color="#0000c2" d="M87.3 742.2L87.4 741.0L164.5 808.8L164.4 810.0Z"/>
<path color="#0000b2" d="M87.2 743.5L87.3 742.2L164.4 810.0L164.3 811.3Z"/>
<path color="#0000a3" d="M87.0 744.7L87.2 743.5L164.3 811.3L164.1 812.5Z"/>
<path color="#000095" d="M86.7 746.0L87.0 744.7L164.1 812.5L163.8 813.8Z"/>
<path class="b" color="#000095" d="M163.6 813.4L163.8 813.8L86.7 746.0L86.5 745.6Z"/>
<path class="b" color="#0000a5" d="M163.5 812.2L163.6 813.4L86.5 745.6L86.4 744.4Z"/>
<path class="b" color="#0000b9" d="M163.4 811.1L163.5 812.2L86.4 744.4L86.3 743.3Z"/>
<path class="b" color="#0000cc" d="M163.3 809.9L163.4 811.1L86.3 743.3L86.2 742.1Z"/>
<path class="b" color="#0000de" d="M163.3 808.7L163.3 809.9L86.2 742.1L86.1 740.9Z"/>
<path class="b" color="#0000f0" d="M163.2 807.6L163.3 808.7L86.1 740.9L86.1 739.8Z"/>
<path class="b" color="#0003ff" d="M163.2 806.4L163.2 807.6L86.1 739.8L86.0 738.6Z"/>
<path class="b" color="#0014ff" d="M163.1 805.2L163.2 806.4L86.0 738.6L86.0 737.4Z"/>
<path class="b" color="#0026ff" d="M163.1 804.1L163.1 805.2L86.0 737.4L85.9 736.2Z"/>
<path class="b" color="#0037ff" d="M163.0 802.9L163.1 804.1L85.9 736.2L85.9 735.1Z"/>
<path class="b" color="#0048ff" d="M163.0 801.7L163.0 802.9L85.9 735.1L85.9 733.9Z"/>
<path class="b" color="#0059ff" d="M162.9 800.5L163.0 801.7L85.9 733.9L85.8 732.7Z"/>
<path class="b" color="#006aff" d="M162.9 799.3L162.9 800.5L85.8 732.7L85.8 731.5Z"/>
<path class="b" color="#007bff" d="M162.9 798.2L162.9 799.3L85.8 731.5L85.8 730.3Z"/>
<path class="b" color="#008cff" d="M162.8 797.0L162.9 798.2L85.8 730.3L85.7 729.2Z"/>
<path class="b" color="#009cff" d="M162.8 795.8L162.8 797.0L85.7 729.2L85.7 728.0Z"/>
<path class="b" color="#00adff" d="M162.8 794.6L162.8 795.8L85.7 728.0L85.7 726.8Z"/>
<path class="b" color="#00beff" d="M162.8 793.5L162.8 794.6L85.7 726.8L85.6 725.6Z"/>
<path class="b" color="#00cfff" d="M162.7 792.3L162.8 793.5L85.6 725.6L85.6 724.5Z"/>
<path class="b" color="#00dfff" d="M162.7 791.1L162.7 792.3L85.6 724.5L85.6 723.3Z"/>
<path class="b" color="#00f0ff" d="M162.7 789.9L162.7 791.1L85.6 723.3L85.5 722.1Z"/>
<path class="b" color="#01fffe" d="M162.6 788.8L162.7 789.9L85.5 722.1L85.5 720.9Z"/>
<path class="b" color="#11ffee" d="M162.6 787.6L162.6 788.8L85.5 720.9L85.5 719.8Z"/>
<path class="b" color="#22ffdd" d="M162.6 786.4L162.6 787.6L85.5 719.8L85.5 718.6Z"/>
<path class="b" color="#32ffcd" d="M162.5 785.2L162.6 786.4L85.5 718.6L85.4 717.4Z"/>
<path class="b" color="#43ffbc" d="M162.5 784.1L162.5 785.2L85.4 717.4L85.4 716.2Z"/>
<path class="b" color="#53ffac" d="M162.5 782.9L162.5 784.1L85.4 716.2L85.4 715.1Z"/>
<path class="b" color="#63ff9c" d="M162.5 781.7L162.5 782.9L85.4 715.1L85.3 713.9Z"/>
<path class="b" color="#74ff8b" d="M162.4 780.5L162.5 781.7L85.3 713.9L85.3 712.7Z"/>
<path class="b" color="#84ff7b" d="M162.4 779.4L162.4 780.5L85.3 712.7L85.3 711.5Z"/>
<path class="b" color="#95ff6a" d="M162.4 778.2L162.4 779.4L85.3 711.5L85.3 710.4Z"/>
<path class="b" color="#a5ff5a" d="M162.4 777.0L162.4 778.2L85.3 710.4L85.2 709.2Z"/>
<path class="b" color="#b5ff4a" d="M162.3 775.8L162.4 777.0L85.2 709.2L85.2 708.0Z"/>
<path class="b" color="#c6ff39" d="M162.3 774.7L162.3 775.8L85.2 708.0L85.2 706.8Z"/>
<path class="b" color="#d6ff29" d="M162.3 773.5L162.3 774.7L85.2 706.8L85.2 705.7Z"/>
<path class="b" color="#e7ff18" d="M162.2 772.3L162.3 773.5L85.2 705.7L85.1 704.5Z"/>
<path class="b" color="#f7ff08" d="M162.2 771.2L162.2 772.3L85.1 704.5L85.1 703.3Z"/>
<path class="b" color="#fff700" d="M162.2 770.0L162.2 771.2L85.1 703.3L85.1 702.2Z"/>
<path class="b" color="#ffe600" d="M162.2 768.8L162.2 770.0L85.1 702.2L85.0 701.0Z"/>
<path class="b" color="#ffd600" d="M162.1 767.6L162.2 768.8L85.0 701.0L85.0 699.8Z"/>
<path class="b" color="#ffc500" d="M162.1 766.5L162.1 767.6L85.0 699.8L85.0 698.6Z"/>
<path class="b" color="#ffb500" d="M162.1 765.3L162.1 766.5L85.0 698.6L84.9 697.5Z"/>
<path class="b" color="#ffa400" d="M162.0 764.1L162.1 765.3L84.9 697.5L84.9 696.3Z"/>
<path class="b" color="#ff9300" d="M162.0 763.0L162.0 764.1L84.9 696.3L84.9 695.1Z"/>
<path class="b" color="#ff8300" d="M162.0 761.8L162.0 763.0L84.9 695.1L84.9 694.0Z"/>
<path class="b" color="#ff7200" d="M161.9 760.6L162.0 761.8L84.9 694.0L84.8 692.8Z"/>
<path class="b" color="#ff6100" d="M161.9 759.4L161.9 760.6L84.8 692.8L84.8 691.6Z"/>
<path class="b" color="#ff5000" d="M161.9 758.3L161.9 759.4L84.8 691.6L84.7 690.4Z"/>
<path class="b" color="#ff3f00" d="M161.8 757.1L161.9 758.3L84.7 690.4L84.7 689.3Z"/>
<path class="b" color="#ff2e00" d="M161.8 755.9L161.8 757.1L84.7 689.3L84.7 688.1Z"/>
<path class="b" color="#ff1d00" d="M161.7 754.7L161.8 755.9L84.7 688.1L84.6 686.9Z"/>
<path class="b" color="#ff0b00" d="M161.7 753.6L161.7 754.7L84.6 686.9L84.6 685.7Z"/>
<path class="b" color="#f90000" d="M161.6 752.4L161.7 753.6L84.6 685.7L84.5 684.6Z"/>
<path class="b" color="#e70000" d="M161.6 751.2L161.6 752.4L84.5 684.6L84.5 683.4Z"/>
<path class="b" color="#d50000" d="M161.5 750.0L161.6 751.2L84.5 683.4L84.4 682.2Z"/>
<path class="b" color="#c20000" d="M161.4 748.9L161.5 750.0L84.4 682.2L84.3 681.1Z"/>
<path class="b" color="#af0000" d="M161.3 747.7L161.4 748.9L84.3 681.1L84.2 679.9Z"/>
<path class="b" color="#9a0000" d="M161.1 746.6L161.3 747.7L84.2 679.9L83.9 678.8Z"/>
<path color="#900000" d="M83.7 679.5L83.9 678.8L161.1 746.6L160.8 747.3Z"/>
<path color="#9a0000" d="M83.5 680.8L83.7 679.5L160.8 747.3L160.6 748.6Z"/>
<path color="#a90000" d="M83.4 682.0L83.5 680.8L160.6 748.6L160.5 749.8Z"/>
<path color="#b90000" d="M83.3 683.2L83.4 682.0L160.5 749.8L160.4 751.1Z"/>
<path color="#c90000" d="M83.2 684.5L83.3 683.2L160.4 751.1L160.3 752.3Z"/>
<path color="#da0000" d="M83.1 685.7L83.2 684.5L160.3 752.3L160.2 753.5Z"/>
<path color="#eb0000" d="M82.9 686.9L83.1 685.7L160.2 753.5L160.1 754.7Z"/>
<path color="#fc0000" d="M82.8 688.2L82.9 686.9L160.1 754.7L160.0 756.0Z"/>
<path color="#ff0e00" d="M82.7 689.4L82.8 688.2L160.0 756.0L159.9 757.2Z"/>
<path color="#ff2000" d="M82.6 690.6L82.7 689.4L159.9 757.2L159.7 758.4Z"/>
<path color="#ff3100" d="M82.5 691.9L82.6 690.6L159.7 758.4L159.6 759.7Z"/>
<path color="#ff4300" d="M82.4 693.1L82.5 691.9L159.6 759.7L159.5 760.9Z"/>
<path color="#ff5400" d="M82.3 694.3L82.4 693.1L159.5 760.9L159.4 762.1Z"/>
<path color="#ff6600" d="M82.1 695.6L82.3 694.3L159.4 762.1L159.3 763.4Z"/>
<path color="#ff7800" d="M82.0 696.8L82.1 695.6L159.3 763.4L159.1 764.6Z"/>
<path color="#ff8a00" d="M81.9 698.1L82.0 696.8L159.1 764.6L159.0 765.9Z"/>
<path color="#ff9c00" d="M81.7 699.3L81.9 698.1L159.0 765.9L158.8 767.1Z"/>
<path color="#ffae00" d="M81.5 700.6L81.7 699.3L158.8 767.1L158.7 768.4Z"/>
<path color="#ffc000" d="M81.3 701.8L81.5 700.6L158.7 768.4L158.5 769.6Z"/>
<path color="#ffd200" d="M81.1 703.1L81.3 701.8L158.5 769.6L158.2 770.9Z"/>
<path color="#ffe500" d="M80.9 704.4L81.1 703.1L158.2 770.9L158.0 772.2Z"/>
<path color="#fff700" d="M80.6 705.6L80.9 704.4L158.0 772.2L157.7 773.5Z"/>
<path color="#f5ff0a" d="M80.3 707.0L80.6 705.6L157.7 773.5L157.4 774.8Z"/>
<path color="#e3ff1c" d="M79.9 708.3L80.3 707.0L157.4 774.8L157.0 776.1Z"/>
<path color="#d1ff2e" d="M79.3 709.7L79.9 708.3L157.0 776.1L156.5 777.5Z"/>
<path color="#bfff40" d="M78.6 711.1L79.3 709.7L156.5 777.5L155.7 778.9Z"/>
<path color="#aeff51" d="M152.8 778.2L77.8 712.3L78.6 711.1L155.7 778.9L155.7 779.0Z"/>
<path color="#a2ff5d" d="M152.8 778.2L149.6 777.1L77.0 713.2L77.8 712.3Z"/>
<path color="#9aff65" d="M149.6 777.1L146.5 775.8L76.2 714.0L77.0 713.2Z"/>
<path color="#94ff6b" d="M146.5 775.8L143.4 774.4L75.4 714.6L76.2 714.0Z"/>
<path color="#8fff70" d="M143.4 774.4L140.3 772.9L74.5 715.1L75.4 714.6Z"/>
<path color="#8cff73" d="M140.3 772.9L137.1 771.3L73.7 715.6L74.5 715.1Z"/>
<path color="#89ff76" d="M137.1 771.3L134.0 769.7L72.9 716.0L73.7 715.6Z"/>
<path color="#87ff78" d="M134.0 769.7L130.9 768.1L72.1 716.4L72.9 716.0Z"/>
<path color="#85ff7a" d="M130.9 768.1L127.8 766.5L71.3 716.8L72.1 716.4Z"/>
<path color="#83ff7c" d="M127.8 766.5L124.6 764.8L70.5 717.2L71.3 716.8Z"/>
<path color="#82ff7d" d="M124.6 764.8L121.5 763.1L69.7 717.5L70.5 717.2Z"/>
<path color="#80ff7f" d="M121.5 763.1L118.4 761.5L68.9 717.9L69.7 717.5Z"/>
<path color="#7fff80" d="M118.4 761.5L115.2 759.8L68.0 718.3L68.9 717.9Z"/>
<path color="#7dff82" d="M115.2 759.8L112.1 758.1L67.2 718.7L68.0 718.3Z"/>
<path color="#7bff84" d="M112.1 758.1L109.0 756.5L66.4 719.1L67.2 718.7Z"/>
<path color="#79ff86" d="M109.0 756.5L105.9 754.9L65.6 719.5L66.4 719.1Z"/>
<path color="#77ff88" d="M105.9 754.9L102.7 753.3L64.8 719.9L65.6 719.5Z"/>
<path color="#73ff8c" d="M102.7 753.3L99.6 751.8L64.0 720.4L64.8 719.9Z"/>
<path color="#6fff90" d="M99.6 751.8L96.5 750.3L63.2 721.0L64.0 720.4Z"/>
<path color="#6aff95" d="M96.5 750.3L93.4 749.0L62.3 721.7L63.2 721.0Z"/>
<path color="#63ff9c" d="M93.4 749.0L90.2 747.7L61.5 722.5L62.3 721.7Z"/>
<path color="#59ffa6" d="M90.2 747.7L87.1 746.8L60.7 723.6L61.5 722.5Z"/>
<path color="#4affb5" d="M87.1 746.8L84.0 746.1L59.9 725.0L60.7 723.6Z"/>
<path color="#38ffc7" d="M84.0 746.1L81.7 746.0L59.3 726.4L59.9 725.0Z"/>
<path color="#26ffd9" d="M81.7 746.0L79.9 746.3L58.9 727.7L59.3 726.4Z"/>
<path color="#14ffeb" d="M79.9 746.3L78.5 746.7L58.5 729.0L58.9 727.7Z"/>
<path color="#02fffd" d="M78.5 746.7L77.4 747.2L58.2 730.3L58.5 729.0Z"/>
<path color="#00efff" d="M77.4 747.2L76.4 747.8L57.9 731.6L58.2 730.3Z"/>
<path color="#00dcff" d="M76.4 747.8L75.5 748.5L57.7 732.9L57.9 731.6Z"/>
<path color="#00caff" d="M75.5 748.5L74.7 749.3L57.5 734.2L57.7 732.9Z"/>
<path color="#00b8ff" d="M74.7 749.3L74.0 750.1L57.3 735.4L57.5 734.2Z"/>
<path color="#00a6ff" d="M74.0 750.1L73.4 750.9L57.2 736.7L57.3 735.4Z"/>
<path color="#0094ff" d="M73.4 750.9L72.8 751.8L57.0 737.9L57.2 736.7Z"/>
<path color="#0082ff" d="M72.8 751.8L72.3 752.7L56.9 739.1L57.0 737.9Z"/>
<path color="#0070ff" d="M72.3 752.7L71.8 753.6L56.7 740.4L56.9 739.1Z"/>
<path color="#005eff" d="M71.8 753.6L71.3 754.5L56.6 741.6L56.7 740.4Z"/>
<path color="#004dff" d="M71.3 754.5L70.8 755.4L56.5 742.9L56.6 741.6Z"/>
<path color="#003bff" d="M70.8 755.4L70.4 756.4L56.4 744.1L56.5 742.9Z"/>
<path color="#002aff" d="M70.4 756.4L69.9 757.3L56.3 745.3L56.4 744.1Z"/>
<path color="#0018ff" d="M69.9 757.3L69.5 758.3L56.2 746.5L56.3 745.3Z"/>
<path color="#0007ff" d="M69.5 758.3L69.1 759.3L56.0 747.8L56.2 746.5Z"/>
<path color="#0000f4" d="M69.1 759.3L68.7 760.2L55.9 749.0L56.0 747.8Z"/>
<path color="#0000e3" d="M68.7 760.2L68.3 761.2L55.8 750.2L55.9 749.0Z"/>
<path color="#0000d3" d="M68.3 761.2L67.9 762.1L55.7 751.5L55.8 750.2Z"/>
<path color="#0000c2" d="M67.9 762.1L67.4 763.1L55.6 752.7L55.7 751.5Z"/>
<path color="#0000b2" d="M67.4 763.1L66.9 764.0L55.5 753.9L55.6 752.7Z"/>
<path color="#0000a3" d="M66.9 764.0L66.4 764.9L55.3 755.2L55.5 753.9Z"/>
<path color="#000095" d="M66.4 764.9L65.1 765.4L55.0 756.5L55.3 755.2Z"/>
<path class="b" color="#000095" d="M55.0 756.5L54.8 756.1L64.5 764.5L65.1 765.4Z"/>
<path class="b" color="#0000a5" d="M54.8 756.1L54.7 754.9L63.9 763.0L64.5 764.5Z"/>
<path class="b" color="#0000b9" d="M54.7 754.9L54.6 753.7L63.5 761.6L63.9 763.0Z"/>
<path class="b" color="#0000cc" d="M54.6 753.7L54.5 752.6L63.3 760.2L63.5 761.6Z"/>
<path class="b" color="#0000de" d="M54.5 752.6L54.5 751.4L63.0 758.9L63.3 760.2Z"/>
<path class="b" color="#0000f0" d="M54.5 751.4L54.4 750.2L62.8 757.6L63.0 758.9Z"/>
<path class="b" color="#0003ff" d="M54.4 750.2L54.4 749.1L62.6 756.3L62.8 757.6Z"/>
<path class="b" color="#0014ff" d="M54.4 749.1L54.3 747.9L62.4 755.0L62.6 756.3Z"/>
<path class="b" color="#0025ff" d="M54.3 747.9L54.3 746.7L62.3 753.8L62.4 755.0Z"/>
<path class="b" color="#0037ff" d="M54.3 746.7L54.2 745.5L62.1 752.5L62.3 753.8Z"/>
<path class="b" color="#0048ff" d="M54.2 745.5L54.2 744.4L62.0 751.2L62.1 752.5Z"/>
<path class="b" color="#0059ff" d="M54.2 744.4L54.2 743.2L61.8 750.0L62.0 751.2Z"/>
<path class="b" color="#006aff" d="M54.2 743.2L54.1 742.0L61.7 748.7L61.8 750.0Z"/>
<path class="b" color="#007bff" d="M54.1 742.0L54.1 740.8L61.6 747.4L61.7 748.7Z"/>
<path class="b" color="#008cff" d="M54.1 740.8L54.1 739.7L61.5 746.2L61.6 747.4Z"/>
<path class="b" color="#009cff" d="M54.1 739.7L54.0 738.5L61.3 744.9L61.5 746.2Z"/>
<path class="b" color="#00adff" d="M54.0 738.5L54.0 737.3L61.2 743.7L61.3 744.9Z"/>
<path class="b" color="#00beff" d="M54.0 737.3L54.0 736.1L61.1 742.4L61.2 743.7Z"/>
<path class="b" color="#00ceff" d="M54.0 736.1L53.9 734.9L61.0 741.1L61.1 742.4Z"/>
<path class="b" color="#00dfff" d="M53.9 734.9L53.9 733.8L60.9 739.9L61.0 741.1Z"/>
<path class="b" color="#00efff" d="M53.9 733.8L53.9 732.6L60.8 738.7L60.9 739.9Z"/>
<path class="b" color="#01fffe" d="M53.9 732.6L53.8 731.4L60.7 737.4L60.8 738.7Z"/>
<path class="b" color="#11ffee" d="M53.8 731.4L53.8 730.2L60.6 736.2L60.7 737.4Z"/>
<path class="b" color="#22ffdd" d="M53.8 730.2L53.8 729.1L60.4 734.9L60.6 736.2Z"/>
<path class="b" color="#32ffcd" d="M53.8 729.1L53.8 727.9L60.3 733.7L60.4 734.9Z"/>
<path class="b" color="#43ffbc" d="M53.8 727.9L53.7 726.7L60.2 732.4L60.3 733.7Z"/>
<path class="b" color="#53ffac" d="M53.7 726.7L53.7 725.5L60.1 731.2L60.2 732.4Z"/>
<path class="b" color="#63ff9c" d="M53.7 725.5L53.7 724.4L60.0 730.0L60.1 731.2Z"/>
<path class="b" color="#74ff8b" d="M53.7 724.4L53.6 723.2L59.9 728.7L60.0 730.0Z"/>
<path class="b" color="#84ff7b" d="M53.6 723.2L53.6 722.0L59.8 727.5L59.9 728.7Z"/>
<path class="b" color="#95ff6a" d="M53.6 722.0L53.6 720.8L59.7 726.2L59.8 727.5Z"/>
<path class="b" color="#a5ff5a" d="M53.6 720.8L53.6 719.7L59.6 725.0L59.7 726.2Z"/>
<path class="b" color="#b5ff4a" d="M53.6 719.7L53.5 718.5L59.5 723.8L59.6 725.0Z"/>
<path class="b" color="#c6ff39" d="M53.5 718.5L53.5 717.3L59.4 722.5L59.5 723.8Z"/>
<path class="b" color="#d6ff29" d="M53.5 717.3L53.5 716.1L59.3 721.3L59.4 722.5Z"/>
<path class="b" color="#e7ff18" d="M53.5 716.1L53.5 715.0L59.2 720.0L59.3 721.3Z"/>
<path class="b" color="#f7ff08" d="M53.5 715.0L53.4 713.8L59.1 718.8L59.2 720.0Z"/>
<path class="b" color="#fff700" d="M53.4 713.8L53.4 712.6L59.0 717.6L59.1 718.8Z"/>
<path class="b" color="#ffe600" d="M53.4 712.6L53.4 711.5L58.9 716.3L59.0 717.6Z"/>
<path class="b" color="#ffd600" d="M53.4 711.5L53.3 710.3L58.8 715.1L58.9 716.3Z"/>
<path class="b" color="#ffc500" d="M53.3 710.3L53.3 709.1L58.7 713.8L58.8 715.1Z"/>
<path class="b" color="#ffb500" d="M53.3 709.1L53.3 707.9L58.5 712.6L58.7 713.8Z"/>
<path class="b" color="#ffa400" d="M53.3 707.9L53.2 706.8L58.4 711.3L58.5 712.6Z"/>
<path class="b" color="#ff9400" d="M53.2 706.8L53.2 705.6L58.3 710.1L58.4 711.3Z"/>
<path class="b" color="#ff8300" d="M53.2 705.6L53.2 704.4L58.2 708.8L58.3 710.1Z"/>
<path class="b" color="#ff7200" d="M53.2 704.4L53.1 703.3L58.0 707.6L58.2 708.8Z"/>
<path class="b" color="#ff6100" d="M53.1 703.3L53.1 702.1L57.9 706.3L58.0 707.6Z"/>
<path class="b" color="#ff5000" d="M53.1 702.1L53.1 700.9L57.8 705.1L57.9 706.3Z"/>
<path class="b" color="#ff3f00" d="M53.1 700.9L53.0 699.8L57.6 703.8L57.8 705.1Z"/>
<path class="b" color="#ff2e00" d="M53.0 699.8L53.0 698.6L57.5 702.5L57.6 703.8Z"/>
<path class="b" color="#ff1d00" d="M53.0 698.6L52.9 697.4L57.3 701.2L57.5 702.5Z"/>
<path class="b" color="#ff0b00" d="M52.9 697.4L52.9 696.2L57.1 699.9L57.3 701.2Z"/>
<path class="b" color="#f90000" d="M52.9 696.2L52.8 695.0L56.9 698.6L57.1 699.9Z"/>
<path class="b" color="#e70000" d="M52.8 695.0L52.8 693.9L56.7 697.3L56.9 698.6Z"/>
<path class="b" color="#d50000" d="M52.8 693.9L52.7 692.7L56.4 696.0L56.7 697.3Z"/>
<path class="b" color="#c20000" d="M52.7 692.7L52.6 691.5L56.1 694.6L56.4 696.0Z"/>
<path class="b" color="#af0000" d="M52.6 691.5L52.5 690.4L55.7 693.2L56.1 694.6Z"/>
<path class="b" color="#9a0000" d="M52.5 690.4L52.3 689.3L54.7 691.4L55.7 693.2Z"/>
<path color="#8f0000" d="M54.7 691.4L53.9 691.5L52.1 689.8L52.3 689.3Z"/>
<path color="#980000" d="M53.9 691.5L53.2 692.2L51.9 691.1L52.1 689.8Z"/>
<path color="#a70000" d="M53.2 692.2L52.7 693.1L51.7 692.3L51.9 691.1Z"/>
<path color="#b70000" d="M52.7 693.1L52.2 694.1L51.6 693.6L51.7 692.3Z"/>
<path color="#c70000" d="M52.2 694.1L51.8 695.0L51.5 694.8L51.6 693.6Z"/>
<path color="#d80000" d="M51.8 695.0L51.4 695.8L51.5 694.8Z"/>
</g>
<path class="ax" d="M51.5 787.6L155.7 846.5L291.4 801.6M155.7 846.5L152.3 847.6M103.6 817.1L100.2 818.2M51.5 787.6L48.1 788.8M155.7 846.5L158.6 848.1M223.6 824.1L226.4 825.7M291.4 801.6L294.3 803.3M51.5 787.6L49.1 786.3M51.5 755.6L49.1 754.3M51.4 723.6L49.1 722.3M51.4 691.6L49.1 690.3M51.4 659.5L49.0 658.2"/>
<text class="t" transform="translate(45.9 789.0) scale(1.12 1)" text-anchor="end" font-size="12.2">-400</text>
<text class="t" transform="translate(45.9 757.0) scale(1.12 1)" text-anchor="end" font-size="12.2">-200</text>
<text class="t" transform="translate(45.8 725.0) scale(1.12 1)" text-anchor="end" font-size="12.2">0</text>
<text class="t" transform="translate(45.8 693.0) scale(1.12 1)" text-anchor="end" font-size="12.2">200</text>
<text class="t" transform="translate(45.8 660.9) scale(1.12 1)" text-anchor="end" font-size="12.2">400</text>
<text class="t" transform="translate(45.7 802.4) scale(1.12 1)" text-anchor="end" font-size="12.2">10</text>
<text class="t" transform="translate(97.8 831.8) scale(1.12 1)" text-anchor="end" font-size="12.2">0</text>
<text class="t" transform="translate(149.9 861.2) scale(1.12 1)" text-anchor="end" font-size="12.2">-10</text>
<text class="t" transform="translate(95.7 862.3) scale(0.95 1)" text-anchor="middle" font-size="14.5">t</text>
<text class="t" transform="translate(161.7 862.7) scale(1.12 1)" text-anchor="start" font-size="12.2">-10</text>
<text class="t" transform="translate(229.6 840.3) scale(1.12 1)" text-anchor="start" font-size="12.2">0</text>
<text class="t" transform="translate(297.4 817.9) scale(1.12 1)" text-anchor="start" font-size="12.2">10</text>
<text class="t" transform="translate(222.2 865.5) scale(0.90 1)" text-anchor="middle" font-size="14.5">x</text>
<text class="t" font-size="13.6" text-anchor="middle" transform="translate(12.4 722.9) rotate(-90) scale(0.970 1)">Im(N<tspan font-size="9.5" dy="3.4">5</tspan><tspan dy="-3.4">(x,t))</tspan></text>
<rect x="306.50" y="613.30" width="18.80" height="233.40" fill="url(#jet)"/>
<text class="t" transform="translate(327.0 844.6) scale(1.12 1)" text-anchor="start" font-size="12.2">-200</text>
<text class="t" transform="translate(327.0 817.1) scale(1.12 1)" text-anchor="start" font-size="12.2">-150</text>
<text class="t" transform="translate(327.0 789.7) scale(1.12 1)" text-anchor="start" font-size="12.2">-100</text>
<text class="t" transform="translate(327.0 762.3) scale(1.12 1)" text-anchor="start" font-size="12.2">-50</text>
<text class="t" transform="translate(327.0 734.8) scale(1.12 1)" text-anchor="start" font-size="12.2">0</text>
<text class="t" transform="translate(327.0 707.4) scale(1.12 1)" text-anchor="start" font-size="12.2">50</text>
<text class="t" transform="translate(327.0 680.0) scale(1.12 1)" text-anchor="start" font-size="12.2">100</text>
<text class="t" transform="translate(327.0 652.6) scale(1.12 1)" text-anchor="start" font-size="12.2">150</text>
<text class="t" transform="translate(327.0 625.1) scale(1.12 1)" text-anchor="start" font-size="12.2">200</text>
<path class="cbt" d="M306.5 839.5h2.3M325.3 839.5h-2.5M306.5 812.0h2.3M325.3 812.0h-2.5M306.5 784.6h2.3M325.3 784.6h-2.5M306.5 757.2h2.3M325.3 757.2h-2.5M306.5 729.7h2.3M325.3 729.7h-2.5M306.5 702.3h2.3M325.3 702.3h-2.5M306.5 674.9h2.3M325.3 674.9h-2.5M306.5 647.5h2.3M325.3 647.5h-2.5M306.5 620.0h2.3M325.3 620.0h-2.5"/>
<path class="cbb" d="M325.0 613.3V846.4H306.5"/>
<rect x="390.10" y="616.00" width="238.80" height="222.65" fill="url(#dg2)"/>
<text class="t" transform="translate(390.1 853.0) scale(1.12 1)" text-anchor="middle" font-size="12.2">-10</text>
<text class="t" transform="translate(387.5 843.0) scale(1.12 1)" text-anchor="end" font-size="12.2">-10</text>
<text class="t" transform="translate(449.8 853.0) scale(1.12 1)" text-anchor="middle" font-size="12.2">-5</text>
<text class="t" transform="translate(387.5 787.4) scale(1.12 1)" text-anchor="end" font-size="12.2">-5</text>
<text class="t" transform="translate(509.5 853.0) scale(1.12 1)" text-anchor="middle" font-size="12.2">0</text>
<text class="t" transform="translate(387.5 731.7) scale(1.12 1)" text-anchor="end" font-size="12.2">0</text>
<text class="t" transform="translate(569.2 853.0) scale(1.12 1)" text-anchor="middle" font-size="12.2">5</text>
<text class="t" transform="translate(387.5 676.1) scale(1.12 1)" text-anchor="end" font-size="12.2">5</text>
<text class="t" transform="translate(628.9 853.0) scale(1.12 1)" text-anchor="middle" font-size="12.2">10</text>
<text class="t" transform="translate(387.5 620.4) scale(1.12 1)" text-anchor="end" font-size="12.2">10</text>
<text class="t" transform="translate(509.0 866.2) scale(0.90 1)" text-anchor="middle" font-size="14.5">x</text>
<text class="t" font-size="14.5" text-anchor="middle" transform="translate(364.1 728.1) rotate(-90) scale(0.95 1)">t</text>
<rect x="641.05" y="615.50" width="18.15" height="223.40" fill="url(#jet)"/>
<text class="t" transform="translate(660.9 837.2) scale(1.12 1)" text-anchor="start" font-size="12.2">-200</text>
<text class="t" transform="translate(660.9 810.9) scale(1.12 1)" text-anchor="start" font-size="12.2">-150</text>
<text class="t" transform="translate(660.9 784.6) scale(1.12 1)" text-anchor="start" font-size="12.2">-100</text>
<text class="t" transform="translate(660.9 758.2) scale(1.12 1)" text-anchor="start" font-size="12.2">-50</text>
<text class="t" transform="translate(660.9 731.9) scale(1.12 1)" text-anchor="start" font-size="12.2">0</text>
<text class="t" transform="translate(660.9 705.5) scale(1.12 1)" text-anchor="start" font-size="12.2">50</text>
<text class="t" transform="translate(660.9 679.2) scale(1.12 1)" text-anchor="start" font-size="12.2">100</text>
<text class="t" transform="translate(660.9 652.8) scale(1.12 1)" text-anchor="start" font-size="12.2">150</text>
<text class="t" transform="translate(660.9 626.5) scale(1.12 1)" text-anchor="start" font-size="12.2">200</text>
<path class="cbt" d="M641.0 832.1h2.3M659.2 832.1h-2.5M641.0 805.8h2.3M659.2 805.8h-2.5M641.0 779.5h2.3M659.2 779.5h-2.5M641.0 753.1h2.3M659.2 753.1h-2.5M641.0 726.8h2.3M659.2 726.8h-2.5M641.0 700.4h2.3M659.2 700.4h-2.5M641.0 674.1h2.3M659.2 674.1h-2.5M641.0 647.7h2.3M659.2 647.7h-2.5M641.0 621.4h2.3M659.2 621.4h-2.5"/>
<path class="cbb" d="M658.9 615.5V838.6H641.0"/>
<text class="rn" x="341.9" y="900.2" text-anchor="middle" letter-spacing="-0.90">(iii)</text>
</svg>
</body></html>
